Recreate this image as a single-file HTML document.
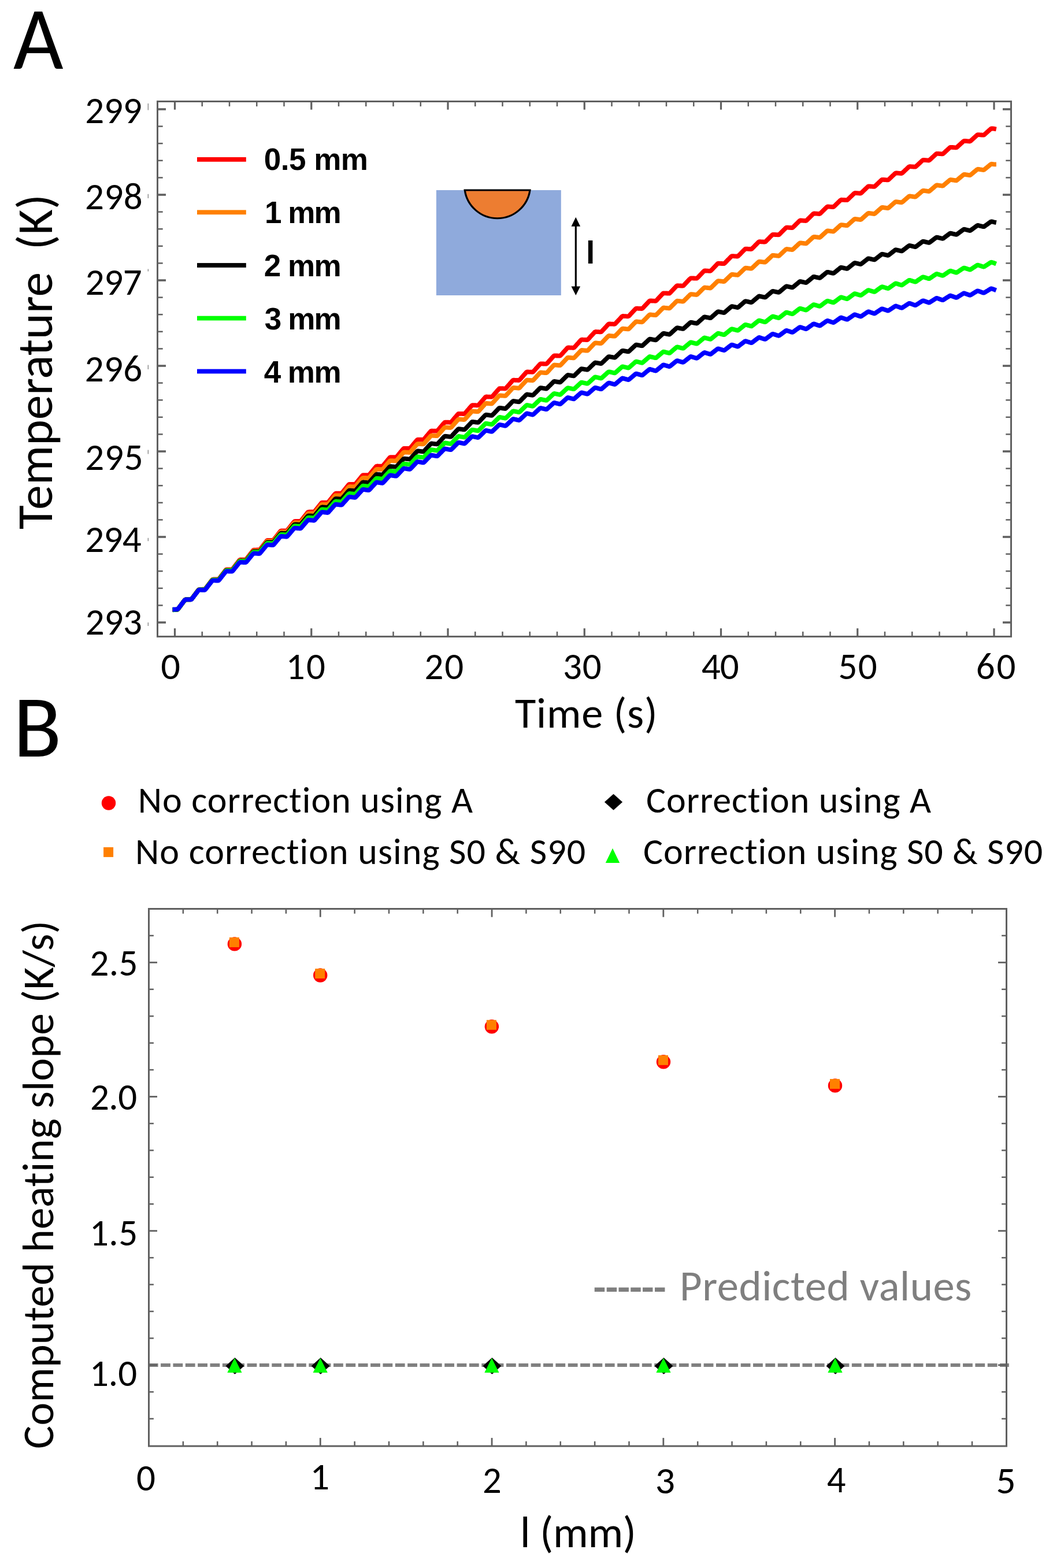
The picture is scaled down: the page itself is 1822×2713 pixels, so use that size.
<!DOCTYPE html>
<html><head><meta charset="utf-8"><title>Figure</title>
<style>html,body{margin:0;padding:0;background:#fff} svg{display:block} text{font-variant-ligatures:none;font-feature-settings:"liga" 0,"clig" 0} .c{font-size-adjust:0.4775}</style></head>
<body><svg width="1822" height="2713" viewBox="0 0 1822 2713">
<rect width="1822" height="2713" fill="#fff"/>
<rect x="272.5" y="175.5" width="1477.0" height="925.9" fill="none" stroke="#606060" stroke-width="3"/>
<g stroke="#606060" fill="none"><line x1="302.50" y1="1101.4" x2="302.50" y2="1087.2" stroke-width="3.2"/><line x1="302.50" y1="175.5" x2="302.50" y2="189.7" stroke-width="3.2"/><line x1="349.75" y1="1101.4" x2="349.75" y2="1092.8" stroke-width="2.5"/><line x1="349.75" y1="175.5" x2="349.75" y2="184.1" stroke-width="2.5"/><line x1="397.00" y1="1101.4" x2="397.00" y2="1092.8" stroke-width="2.5"/><line x1="397.00" y1="175.5" x2="397.00" y2="184.1" stroke-width="2.5"/><line x1="444.25" y1="1101.4" x2="444.25" y2="1092.8" stroke-width="2.5"/><line x1="444.25" y1="175.5" x2="444.25" y2="184.1" stroke-width="2.5"/><line x1="491.50" y1="1101.4" x2="491.50" y2="1092.8" stroke-width="2.5"/><line x1="491.50" y1="175.5" x2="491.50" y2="184.1" stroke-width="2.5"/><line x1="538.75" y1="1101.4" x2="538.75" y2="1087.2" stroke-width="3.2"/><line x1="538.75" y1="175.5" x2="538.75" y2="189.7" stroke-width="3.2"/><line x1="586.00" y1="1101.4" x2="586.00" y2="1092.8" stroke-width="2.5"/><line x1="586.00" y1="175.5" x2="586.00" y2="184.1" stroke-width="2.5"/><line x1="633.25" y1="1101.4" x2="633.25" y2="1092.8" stroke-width="2.5"/><line x1="633.25" y1="175.5" x2="633.25" y2="184.1" stroke-width="2.5"/><line x1="680.50" y1="1101.4" x2="680.50" y2="1092.8" stroke-width="2.5"/><line x1="680.50" y1="175.5" x2="680.50" y2="184.1" stroke-width="2.5"/><line x1="727.75" y1="1101.4" x2="727.75" y2="1092.8" stroke-width="2.5"/><line x1="727.75" y1="175.5" x2="727.75" y2="184.1" stroke-width="2.5"/><line x1="775.00" y1="1101.4" x2="775.00" y2="1087.2" stroke-width="3.2"/><line x1="775.00" y1="175.5" x2="775.00" y2="189.7" stroke-width="3.2"/><line x1="822.25" y1="1101.4" x2="822.25" y2="1092.8" stroke-width="2.5"/><line x1="822.25" y1="175.5" x2="822.25" y2="184.1" stroke-width="2.5"/><line x1="869.50" y1="1101.4" x2="869.50" y2="1092.8" stroke-width="2.5"/><line x1="869.50" y1="175.5" x2="869.50" y2="184.1" stroke-width="2.5"/><line x1="916.75" y1="1101.4" x2="916.75" y2="1092.8" stroke-width="2.5"/><line x1="916.75" y1="175.5" x2="916.75" y2="184.1" stroke-width="2.5"/><line x1="964.00" y1="1101.4" x2="964.00" y2="1092.8" stroke-width="2.5"/><line x1="964.00" y1="175.5" x2="964.00" y2="184.1" stroke-width="2.5"/><line x1="1011.25" y1="1101.4" x2="1011.25" y2="1087.2" stroke-width="3.2"/><line x1="1011.25" y1="175.5" x2="1011.25" y2="189.7" stroke-width="3.2"/><line x1="1058.50" y1="1101.4" x2="1058.50" y2="1092.8" stroke-width="2.5"/><line x1="1058.50" y1="175.5" x2="1058.50" y2="184.1" stroke-width="2.5"/><line x1="1105.75" y1="1101.4" x2="1105.75" y2="1092.8" stroke-width="2.5"/><line x1="1105.75" y1="175.5" x2="1105.75" y2="184.1" stroke-width="2.5"/><line x1="1153.00" y1="1101.4" x2="1153.00" y2="1092.8" stroke-width="2.5"/><line x1="1153.00" y1="175.5" x2="1153.00" y2="184.1" stroke-width="2.5"/><line x1="1200.25" y1="1101.4" x2="1200.25" y2="1092.8" stroke-width="2.5"/><line x1="1200.25" y1="175.5" x2="1200.25" y2="184.1" stroke-width="2.5"/><line x1="1247.50" y1="1101.4" x2="1247.50" y2="1087.2" stroke-width="3.2"/><line x1="1247.50" y1="175.5" x2="1247.50" y2="189.7" stroke-width="3.2"/><line x1="1294.75" y1="1101.4" x2="1294.75" y2="1092.8" stroke-width="2.5"/><line x1="1294.75" y1="175.5" x2="1294.75" y2="184.1" stroke-width="2.5"/><line x1="1342.00" y1="1101.4" x2="1342.00" y2="1092.8" stroke-width="2.5"/><line x1="1342.00" y1="175.5" x2="1342.00" y2="184.1" stroke-width="2.5"/><line x1="1389.25" y1="1101.4" x2="1389.25" y2="1092.8" stroke-width="2.5"/><line x1="1389.25" y1="175.5" x2="1389.25" y2="184.1" stroke-width="2.5"/><line x1="1436.50" y1="1101.4" x2="1436.50" y2="1092.8" stroke-width="2.5"/><line x1="1436.50" y1="175.5" x2="1436.50" y2="184.1" stroke-width="2.5"/><line x1="1483.75" y1="1101.4" x2="1483.75" y2="1087.2" stroke-width="3.2"/><line x1="1483.75" y1="175.5" x2="1483.75" y2="189.7" stroke-width="3.2"/><line x1="1531.00" y1="1101.4" x2="1531.00" y2="1092.8" stroke-width="2.5"/><line x1="1531.00" y1="175.5" x2="1531.00" y2="184.1" stroke-width="2.5"/><line x1="1578.25" y1="1101.4" x2="1578.25" y2="1092.8" stroke-width="2.5"/><line x1="1578.25" y1="175.5" x2="1578.25" y2="184.1" stroke-width="2.5"/><line x1="1625.50" y1="1101.4" x2="1625.50" y2="1092.8" stroke-width="2.5"/><line x1="1625.50" y1="175.5" x2="1625.50" y2="184.1" stroke-width="2.5"/><line x1="1672.75" y1="1101.4" x2="1672.75" y2="1092.8" stroke-width="2.5"/><line x1="1672.75" y1="175.5" x2="1672.75" y2="184.1" stroke-width="2.5"/><line x1="1720.00" y1="1101.4" x2="1720.00" y2="1087.2" stroke-width="3.2"/><line x1="1720.00" y1="175.5" x2="1720.00" y2="189.7" stroke-width="3.2"/><line x1="272.5" y1="189.00" x2="287.0" y2="189.00" stroke-width="3.6"/><line x1="1749.5" y1="189.00" x2="1735.0" y2="189.00" stroke-width="3.6"/><line x1="272.5" y1="218.60" x2="281.7" y2="218.60" stroke-width="2.5"/><line x1="1749.5" y1="218.60" x2="1740.3" y2="218.60" stroke-width="2.5"/><line x1="272.5" y1="248.20" x2="281.7" y2="248.20" stroke-width="2.5"/><line x1="1749.5" y1="248.20" x2="1740.3" y2="248.20" stroke-width="2.5"/><line x1="272.5" y1="277.80" x2="281.7" y2="277.80" stroke-width="2.5"/><line x1="1749.5" y1="277.80" x2="1740.3" y2="277.80" stroke-width="2.5"/><line x1="272.5" y1="307.40" x2="281.7" y2="307.40" stroke-width="2.5"/><line x1="1749.5" y1="307.40" x2="1740.3" y2="307.40" stroke-width="2.5"/><line x1="272.5" y1="337.00" x2="287.0" y2="337.00" stroke-width="3.6"/><line x1="1749.5" y1="337.00" x2="1735.0" y2="337.00" stroke-width="3.6"/><line x1="272.5" y1="366.60" x2="281.7" y2="366.60" stroke-width="2.5"/><line x1="1749.5" y1="366.60" x2="1740.3" y2="366.60" stroke-width="2.5"/><line x1="272.5" y1="396.20" x2="281.7" y2="396.20" stroke-width="2.5"/><line x1="1749.5" y1="396.20" x2="1740.3" y2="396.20" stroke-width="2.5"/><line x1="272.5" y1="425.80" x2="281.7" y2="425.80" stroke-width="2.5"/><line x1="1749.5" y1="425.80" x2="1740.3" y2="425.80" stroke-width="2.5"/><line x1="272.5" y1="455.40" x2="281.7" y2="455.40" stroke-width="2.5"/><line x1="1749.5" y1="455.40" x2="1740.3" y2="455.40" stroke-width="2.5"/><line x1="272.5" y1="485.00" x2="287.0" y2="485.00" stroke-width="3.6"/><line x1="1749.5" y1="485.00" x2="1735.0" y2="485.00" stroke-width="3.6"/><line x1="272.5" y1="514.60" x2="281.7" y2="514.60" stroke-width="2.5"/><line x1="1749.5" y1="514.60" x2="1740.3" y2="514.60" stroke-width="2.5"/><line x1="272.5" y1="544.20" x2="281.7" y2="544.20" stroke-width="2.5"/><line x1="1749.5" y1="544.20" x2="1740.3" y2="544.20" stroke-width="2.5"/><line x1="272.5" y1="573.80" x2="281.7" y2="573.80" stroke-width="2.5"/><line x1="1749.5" y1="573.80" x2="1740.3" y2="573.80" stroke-width="2.5"/><line x1="272.5" y1="603.40" x2="281.7" y2="603.40" stroke-width="2.5"/><line x1="1749.5" y1="603.40" x2="1740.3" y2="603.40" stroke-width="2.5"/><line x1="272.5" y1="633.00" x2="287.0" y2="633.00" stroke-width="3.6"/><line x1="1749.5" y1="633.00" x2="1735.0" y2="633.00" stroke-width="3.6"/><line x1="272.5" y1="662.60" x2="281.7" y2="662.60" stroke-width="2.5"/><line x1="1749.5" y1="662.60" x2="1740.3" y2="662.60" stroke-width="2.5"/><line x1="272.5" y1="692.20" x2="281.7" y2="692.20" stroke-width="2.5"/><line x1="1749.5" y1="692.20" x2="1740.3" y2="692.20" stroke-width="2.5"/><line x1="272.5" y1="721.80" x2="281.7" y2="721.80" stroke-width="2.5"/><line x1="1749.5" y1="721.80" x2="1740.3" y2="721.80" stroke-width="2.5"/><line x1="272.5" y1="751.40" x2="281.7" y2="751.40" stroke-width="2.5"/><line x1="1749.5" y1="751.40" x2="1740.3" y2="751.40" stroke-width="2.5"/><line x1="272.5" y1="781.00" x2="287.0" y2="781.00" stroke-width="3.6"/><line x1="1749.5" y1="781.00" x2="1735.0" y2="781.00" stroke-width="3.6"/><line x1="272.5" y1="810.60" x2="281.7" y2="810.60" stroke-width="2.5"/><line x1="1749.5" y1="810.60" x2="1740.3" y2="810.60" stroke-width="2.5"/><line x1="272.5" y1="840.20" x2="281.7" y2="840.20" stroke-width="2.5"/><line x1="1749.5" y1="840.20" x2="1740.3" y2="840.20" stroke-width="2.5"/><line x1="272.5" y1="869.80" x2="281.7" y2="869.80" stroke-width="2.5"/><line x1="1749.5" y1="869.80" x2="1740.3" y2="869.80" stroke-width="2.5"/><line x1="272.5" y1="899.40" x2="281.7" y2="899.40" stroke-width="2.5"/><line x1="1749.5" y1="899.40" x2="1740.3" y2="899.40" stroke-width="2.5"/><line x1="272.5" y1="929.00" x2="287.0" y2="929.00" stroke-width="3.6"/><line x1="1749.5" y1="929.00" x2="1735.0" y2="929.00" stroke-width="3.6"/><line x1="272.5" y1="958.60" x2="281.7" y2="958.60" stroke-width="2.5"/><line x1="1749.5" y1="958.60" x2="1740.3" y2="958.60" stroke-width="2.5"/><line x1="272.5" y1="988.20" x2="281.7" y2="988.20" stroke-width="2.5"/><line x1="1749.5" y1="988.20" x2="1740.3" y2="988.20" stroke-width="2.5"/><line x1="272.5" y1="1017.80" x2="281.7" y2="1017.80" stroke-width="2.5"/><line x1="1749.5" y1="1017.80" x2="1740.3" y2="1017.80" stroke-width="2.5"/><line x1="272.5" y1="1047.40" x2="281.7" y2="1047.40" stroke-width="2.5"/><line x1="1749.5" y1="1047.40" x2="1740.3" y2="1047.40" stroke-width="2.5"/><line x1="272.5" y1="1077.00" x2="287.0" y2="1077.00" stroke-width="3.6"/><line x1="1749.5" y1="1077.00" x2="1735.0" y2="1077.00" stroke-width="3.6"/><line x1="256.3" y1="178.9" x2="256.3" y2="190.4" stroke="#6a6a6a" stroke-width="1.1"/><line x1="256.3" y1="335.8" x2="256.3" y2="343.0" stroke="#6a6a6a" stroke-width="1.1"/><line x1="256.3" y1="465.4" x2="256.3" y2="469.5" stroke="#6a6a6a" stroke-width="1.1"/><line x1="256.3" y1="631.6" x2="256.3" y2="638.9" stroke="#6a6a6a" stroke-width="1.1"/><line x1="256.3" y1="778.6" x2="256.3" y2="785.5" stroke="#6a6a6a" stroke-width="1.1"/><line x1="256.3" y1="930.7" x2="256.3" y2="936.2" stroke="#6a6a6a" stroke-width="1.1"/><line x1="256.3" y1="1077.0" x2="256.3" y2="1083.0" stroke="#6a6a6a" stroke-width="1.1"/></g>
<path d="M302.5,1054.8L303.0,1054.8L303.4,1054.8L303.9,1054.7L304.4,1054.7L304.9,1054.7L305.3,1054.7L305.8,1054.7L306.3,1054.6L306.8,1054.6L307.2,1054.4L307.7,1054.1L308.2,1053.5L308.6,1053.0L309.1,1052.3L309.6,1051.7L310.1,1051.1L310.5,1050.4L311.0,1049.8L311.5,1049.2L311.9,1048.5L312.4,1047.9L312.9,1047.3L313.4,1046.6L313.8,1046.0L314.3,1045.3L314.8,1044.7L315.3,1044.1L315.7,1043.4L316.2,1042.8L316.7,1042.2L317.1,1041.5L317.6,1040.9L318.1,1040.3L318.6,1039.6L319.0,1039.0L319.5,1038.4L320.0,1037.9L320.5,1037.6L320.9,1037.4L321.4,1037.3L321.9,1037.3L322.3,1037.3L322.8,1037.3L323.3,1037.2L323.8,1037.2L324.2,1037.2L324.7,1037.2L325.2,1037.2L325.7,1037.2L326.1,1037.2L326.6,1037.2L327.1,1037.2L327.5,1037.1L328.0,1037.1L328.5,1037.1L329.0,1037.1L329.4,1037.1L329.9,1037.1L330.4,1037.0L330.9,1036.8L331.3,1036.5L331.8,1036.0L332.3,1035.4L332.7,1034.8L333.2,1034.2L333.7,1033.5L334.2,1032.9L334.6,1032.3L335.1,1031.6L335.6,1031.0L336.0,1030.4L336.5,1029.7L337.0,1029.1L337.5,1028.5L337.9,1027.9L338.4,1027.2L338.9,1026.6L339.4,1026.0L339.8,1025.3L340.3,1024.7L340.8,1024.1L341.2,1023.4L341.7,1022.8L342.2,1022.2L342.7,1021.6L343.1,1021.0L343.6,1020.5L344.1,1020.1L344.6,1019.9L345.0,1019.9L345.5,1019.8L346.0,1019.8L346.4,1019.8L346.9,1019.8L347.4,1019.8L347.9,1019.8L348.3,1019.8L348.8,1019.8L349.3,1019.8L349.8,1019.7L350.2,1019.7L350.7,1019.7L351.2,1019.7L351.6,1019.7L352.1,1019.7L352.6,1019.7L353.1,1019.7L353.5,1019.6L354.0,1019.6L354.5,1019.4L354.9,1019.1L355.4,1018.6L355.9,1018.0L356.4,1017.4L356.8,1016.8L357.3,1016.2L357.8,1015.5L358.3,1014.9L358.7,1014.3L359.2,1013.6L359.7,1013.0L360.1,1012.4L360.6,1011.8L361.1,1011.1L361.6,1010.5L362.0,1009.9L362.5,1009.3L363.0,1008.6L363.5,1008.0L363.9,1007.4L364.4,1006.8L364.9,1006.1L365.3,1005.5L365.8,1004.9L366.3,1004.3L366.8,1003.7L367.2,1003.2L367.7,1002.8L368.2,1002.7L368.6,1002.6L369.1,1002.5L369.6,1002.5L370.1,1002.5L370.5,1002.5L371.0,1002.5L371.5,1002.5L372.0,1002.5L372.4,1002.5L372.9,1002.5L373.4,1002.5L373.8,1002.5L374.3,1002.4L374.8,1002.4L375.3,1002.4L375.7,1002.4L376.2,1002.4L376.7,1002.4L377.2,1002.4L377.6,1002.3L378.1,1002.2L378.6,1001.8L379.0,1001.4L379.5,1000.8L380.0,1000.2L380.5,999.6L380.9,998.9L381.4,998.3L381.9,997.7L382.4,997.1L382.8,996.5L383.3,995.8L383.8,995.2L384.2,994.6L384.7,994.0L385.2,993.3L385.7,992.7L386.1,992.1L386.6,991.5L387.1,990.9L387.6,990.2L388.0,989.6L388.5,989.0L389.0,988.4L389.4,987.8L389.9,987.2L390.4,986.6L390.9,986.1L391.3,985.7L391.8,985.5L392.3,985.4L392.7,985.4L393.2,985.4L393.7,985.4L394.2,985.4L394.6,985.4L395.1,985.4L395.6,985.4L396.1,985.4L396.5,985.3L397.0,985.3L397.5,985.3L397.9,985.3L398.4,985.3L398.9,985.3L399.4,985.3L399.8,985.3L400.3,985.3L400.8,985.3L401.3,985.2L401.7,985.1L402.2,984.8L402.7,984.3L403.1,983.7L403.6,983.1L404.1,982.5L404.6,981.9L405.0,981.3L405.5,980.6L406.0,980.0L406.4,979.4L406.9,978.8L407.4,978.2L407.9,977.6L408.3,976.9L408.8,976.3L409.3,975.7L409.8,975.1L410.2,974.5L410.7,973.9L411.2,973.2L411.6,972.6L412.1,972.0L412.6,971.4L413.1,970.8L413.5,970.2L414.0,969.6L414.5,969.1L415.0,968.7L415.4,968.5L415.9,968.5L416.4,968.4L416.8,968.4L417.3,968.4L417.8,968.4L418.3,968.4L418.7,968.4L419.2,968.4L419.7,968.4L420.2,968.4L420.6,968.4L421.1,968.4L421.6,968.4L422.0,968.4L422.5,968.3L423.0,968.3L423.5,968.3L423.9,968.3L424.4,968.3L424.9,968.3L425.4,968.1L425.8,967.8L426.3,967.3L426.8,966.8L427.2,966.2L427.7,965.6L428.2,965.0L428.7,964.4L429.1,963.7L429.6,963.1L430.1,962.5L430.5,961.9L431.0,961.3L431.5,960.7L432.0,960.1L432.4,959.4L432.9,958.8L433.4,958.2L433.9,957.6L434.3,957.0L434.8,956.4L435.3,955.8L435.7,955.2L436.2,954.6L436.7,953.9L437.2,953.3L437.6,952.8L438.1,952.3L438.6,951.9L439.1,951.7L439.5,951.6L440.0,951.6L440.5,951.6L440.9,951.6L441.4,951.6L441.9,951.6L442.4,951.6L442.8,951.6L443.3,951.6L443.8,951.6L444.2,951.5L444.7,951.5L445.2,951.5L445.7,951.5L446.1,951.5L446.6,951.5L447.1,951.5L447.6,951.5L448.0,951.5L448.5,951.4L449.0,951.3L449.4,951.0L449.9,950.6L450.4,950.0L450.9,949.4L451.3,948.8L451.8,948.2L452.3,947.6L452.8,947.0L453.2,946.4L453.7,945.8L454.2,945.2L454.6,944.6L455.1,943.9L455.6,943.3L456.1,942.7L456.5,942.1L457.0,941.5L457.5,940.9L458.0,940.3L458.4,939.7L458.9,939.1L459.4,938.5L459.8,937.9L460.3,937.3L460.8,936.7L461.3,936.1L461.7,935.6L462.2,935.2L462.7,935.0L463.1,934.9L463.6,934.9L464.1,934.9L464.6,934.9L465.0,934.9L465.5,934.9L466.0,934.9L466.5,934.9L466.9,934.9L467.4,934.9L467.9,934.9L468.3,934.9L468.8,934.9L469.3,934.9L469.8,934.9L470.2,934.9L470.7,934.9L471.2,934.9L471.7,934.8L472.1,934.8L472.6,934.7L473.1,934.4L473.5,933.9L474.0,933.4L474.5,932.8L475.0,932.2L475.4,931.6L475.9,931.0L476.4,930.4L476.9,929.8L477.3,929.2L477.8,928.6L478.3,928.0L478.7,927.4L479.2,926.8L479.7,926.2L480.2,925.5L480.6,924.9L481.1,924.3L481.6,923.7L482.1,923.1L482.5,922.5L483.0,921.9L483.5,921.3L483.9,920.7L484.4,920.1L484.9,919.6L485.4,919.0L485.8,918.7L486.3,918.5L486.8,918.4L487.2,918.4L487.7,918.4L488.2,918.4L488.7,918.4L489.1,918.4L489.6,918.4L490.1,918.4L490.6,918.4L491.0,918.4L491.5,918.4L492.0,918.4L492.4,918.4L492.9,918.4L493.4,918.4L493.9,918.4L494.3,918.3L494.8,918.3L495.3,918.3L495.8,918.3L496.2,918.2L496.7,917.9L497.2,917.5L497.6,916.9L498.1,916.3L498.6,915.7L499.1,915.1L499.5,914.5L500.0,913.9L500.5,913.3L501.0,912.7L501.4,912.1L501.9,911.5L502.4,910.9L502.8,910.3L503.3,909.7L503.8,909.1L504.3,908.5L504.7,907.9L505.2,907.3L505.7,906.7L506.1,906.1L506.6,905.5L507.1,904.9L507.6,904.3L508.0,903.7L508.5,903.2L509.0,902.7L509.5,902.3L509.9,902.1L510.4,902.0L510.9,902.0L511.3,902.0L511.8,902.0L512.3,902.0L512.8,902.0L513.2,902.0L513.7,902.0L514.2,902.0L514.7,902.0L515.1,902.0L515.6,902.0L516.1,902.0L516.5,902.0L517.0,902.0L517.5,902.0L518.0,902.0L518.4,902.0L518.9,902.0L519.4,901.9L519.9,901.8L520.3,901.5L520.8,901.1L521.3,900.6L521.7,900.0L522.2,899.4L522.7,898.8L523.2,898.2L523.6,897.6L524.1,897.0L524.6,896.4L525.0,895.8L525.5,895.2L526.0,894.6L526.5,894.0L526.9,893.4L527.4,892.8L527.9,892.2L528.4,891.7L528.8,891.1L529.3,890.5L529.8,889.9L530.2,889.3L530.7,888.7L531.2,888.1L531.7,887.5L532.1,886.9L532.6,886.4L533.1,886.0L533.6,885.8L534.0,885.8L534.5,885.7L535.0,885.7L535.4,885.7L535.9,885.7L536.4,885.7L536.9,885.7L537.3,885.7L537.8,885.7L538.3,885.7L538.8,885.7L539.2,885.7L539.7,885.7L540.2,885.7L540.6,885.7L541.1,885.7L541.6,885.7L542.1,885.7L542.5,885.7L543.0,885.7L543.5,885.6L543.9,885.3L544.4,884.9L544.9,884.4L545.4,883.8L545.8,883.2L546.3,882.6L546.8,882.0L547.3,881.4L547.7,880.8L548.2,880.3L548.7,879.7L549.1,879.1L549.6,878.5L550.1,877.9L550.6,877.3L551.0,876.7L551.5,876.1L552.0,875.5L552.5,874.9L552.9,874.3L553.4,873.7L553.9,873.2L554.3,872.6L554.8,872.0L555.3,871.4L555.8,870.8L556.2,870.3L556.7,869.9L557.2,869.7L557.6,869.6L558.1,869.6L558.6,869.6L559.1,869.6L559.5,869.6L560.0,869.6L560.5,869.6L561.0,869.6L561.4,869.6L561.9,869.6L562.4,869.6L562.8,869.6L563.3,869.6L563.8,869.6L564.3,869.7L564.7,869.7L565.2,869.7L565.7,869.7L566.2,869.6L566.6,869.6L567.1,869.5L567.6,869.3L568.0,868.8L568.5,868.3L569.0,867.8L569.5,867.2L569.9,866.6L570.4,866.0L570.9,865.4L571.4,864.8L571.8,864.2L572.3,863.6L572.8,863.1L573.2,862.5L573.7,861.9L574.2,861.3L574.7,860.7L575.1,860.1L575.6,859.5L576.1,858.9L576.5,858.3L577.0,857.8L577.5,857.2L578.0,856.6L578.4,856.0L578.9,855.4L579.4,854.9L579.9,854.4L580.3,854.0L580.8,853.8L581.3,853.7L581.7,853.6L582.2,853.6L582.7,853.6L583.2,853.6L583.6,853.7L584.1,853.7L584.6,853.7L585.1,853.7L585.5,853.7L586.0,853.7L586.5,853.7L586.9,853.7L587.4,853.7L587.9,853.7L588.4,853.7L588.8,853.7L589.3,853.7L589.8,853.7L590.3,853.7L590.7,853.6L591.2,853.3L591.7,852.9L592.1,852.4L592.6,851.8L593.1,851.3L593.6,850.7L594.0,850.1L594.5,849.5L595.0,848.9L595.5,848.3L595.9,847.8L596.4,847.2L596.9,846.6L597.3,846.0L597.8,845.4L598.3,844.8L598.8,844.2L599.2,843.7L599.7,843.1L600.2,842.5L600.6,841.9L601.1,841.3L601.6,840.7L602.1,840.2L602.5,839.6L603.0,839.0L603.5,838.5L604.0,838.1L604.4,837.9L604.9,837.8L605.4,837.8L605.8,837.8L606.3,837.8L606.8,837.8L607.3,837.8L607.7,837.8L608.2,837.8L608.7,837.8L609.2,837.8L609.6,837.9L610.1,837.9L610.6,837.9L611.0,837.9L611.5,837.9L612.0,837.9L612.5,837.9L612.9,837.9L613.4,837.9L613.9,837.9L614.4,837.8L614.8,837.5L615.3,837.1L615.8,836.6L616.2,836.1L616.7,835.5L617.2,834.9L617.7,834.3L618.1,833.7L618.6,833.2L619.1,832.6L619.5,832.0L620.0,831.4L620.5,830.8L621.0,830.3L621.4,829.7L621.9,829.1L622.4,828.5L622.9,827.9L623.3,827.4L623.8,826.8L624.3,826.2L624.7,825.6L625.2,825.0L625.7,824.5L626.2,823.9L626.6,823.3L627.1,822.8L627.6,822.4L628.1,822.2L628.5,822.1L629.0,822.1L629.5,822.1L629.9,822.1L630.4,822.1L630.9,822.1L631.4,822.1L631.8,822.1L632.3,822.1L632.8,822.2L633.2,822.2L633.7,822.2L634.2,822.2L634.7,822.2L635.1,822.2L635.6,822.2L636.1,822.2L636.6,822.2L637.0,822.2L637.5,822.2L638.0,822.1L638.4,821.9L638.9,821.5L639.4,821.0L639.9,820.4L640.3,819.8L640.8,819.3L641.3,818.7L641.8,818.1L642.2,817.5L642.7,817.0L643.2,816.4L643.6,815.8L644.1,815.2L644.6,814.7L645.1,814.1L645.5,813.5L646.0,812.9L646.5,812.3L647.0,811.8L647.4,811.2L647.9,810.6L648.4,810.0L648.8,809.5L649.3,808.9L649.8,808.3L650.3,807.8L650.7,807.3L651.2,806.9L651.7,806.7L652.2,806.6L652.6,806.5L653.1,806.5L653.6,806.5L654.0,806.5L654.5,806.6L655.0,806.6L655.5,806.6L655.9,806.6L656.4,806.6L656.9,806.6L657.3,806.6L657.8,806.6L658.3,806.6L658.8,806.6L659.2,806.6L659.7,806.6L660.2,806.7L660.7,806.6L661.1,806.6L661.6,806.5L662.1,806.3L662.5,805.9L663.0,805.4L663.5,804.9L664.0,804.3L664.4,803.8L664.9,803.2L665.4,802.6L665.9,802.0L666.3,801.5L666.8,800.9L667.3,800.3L667.7,799.7L668.2,799.2L668.7,798.6L669.2,798.0L669.6,797.5L670.1,796.9L670.6,796.3L671.0,795.7L671.5,795.2L672.0,794.6L672.5,794.0L672.9,793.5L673.4,792.9L673.9,792.3L674.4,791.8L674.8,791.4L675.3,791.2L675.8,791.1L676.2,791.1L676.7,791.1L677.2,791.1L677.7,791.1L678.1,791.1L678.6,791.1L679.1,791.1L679.6,791.1L680.0,791.2L680.5,791.2L681.0,791.2L681.4,791.2L681.9,791.2L682.4,791.2L682.9,791.2L683.3,791.2L683.8,791.2L684.3,791.2L684.8,791.2L685.2,791.1L685.7,790.9L686.2,790.5L686.6,790.1L687.1,789.5L687.6,788.9L688.1,788.4L688.5,787.8L689.0,787.2L689.5,786.7L690.0,786.1L690.4,785.5L690.9,785.0L691.4,784.4L691.8,783.8L692.3,783.3L692.8,782.7L693.3,782.1L693.7,781.5L694.2,781.0L694.7,780.4L695.1,779.8L695.6,779.3L696.1,778.7L696.6,778.1L697.0,777.6L697.5,777.0L698.0,776.5L698.5,776.1L698.9,775.9L699.4,775.8L699.9,775.8L700.3,775.8L700.8,775.8L701.3,775.8L701.8,775.8L702.2,775.8L702.7,775.8L703.2,775.8L703.7,775.9L704.1,775.9L704.6,775.9L705.1,775.9L705.5,775.9L706.0,775.9L706.5,775.9L707.0,775.9L707.4,775.9L707.9,775.9L708.4,775.9L708.8,775.8L709.3,775.6L709.8,775.3L710.3,774.8L710.7,774.2L711.2,773.7L711.7,773.1L712.2,772.6L712.6,772.0L713.1,771.4L713.6,770.9L714.0,770.3L714.5,769.7L715.0,769.2L715.5,768.6L715.9,768.0L716.4,767.5L716.9,766.9L717.4,766.3L717.8,765.8L718.3,765.2L718.8,764.6L719.2,764.1L719.7,763.5L720.2,763.0L720.7,762.4L721.1,761.9L721.6,761.4L722.1,761.0L722.6,760.7L723.0,760.6L723.5,760.6L724.0,760.6L724.4,760.6L724.9,760.6L725.4,760.6L725.9,760.6L726.3,760.7L726.8,760.7L727.3,760.7L727.8,760.7L728.2,760.7L728.7,760.7L729.2,760.7L729.6,760.7L730.1,760.7L730.6,760.8L731.1,760.8L731.5,760.8L732.0,760.7L732.5,760.7L732.9,760.5L733.4,760.1L733.9,759.7L734.4,759.1L734.8,758.6L735.3,758.0L735.8,757.4L736.3,756.9L736.7,756.3L737.2,755.8L737.7,755.2L738.1,754.6L738.6,754.1L739.1,753.5L739.6,752.9L740.0,752.4L740.5,751.8L741.0,751.3L741.5,750.7L741.9,750.1L742.4,749.6L742.9,749.0L743.3,748.5L743.8,747.9L744.3,747.3L744.8,746.8L745.2,746.3L745.7,745.9L746.2,745.7L746.7,745.6L747.1,745.5L747.6,745.5L748.1,745.6L748.5,745.6L749.0,745.6L749.5,745.6L750.0,745.6L750.4,745.6L750.9,745.6L751.4,745.6L751.8,745.6L752.3,745.7L752.8,745.7L753.3,745.7L753.7,745.7L754.2,745.7L754.7,745.7L755.2,745.7L755.6,745.7L756.1,745.6L756.6,745.5L757.0,745.1L757.5,744.6L758.0,744.1L758.5,743.6L758.9,743.0L759.4,742.4L759.9,741.9L760.4,741.3L760.8,740.8L761.3,740.2L761.8,739.6L762.2,739.1L762.7,738.5L763.2,738.0L763.7,737.4L764.1,736.9L764.6,736.3L765.1,735.7L765.5,735.2L766.0,734.6L766.5,734.1L767.0,733.5L767.4,733.0L767.9,732.4L768.4,731.9L768.9,731.4L769.3,731.0L769.8,730.7L770.3,730.6L770.7,730.6L771.2,730.6L771.7,730.6L772.2,730.6L772.6,730.6L773.1,730.7L773.6,730.7L774.1,730.7L774.5,730.7L775.0,730.7L775.5,730.7L775.9,730.7L776.4,730.7L776.9,730.8L777.4,730.8L777.8,730.8L778.3,730.8L778.8,730.8L779.3,730.8L779.7,730.7L780.2,730.6L780.7,730.2L781.1,729.7L781.6,729.2L782.1,728.7L782.6,728.1L783.0,727.6L783.5,727.0L784.0,726.5L784.5,725.9L784.9,725.3L785.4,724.8L785.9,724.2L786.3,723.7L786.8,723.1L787.3,722.6L787.8,722.0L788.2,721.5L788.7,720.9L789.2,720.4L789.6,719.8L790.1,719.3L790.6,718.7L791.1,718.1L791.5,717.6L792.0,717.1L792.5,716.6L793.0,716.2L793.4,715.9L793.9,715.8L794.4,715.8L794.8,715.8L795.3,715.8L795.8,715.8L796.3,715.8L796.7,715.8L797.2,715.9L797.7,715.9L798.2,715.9L798.6,715.9L799.1,715.9L799.6,715.9L800.0,715.9L800.5,716.0L801.0,716.0L801.5,716.0L801.9,716.0L802.4,716.0L802.9,716.0L803.3,715.9L803.8,715.8L804.3,715.4L804.8,715.0L805.2,714.4L805.7,713.9L806.2,713.4L806.7,712.8L807.1,712.3L807.6,711.7L808.1,711.2L808.5,710.6L809.0,710.1L809.5,709.5L810.0,709.0L810.4,708.4L810.9,707.9L811.4,707.3L811.9,706.7L812.3,706.2L812.8,705.6L813.3,705.1L813.7,704.6L814.2,704.0L814.7,703.5L815.2,702.9L815.6,702.4L816.1,701.9L816.6,701.5L817.1,701.2L817.5,701.1L818.0,701.1L818.5,701.1L818.9,701.1L819.4,701.1L819.9,701.1L820.4,701.2L820.8,701.2L821.3,701.2L821.8,701.2L822.2,701.2L822.7,701.2L823.2,701.2L823.7,701.3L824.1,701.3L824.6,701.3L825.1,701.3L825.6,701.3L826.0,701.3L826.5,701.3L827.0,701.3L827.4,701.1L827.9,700.8L828.4,700.3L828.9,699.8L829.3,699.3L829.8,698.7L830.3,698.2L830.8,697.6L831.2,697.1L831.7,696.5L832.2,696.0L832.6,695.4L833.1,694.9L833.6,694.3L834.1,693.8L834.5,693.2L835.0,692.7L835.5,692.2L836.0,691.6L836.4,691.1L836.9,690.5L837.4,690.0L837.8,689.4L838.3,688.9L838.8,688.3L839.3,687.8L839.7,687.3L840.2,686.9L840.7,686.7L841.1,686.5L841.6,686.5L842.1,686.5L842.6,686.5L843.0,686.5L843.5,686.6L844.0,686.6L844.5,686.6L844.9,686.6L845.4,686.6L845.9,686.6L846.3,686.7L846.8,686.7L847.3,686.7L847.8,686.7L848.2,686.7L848.7,686.7L849.2,686.8L849.7,686.8L850.1,686.8L850.6,686.7L851.1,686.5L851.5,686.2L852.0,685.8L852.5,685.3L853.0,684.7L853.4,684.2L853.9,683.7L854.4,683.1L854.9,682.6L855.3,682.0L855.8,681.5L856.3,680.9L856.7,680.4L857.2,679.8L857.7,679.3L858.2,678.8L858.6,678.2L859.1,677.7L859.6,677.1L860.1,676.6L860.5,676.0L861.0,675.5L861.5,675.0L861.9,674.4L862.4,673.9L862.9,673.4L863.4,672.9L863.8,672.4L864.3,672.2L864.8,672.1L865.2,672.1L865.7,672.1L866.2,672.1L866.7,672.1L867.1,672.1L867.6,672.1L868.1,672.1L868.6,672.2L869.0,672.2L869.5,672.2L870.0,672.2L870.4,672.2L870.9,672.2L871.4,672.3L871.9,672.3L872.3,672.3L872.8,672.3L873.3,672.3L873.8,672.3L874.2,672.3L874.7,672.1L875.2,671.8L875.6,671.4L876.1,670.9L876.6,670.3L877.1,669.8L877.5,669.2L878.0,668.7L878.5,668.2L879.0,667.6L879.4,667.1L879.9,666.5L880.4,666.0L880.8,665.5L881.3,664.9L881.8,664.4L882.3,663.8L882.7,663.3L883.2,662.8L883.7,662.2L884.1,661.7L884.6,661.2L885.1,660.6L885.6,660.1L886.0,659.5L886.5,659.0L887.0,658.5L887.5,658.1L887.9,657.9L888.4,657.7L888.9,657.7L889.3,657.7L889.8,657.7L890.3,657.7L890.8,657.8L891.2,657.8L891.7,657.8L892.2,657.8L892.7,657.8L893.1,657.9L893.6,657.9L894.1,657.9L894.5,657.9L895.0,657.9L895.5,657.9L896.0,658.0L896.4,658.0L896.9,658.0L897.4,658.0L897.9,657.9L898.3,657.8L898.8,657.5L899.3,657.1L899.7,656.6L900.2,656.0L900.7,655.5L901.2,655.0L901.6,654.4L902.1,653.9L902.6,653.3L903.0,652.8L903.5,652.3L904.0,651.7L904.5,651.2L904.9,650.7L905.4,650.1L905.9,649.6L906.4,649.1L906.8,648.5L907.3,648.0L907.8,647.5L908.2,646.9L908.7,646.4L909.2,645.8L909.7,645.3L910.1,644.8L910.6,644.3L911.1,643.9L911.6,643.6L912.0,643.5L912.5,643.5L913.0,643.5L913.4,643.5L913.9,643.5L914.4,643.5L914.9,643.6L915.3,643.6L915.8,643.6L916.3,643.6L916.8,643.6L917.2,643.6L917.7,643.7L918.2,643.7L918.6,643.7L919.1,643.7L919.6,643.7L920.1,643.8L920.5,643.8L921.0,643.8L921.5,643.7L921.9,643.6L922.4,643.3L922.9,642.9L923.4,642.4L923.8,641.8L924.3,641.3L924.8,640.8L925.3,640.3L925.7,639.7L926.2,639.2L926.7,638.7L927.1,638.1L927.6,637.6L928.1,637.1L928.6,636.5L929.0,636.0L929.5,635.5L930.0,634.9L930.5,634.4L930.9,633.9L931.4,633.3L931.9,632.8L932.3,632.3L932.8,631.7L933.3,631.2L933.8,630.7L934.2,630.2L934.7,629.8L935.2,629.5L935.6,629.4L936.1,629.4L936.6,629.4L937.1,629.4L937.5,629.4L938.0,629.4L938.5,629.4L939.0,629.5L939.4,629.5L939.9,629.5L940.4,629.5L940.8,629.5L941.3,629.6L941.8,629.6L942.3,629.6L942.7,629.6L943.2,629.6L943.7,629.7L944.2,629.7L944.6,629.7L945.1,629.6L945.6,629.5L946.0,629.2L946.5,628.8L947.0,628.3L947.5,627.8L947.9,627.3L948.4,626.7L948.9,626.2L949.4,625.7L949.8,625.1L950.3,624.6L950.8,624.1L951.2,623.5L951.7,623.0L952.2,622.5L952.7,622.0L953.1,621.4L953.6,620.9L954.1,620.4L954.6,619.8L955.0,619.3L955.5,618.8L956.0,618.3L956.4,617.7L956.9,617.2L957.4,616.7L957.9,616.2L958.3,615.8L958.8,615.5L959.3,615.4L959.7,615.4L960.2,615.4L960.7,615.4L961.2,615.4L961.6,615.4L962.1,615.4L962.6,615.5L963.1,615.5L963.5,615.5L964.0,615.5L964.5,615.5L964.9,615.6L965.4,615.6L965.9,615.6L966.4,615.6L966.8,615.6L967.3,615.7L967.8,615.7L968.3,615.7L968.7,615.6L969.2,615.5L969.7,615.2L970.1,614.8L970.6,614.3L971.1,613.8L971.6,613.3L972.0,612.8L972.5,612.2L973.0,611.7L973.5,611.2L973.9,610.7L974.4,610.1L974.9,609.6L975.3,609.1L975.8,608.6L976.3,608.0L976.8,607.5L977.2,607.0L977.7,606.5L978.2,605.9L978.6,605.4L979.1,604.9L979.6,604.4L980.1,603.8L980.5,603.3L981.0,602.8L981.5,602.3L982.0,601.9L982.4,601.6L982.9,601.5L983.4,601.5L983.8,601.5L984.3,601.5L984.8,601.5L985.3,601.5L985.7,601.6L986.2,601.6L986.7,601.6L987.2,601.6L987.6,601.6L988.1,601.7L988.6,601.7L989.0,601.7L989.5,601.7L990.0,601.7L990.5,601.8L990.9,601.8L991.4,601.8L991.9,601.8L992.4,601.8L992.8,601.6L993.3,601.4L993.8,601.0L994.2,600.5L994.7,600.0L995.2,599.5L995.7,598.9L996.1,598.4L996.6,597.9L997.1,597.4L997.5,596.8L998.0,596.3L998.5,595.8L999.0,595.3L999.4,594.8L999.9,594.2L1000.4,593.7L1000.9,593.2L1001.3,592.7L1001.8,592.1L1002.3,591.6L1002.7,591.1L1003.2,590.6L1003.7,590.1L1004.2,589.5L1004.6,589.0L1005.1,588.5L1005.6,588.1L1006.1,587.8L1006.5,587.7L1007.0,587.7L1007.5,587.7L1007.9,587.7L1008.4,587.7L1008.9,587.8L1009.4,587.8L1009.8,587.8L1010.3,587.8L1010.8,587.8L1011.2,587.9L1011.7,587.9L1012.2,587.9L1012.7,587.9L1013.1,587.9L1013.6,588.0L1014.1,588.0L1014.6,588.0L1015.0,588.0L1015.5,588.0L1016.0,588.0L1016.4,587.9L1016.9,587.6L1017.4,587.2L1017.9,586.7L1018.3,586.2L1018.8,585.7L1019.3,585.2L1019.8,584.7L1020.2,584.2L1020.7,583.6L1021.2,583.1L1021.6,582.6L1022.1,582.1L1022.6,581.6L1023.1,581.0L1023.5,580.5L1024.0,580.0L1024.5,579.5L1025.0,579.0L1025.4,578.5L1025.9,577.9L1026.4,577.4L1026.8,576.9L1027.3,576.4L1027.8,575.9L1028.3,575.4L1028.7,574.9L1029.2,574.5L1029.7,574.2L1030.2,574.1L1030.6,574.0L1031.1,574.0L1031.6,574.0L1032.0,574.1L1032.5,574.1L1033.0,574.1L1033.5,574.1L1033.9,574.1L1034.4,574.2L1034.9,574.2L1035.3,574.2L1035.8,574.2L1036.3,574.3L1036.8,574.3L1037.2,574.3L1037.7,574.3L1038.2,574.3L1038.7,574.4L1039.1,574.4L1039.6,574.3L1040.1,574.2L1040.5,574.0L1041.0,573.6L1041.5,573.1L1042.0,572.6L1042.4,572.1L1042.9,571.6L1043.4,571.1L1043.9,570.5L1044.3,570.0L1044.8,569.5L1045.3,569.0L1045.7,568.5L1046.2,568.0L1046.7,567.5L1047.2,566.9L1047.6,566.4L1048.1,565.9L1048.6,565.4L1049.1,564.9L1049.5,564.4L1050.0,563.8L1050.5,563.3L1050.9,562.8L1051.4,562.3L1051.9,561.8L1052.4,561.3L1052.8,560.9L1053.3,560.6L1053.8,560.5L1054.2,560.5L1054.7,560.5L1055.2,560.5L1055.7,560.5L1056.1,560.5L1056.6,560.5L1057.1,560.6L1057.6,560.6L1058.0,560.6L1058.5,560.6L1059.0,560.7L1059.4,560.7L1059.9,560.7L1060.4,560.7L1060.9,560.7L1061.3,560.8L1061.8,560.8L1062.3,560.8L1062.8,560.8L1063.2,560.8L1063.7,560.7L1064.2,560.4L1064.6,560.1L1065.1,559.6L1065.6,559.1L1066.1,558.6L1066.5,558.1L1067.0,557.6L1067.5,557.0L1067.9,556.5L1068.4,556.0L1068.9,555.5L1069.4,555.0L1069.8,554.5L1070.3,554.0L1070.8,553.4L1071.3,552.9L1071.7,552.4L1072.2,551.9L1072.7,551.4L1073.1,550.9L1073.6,550.4L1074.1,549.9L1074.6,549.4L1075.0,548.8L1075.5,548.3L1076.0,547.9L1076.5,547.4L1076.9,547.2L1077.4,547.0L1077.9,547.0L1078.3,547.0L1078.8,547.0L1079.3,547.0L1079.8,547.1L1080.2,547.1L1080.7,547.1L1081.2,547.1L1081.7,547.2L1082.1,547.2L1082.6,547.2L1083.1,547.2L1083.5,547.2L1084.0,547.3L1084.5,547.3L1085.0,547.3L1085.4,547.3L1085.9,547.4L1086.4,547.4L1086.8,547.3L1087.3,547.2L1087.8,547.0L1088.3,546.6L1088.7,546.2L1089.2,545.7L1089.7,545.2L1090.2,544.7L1090.6,544.1L1091.1,543.6L1091.6,543.1L1092.0,542.6L1092.5,542.1L1093.0,541.6L1093.5,541.1L1093.9,540.6L1094.4,540.1L1094.9,539.6L1095.4,539.1L1095.8,538.5L1096.3,538.0L1096.8,537.5L1097.2,537.0L1097.7,536.5L1098.2,536.0L1098.7,535.5L1099.1,535.0L1099.6,534.5L1100.1,534.1L1100.6,533.8L1101.0,533.7L1101.5,533.6L1102.0,533.6L1102.4,533.7L1102.9,533.7L1103.4,533.7L1103.9,533.7L1104.3,533.8L1104.8,533.8L1105.3,533.8L1105.8,533.8L1106.2,533.9L1106.7,533.9L1107.2,533.9L1107.6,533.9L1108.1,533.9L1108.6,534.0L1109.1,534.0L1109.5,534.0L1110.0,534.0L1110.5,534.0L1110.9,533.9L1111.4,533.7L1111.9,533.3L1112.4,532.8L1112.8,532.4L1113.3,531.9L1113.8,531.3L1114.3,530.8L1114.7,530.3L1115.2,529.8L1115.7,529.3L1116.1,528.8L1116.6,528.3L1117.1,527.8L1117.6,527.3L1118.0,526.8L1118.5,526.3L1119.0,525.8L1119.5,525.3L1119.9,524.8L1120.4,524.3L1120.9,523.8L1121.3,523.3L1121.8,522.8L1122.3,522.3L1122.8,521.8L1123.2,521.3L1123.7,520.9L1124.2,520.6L1124.7,520.4L1125.1,520.4L1125.6,520.4L1126.1,520.4L1126.5,520.4L1127.0,520.5L1127.5,520.5L1128.0,520.5L1128.4,520.5L1128.9,520.6L1129.4,520.6L1129.8,520.6L1130.3,520.6L1130.8,520.7L1131.3,520.7L1131.7,520.7L1132.2,520.7L1132.7,520.8L1133.2,520.8L1133.6,520.8L1134.1,520.8L1134.6,520.7L1135.0,520.5L1135.5,520.1L1136.0,519.6L1136.5,519.2L1136.9,518.7L1137.4,518.2L1137.9,517.6L1138.4,517.1L1138.8,516.6L1139.3,516.1L1139.8,515.6L1140.2,515.1L1140.7,514.6L1141.2,514.1L1141.7,513.6L1142.1,513.1L1142.6,512.6L1143.1,512.1L1143.6,511.6L1144.0,511.1L1144.5,510.6L1145.0,510.1L1145.4,509.6L1145.9,509.1L1146.4,508.6L1146.9,508.1L1147.3,507.7L1147.8,507.4L1148.3,507.3L1148.7,507.3L1149.2,507.3L1149.7,507.3L1150.2,507.3L1150.6,507.3L1151.1,507.3L1151.6,507.4L1152.1,507.4L1152.5,507.4L1153.0,507.4L1153.5,507.5L1153.9,507.5L1154.4,507.5L1154.9,507.5L1155.4,507.6L1155.8,507.6L1156.3,507.6L1156.8,507.6L1157.3,507.7L1157.7,507.6L1158.2,507.6L1158.7,507.3L1159.1,507.0L1159.6,506.5L1160.1,506.0L1160.6,505.6L1161.0,505.1L1161.5,504.6L1162.0,504.1L1162.4,503.6L1162.9,503.1L1163.4,502.6L1163.9,502.1L1164.3,501.6L1164.8,501.1L1165.3,500.6L1165.8,500.1L1166.2,499.6L1166.7,499.1L1167.2,498.6L1167.6,498.1L1168.1,497.6L1168.6,497.1L1169.1,496.6L1169.5,496.1L1170.0,495.6L1170.5,495.1L1171.0,494.7L1171.4,494.4L1171.9,494.3L1172.4,494.2L1172.8,494.2L1173.3,494.2L1173.8,494.3L1174.3,494.3L1174.7,494.3L1175.2,494.3L1175.7,494.4L1176.2,494.4L1176.6,494.4L1177.1,494.4L1177.6,494.5L1178.0,494.5L1178.5,494.5L1179.0,494.5L1179.5,494.6L1179.9,494.6L1180.4,494.6L1180.9,494.6L1181.3,494.6L1181.8,494.5L1182.3,494.3L1182.8,494.0L1183.2,493.5L1183.7,493.1L1184.2,492.6L1184.7,492.1L1185.1,491.6L1185.6,491.1L1186.1,490.6L1186.5,490.1L1187.0,489.6L1187.5,489.1L1188.0,488.6L1188.4,488.1L1188.9,487.6L1189.4,487.1L1189.9,486.6L1190.3,486.1L1190.8,485.6L1191.3,485.1L1191.7,484.6L1192.2,484.1L1192.7,483.6L1193.2,483.1L1193.6,482.7L1194.1,482.2L1194.6,481.8L1195.1,481.5L1195.5,481.3L1196.0,481.3L1196.5,481.3L1196.9,481.3L1197.4,481.3L1197.9,481.3L1198.4,481.4L1198.8,481.4L1199.3,481.4L1199.8,481.5L1200.2,481.5L1200.7,481.5L1201.2,481.5L1201.7,481.6L1202.1,481.6L1202.6,481.6L1203.1,481.6L1203.6,481.7L1204.0,481.7L1204.5,481.7L1205.0,481.7L1205.4,481.6L1205.9,481.4L1206.4,481.1L1206.9,480.6L1207.3,480.2L1207.8,479.7L1208.3,479.2L1208.8,478.7L1209.2,478.2L1209.7,477.7L1210.2,477.2L1210.6,476.7L1211.1,476.2L1211.6,475.7L1212.1,475.2L1212.5,474.7L1213.0,474.3L1213.5,473.8L1214.0,473.3L1214.4,472.8L1214.9,472.3L1215.4,471.8L1215.8,471.3L1216.3,470.8L1216.8,470.3L1217.3,469.8L1217.7,469.4L1218.2,468.9L1218.7,468.6L1219.2,468.5L1219.6,468.4L1220.1,468.4L1220.6,468.5L1221.0,468.5L1221.5,468.5L1222.0,468.5L1222.5,468.6L1222.9,468.6L1223.4,468.6L1223.9,468.7L1224.3,468.7L1224.8,468.7L1225.3,468.7L1225.8,468.8L1226.2,468.8L1226.7,468.8L1227.2,468.8L1227.7,468.9L1228.1,468.9L1228.6,468.9L1229.1,468.8L1229.5,468.6L1230.0,468.3L1230.5,467.8L1231.0,467.4L1231.4,466.9L1231.9,466.4L1232.4,465.9L1232.9,465.4L1233.3,464.9L1233.8,464.4L1234.3,463.9L1234.7,463.5L1235.2,463.0L1235.7,462.5L1236.2,462.0L1236.6,461.5L1237.1,461.0L1237.6,460.5L1238.1,460.0L1238.5,459.5L1239.0,459.1L1239.5,458.6L1239.9,458.1L1240.4,457.6L1240.9,457.1L1241.4,456.6L1241.8,456.2L1242.3,455.9L1242.8,455.8L1243.2,455.7L1243.7,455.7L1244.2,455.7L1244.7,455.8L1245.1,455.8L1245.6,455.8L1246.1,455.8L1246.6,455.9L1247.0,455.9L1247.5,455.9L1248.0,456.0L1248.4,456.0L1248.9,456.0L1249.4,456.0L1249.9,456.1L1250.3,456.1L1250.8,456.1L1251.3,456.1L1251.8,456.2L1252.2,456.2L1252.7,456.1L1253.2,455.9L1253.6,455.6L1254.1,455.1L1254.6,454.7L1255.1,454.2L1255.5,453.7L1256.0,453.2L1256.5,452.7L1256.9,452.2L1257.4,451.8L1257.9,451.3L1258.4,450.8L1258.8,450.3L1259.3,449.8L1259.8,449.3L1260.3,448.8L1260.7,448.4L1261.2,447.9L1261.7,447.4L1262.1,446.9L1262.6,446.4L1263.1,445.9L1263.6,445.4L1264.0,445.0L1264.5,444.5L1265.0,444.0L1265.5,443.6L1265.9,443.3L1266.4,443.1L1266.9,443.1L1267.3,443.1L1267.8,443.1L1268.3,443.1L1268.8,443.2L1269.2,443.2L1269.7,443.2L1270.2,443.2L1270.7,443.3L1271.1,443.3L1271.6,443.3L1272.1,443.4L1272.5,443.4L1273.0,443.4L1273.5,443.4L1274.0,443.5L1274.4,443.5L1274.9,443.5L1275.4,443.5L1275.8,443.5L1276.3,443.5L1276.8,443.3L1277.3,443.0L1277.7,442.5L1278.2,442.1L1278.7,441.6L1279.2,441.1L1279.6,440.6L1280.1,440.2L1280.6,439.7L1281.0,439.2L1281.5,438.7L1282.0,438.2L1282.5,437.7L1282.9,437.3L1283.4,436.8L1283.9,436.3L1284.4,435.8L1284.8,435.3L1285.3,434.8L1285.8,434.4L1286.2,433.9L1286.7,433.4L1287.2,432.9L1287.7,432.4L1288.1,432.0L1288.6,431.5L1289.1,431.1L1289.6,430.8L1290.0,430.6L1290.5,430.6L1291.0,430.6L1291.4,430.6L1291.9,430.6L1292.4,430.6L1292.9,430.7L1293.3,430.7L1293.8,430.7L1294.3,430.8L1294.8,430.8L1295.2,430.8L1295.7,430.8L1296.2,430.9L1296.6,430.9L1297.1,430.9L1297.6,431.0L1298.1,431.0L1298.5,431.0L1299.0,431.0L1299.5,431.0L1299.9,431.0L1300.4,430.8L1300.9,430.5L1301.4,430.1L1301.8,429.6L1302.3,429.1L1302.8,428.6L1303.3,428.2L1303.7,427.7L1304.2,427.2L1304.7,426.7L1305.1,426.2L1305.6,425.8L1306.1,425.3L1306.6,424.8L1307.0,424.3L1307.5,423.8L1308.0,423.4L1308.5,422.9L1308.9,422.4L1309.4,421.9L1309.9,421.5L1310.3,421.0L1310.8,420.5L1311.3,420.0L1311.8,419.5L1312.2,419.1L1312.7,418.7L1313.2,418.4L1313.7,418.2L1314.1,418.1L1314.6,418.1L1315.1,418.2L1315.5,418.2L1316.0,418.2L1316.5,418.2L1317.0,418.3L1317.4,418.3L1317.9,418.3L1318.4,418.4L1318.8,418.4L1319.3,418.4L1319.8,418.4L1320.3,418.5L1320.7,418.5L1321.2,418.5L1321.7,418.6L1322.2,418.6L1322.6,418.6L1323.1,418.6L1323.6,418.6L1324.0,418.4L1324.5,418.1L1325.0,417.7L1325.5,417.2L1325.9,416.7L1326.4,416.3L1326.9,415.8L1327.4,415.3L1327.8,414.8L1328.3,414.4L1328.8,413.9L1329.2,413.4L1329.7,412.9L1330.2,412.5L1330.7,412.0L1331.1,411.5L1331.6,411.0L1332.1,410.5L1332.5,410.1L1333.0,409.6L1333.5,409.1L1334.0,408.6L1334.4,408.2L1334.9,407.7L1335.4,407.2L1335.9,406.8L1336.3,406.4L1336.8,406.0L1337.3,405.9L1337.7,405.8L1338.2,405.8L1338.7,405.8L1339.2,405.9L1339.6,405.9L1340.1,405.9L1340.6,406.0L1341.1,406.0L1341.5,406.0L1342.0,406.0L1342.5,406.1L1342.9,406.1L1343.4,406.1L1343.9,406.2L1344.4,406.2L1344.8,406.2L1345.3,406.2L1345.8,406.3L1346.3,406.3L1346.7,406.3L1347.2,406.2L1347.7,406.1L1348.1,405.8L1348.6,405.4L1349.1,404.9L1349.6,404.5L1350.0,404.0L1350.5,403.5L1351.0,403.0L1351.5,402.6L1351.9,402.1L1352.4,401.6L1352.9,401.1L1353.3,400.7L1353.8,400.2L1354.3,399.7L1354.8,399.3L1355.2,398.8L1355.7,398.3L1356.2,397.8L1356.6,397.4L1357.1,396.9L1357.6,396.4L1358.1,395.9L1358.5,395.5L1359.0,395.0L1359.5,394.6L1360.0,394.1L1360.4,393.8L1360.9,393.6L1361.4,393.6L1361.8,393.6L1362.3,393.6L1362.8,393.6L1363.3,393.7L1363.7,393.7L1364.2,393.7L1364.7,393.8L1365.2,393.8L1365.6,393.8L1366.1,393.9L1366.6,393.9L1367.0,393.9L1367.5,393.9L1368.0,394.0L1368.5,394.0L1368.9,394.0L1369.4,394.1L1369.9,394.1L1370.4,394.1L1370.8,394.0L1371.3,393.9L1371.8,393.6L1372.2,393.2L1372.7,392.7L1373.2,392.3L1373.7,391.8L1374.1,391.3L1374.6,390.9L1375.1,390.4L1375.5,389.9L1376.0,389.5L1376.5,389.0L1377.0,388.5L1377.4,388.0L1377.9,387.6L1378.4,387.1L1378.9,386.6L1379.3,386.2L1379.8,385.7L1380.3,385.2L1380.7,384.8L1381.2,384.3L1381.7,383.8L1382.2,383.4L1382.6,382.9L1383.1,382.4L1383.6,382.0L1384.1,381.7L1384.5,381.5L1385.0,381.5L1385.5,381.5L1385.9,381.5L1386.4,381.5L1386.9,381.5L1387.4,381.6L1387.8,381.6L1388.3,381.6L1388.8,381.7L1389.2,381.7L1389.7,381.7L1390.2,381.8L1390.7,381.8L1391.1,381.8L1391.6,381.9L1392.1,381.9L1392.6,381.9L1393.0,381.9L1393.5,382.0L1394.0,382.0L1394.4,381.9L1394.9,381.8L1395.4,381.5L1395.9,381.1L1396.3,380.7L1396.8,380.2L1397.3,379.7L1397.8,379.3L1398.2,378.8L1398.7,378.3L1399.2,377.9L1399.6,377.4L1400.1,376.9L1400.6,376.5L1401.1,376.0L1401.5,375.5L1402.0,375.1L1402.5,374.6L1403.0,374.1L1403.4,373.7L1403.9,373.2L1404.4,372.7L1404.8,372.3L1405.3,371.8L1405.8,371.3L1406.3,370.9L1406.7,370.4L1407.2,370.0L1407.7,369.7L1408.2,369.5L1408.6,369.4L1409.1,369.4L1409.6,369.5L1410.0,369.5L1410.5,369.5L1411.0,369.6L1411.5,369.6L1411.9,369.6L1412.4,369.7L1412.9,369.7L1413.3,369.7L1413.8,369.7L1414.3,369.8L1414.8,369.8L1415.2,369.8L1415.7,369.9L1416.2,369.9L1416.7,369.9L1417.1,370.0L1417.6,370.0L1418.1,369.9L1418.5,369.8L1419.0,369.5L1419.5,369.1L1420.0,368.7L1420.4,368.2L1420.9,367.7L1421.4,367.3L1421.9,366.8L1422.3,366.4L1422.8,365.9L1423.3,365.4L1423.7,365.0L1424.2,364.5L1424.7,364.0L1425.2,363.6L1425.6,363.1L1426.1,362.7L1426.6,362.2L1427.0,361.7L1427.5,361.3L1428.0,360.8L1428.5,360.3L1428.9,359.9L1429.4,359.4L1429.9,359.0L1430.4,358.5L1430.8,358.1L1431.3,357.8L1431.8,357.6L1432.2,357.5L1432.7,357.5L1433.2,357.5L1433.7,357.6L1434.1,357.6L1434.6,357.6L1435.1,357.7L1435.6,357.7L1436.0,357.7L1436.5,357.8L1437.0,357.8L1437.4,357.8L1437.9,357.9L1438.4,357.9L1438.9,357.9L1439.3,358.0L1439.8,358.0L1440.3,358.0L1440.8,358.0L1441.2,358.0L1441.7,358.0L1442.2,357.9L1442.6,357.6L1443.1,357.2L1443.6,356.8L1444.1,356.3L1444.5,355.9L1445.0,355.4L1445.5,354.9L1446.0,354.5L1446.4,354.0L1446.9,353.6L1447.4,353.1L1447.8,352.6L1448.3,352.2L1448.8,351.7L1449.3,351.3L1449.7,350.8L1450.2,350.3L1450.7,349.9L1451.1,349.4L1451.6,349.0L1452.1,348.5L1452.6,348.1L1453.0,347.6L1453.5,347.1L1454.0,346.7L1454.5,346.3L1454.9,346.0L1455.4,345.8L1455.9,345.7L1456.3,345.7L1456.8,345.7L1457.3,345.8L1457.8,345.8L1458.2,345.8L1458.7,345.9L1459.2,345.9L1459.7,345.9L1460.1,345.9L1460.6,346.0L1461.1,346.0L1461.5,346.0L1462.0,346.1L1462.5,346.1L1463.0,346.1L1463.4,346.2L1463.9,346.2L1464.4,346.2L1464.9,346.2L1465.3,346.2L1465.8,346.1L1466.3,345.8L1466.7,345.4L1467.2,345.0L1467.7,344.5L1468.2,344.1L1468.6,343.6L1469.1,343.2L1469.6,342.7L1470.0,342.3L1470.5,341.8L1471.0,341.3L1471.5,340.9L1471.9,340.4L1472.4,340.0L1472.9,339.5L1473.4,339.1L1473.8,338.6L1474.3,338.2L1474.8,337.7L1475.2,337.2L1475.7,336.8L1476.2,336.3L1476.7,335.9L1477.1,335.4L1477.6,335.0L1478.1,334.6L1478.6,334.2L1479.0,334.1L1479.5,334.0L1480.0,334.0L1480.4,334.0L1480.9,334.0L1481.4,334.1L1481.9,334.1L1482.3,334.1L1482.8,334.2L1483.3,334.2L1483.8,334.2L1484.2,334.3L1484.7,334.3L1485.2,334.3L1485.6,334.4L1486.1,334.4L1486.6,334.4L1487.1,334.5L1487.5,334.5L1488.0,334.5L1488.5,334.5L1488.9,334.5L1489.4,334.4L1489.9,334.1L1490.4,333.7L1490.8,333.3L1491.3,332.9L1491.8,332.4L1492.3,332.0L1492.7,331.5L1493.2,331.1L1493.7,330.6L1494.1,330.1L1494.6,329.7L1495.1,329.2L1495.6,328.8L1496.0,328.3L1496.5,327.9L1497.0,327.4L1497.5,327.0L1497.9,326.5L1498.4,326.1L1498.9,325.6L1499.3,325.2L1499.8,324.7L1500.3,324.3L1500.8,323.8L1501.2,323.4L1501.7,323.0L1502.2,322.6L1502.7,322.4L1503.1,322.4L1503.6,322.4L1504.1,322.4L1504.5,322.4L1505.0,322.4L1505.5,322.5L1506.0,322.5L1506.4,322.5L1506.9,322.6L1507.4,322.6L1507.8,322.6L1508.3,322.7L1508.8,322.7L1509.3,322.7L1509.7,322.8L1510.2,322.8L1510.7,322.8L1511.2,322.9L1511.6,322.9L1512.1,322.9L1512.6,322.9L1513.0,322.8L1513.5,322.5L1514.0,322.2L1514.5,321.7L1514.9,321.3L1515.4,320.8L1515.9,320.4L1516.4,319.9L1516.8,319.5L1517.3,319.0L1517.8,318.6L1518.2,318.1L1518.7,317.7L1519.2,317.2L1519.7,316.8L1520.1,316.3L1520.6,315.9L1521.1,315.4L1521.5,315.0L1522.0,314.5L1522.5,314.1L1523.0,313.6L1523.4,313.2L1523.9,312.7L1524.4,312.3L1524.9,311.9L1525.3,311.4L1525.8,311.1L1526.3,310.9L1526.7,310.8L1527.2,310.8L1527.7,310.9L1528.2,310.9L1528.6,310.9L1529.1,311.0L1529.6,311.0L1530.1,311.0L1530.5,311.1L1531.0,311.1L1531.5,311.1L1531.9,311.2L1532.4,311.2L1532.9,311.2L1533.4,311.3L1533.8,311.3L1534.3,311.3L1534.8,311.4L1535.3,311.4L1535.7,311.4L1536.2,311.4L1536.7,311.3L1537.1,311.0L1537.6,310.7L1538.1,310.2L1538.6,309.8L1539.0,309.4L1539.5,308.9L1540.0,308.5L1540.5,308.0L1540.9,307.6L1541.4,307.1L1541.9,306.7L1542.3,306.2L1542.8,305.8L1543.3,305.3L1543.8,304.9L1544.2,304.4L1544.7,304.0L1545.2,303.5L1545.6,303.1L1546.1,302.7L1546.6,302.2L1547.1,301.8L1547.5,301.3L1548.0,300.9L1548.5,300.4L1549.0,300.0L1549.4,299.7L1549.9,299.5L1550.4,299.4L1550.8,299.4L1551.3,299.4L1551.8,299.5L1552.3,299.5L1552.7,299.5L1553.2,299.6L1553.7,299.6L1554.2,299.7L1554.6,299.7L1555.1,299.7L1555.6,299.8L1556.0,299.8L1556.5,299.8L1557.0,299.9L1557.5,299.9L1557.9,299.9L1558.4,300.0L1558.9,300.0L1559.4,300.0L1559.8,300.0L1560.3,299.9L1560.8,299.6L1561.2,299.3L1561.7,298.9L1562.2,298.4L1562.7,298.0L1563.1,297.5L1563.6,297.1L1564.1,296.7L1564.5,296.2L1565.0,295.8L1565.5,295.3L1566.0,294.9L1566.4,294.4L1566.9,294.0L1567.4,293.5L1567.9,293.1L1568.3,292.7L1568.8,292.2L1569.3,291.8L1569.7,291.3L1570.2,290.9L1570.7,290.4L1571.2,290.0L1571.6,289.6L1572.1,289.1L1572.6,288.7L1573.1,288.4L1573.5,288.2L1574.0,288.1L1574.5,288.1L1574.9,288.1L1575.4,288.2L1575.9,288.2L1576.4,288.2L1576.8,288.3L1577.3,288.3L1577.8,288.3L1578.2,288.4L1578.7,288.4L1579.2,288.4L1579.7,288.5L1580.1,288.5L1580.6,288.5L1581.1,288.6L1581.6,288.6L1582.0,288.7L1582.5,288.7L1583.0,288.7L1583.4,288.7L1583.9,288.6L1584.4,288.3L1584.9,288.0L1585.3,287.6L1585.8,287.1L1586.3,286.7L1586.8,286.3L1587.2,285.8L1587.7,285.4L1588.2,284.9L1588.6,284.5L1589.1,284.1L1589.6,283.6L1590.1,283.2L1590.5,282.7L1591.0,282.3L1591.5,281.9L1592.0,281.4L1592.4,281.0L1592.9,280.5L1593.4,280.1L1593.8,279.7L1594.3,279.2L1594.8,278.8L1595.3,278.4L1595.7,277.9L1596.2,277.5L1596.7,277.2L1597.2,277.0L1597.6,276.9L1598.1,276.9L1598.6,276.9L1599.0,276.9L1599.5,277.0L1600.0,277.0L1600.5,277.1L1600.9,277.1L1601.4,277.1L1601.9,277.2L1602.3,277.2L1602.8,277.2L1603.3,277.3L1603.8,277.3L1604.2,277.3L1604.7,277.4L1605.2,277.4L1605.7,277.4L1606.1,277.5L1606.6,277.5L1607.1,277.5L1607.5,277.4L1608.0,277.2L1608.5,276.8L1609.0,276.4L1609.4,276.0L1609.9,275.5L1610.4,275.1L1610.9,274.7L1611.3,274.2L1611.8,273.8L1612.3,273.4L1612.7,272.9L1613.2,272.5L1613.7,272.0L1614.2,271.6L1614.6,271.2L1615.1,270.7L1615.6,270.3L1616.0,269.9L1616.5,269.4L1617.0,269.0L1617.5,268.5L1617.9,268.1L1618.4,267.7L1618.9,267.2L1619.4,266.8L1619.8,266.4L1620.3,266.1L1620.8,265.9L1621.2,265.8L1621.7,265.8L1622.2,265.8L1622.7,265.8L1623.1,265.9L1623.6,265.9L1624.1,265.9L1624.6,266.0L1625.0,266.0L1625.5,266.1L1626.0,266.1L1626.4,266.1L1626.9,266.2L1627.4,266.2L1627.9,266.2L1628.3,266.3L1628.8,266.3L1629.3,266.3L1629.8,266.4L1630.2,266.4L1630.7,266.4L1631.2,266.3L1631.6,266.1L1632.1,265.7L1632.6,265.3L1633.1,264.9L1633.5,264.5L1634.0,264.0L1634.5,263.6L1635.0,263.2L1635.4,262.7L1635.9,262.3L1636.4,261.9L1636.8,261.4L1637.3,261.0L1637.8,260.6L1638.3,260.1L1638.7,259.7L1639.2,259.3L1639.7,258.8L1640.1,258.4L1640.6,258.0L1641.1,257.5L1641.6,257.1L1642.0,256.7L1642.5,256.2L1643.0,255.8L1643.5,255.4L1643.9,255.1L1644.4,254.9L1644.9,254.8L1645.3,254.8L1645.8,254.8L1646.3,254.8L1646.8,254.9L1647.2,254.9L1647.7,254.9L1648.2,255.0L1648.7,255.0L1649.1,255.0L1649.6,255.1L1650.1,255.1L1650.5,255.2L1651.0,255.2L1651.5,255.2L1652.0,255.3L1652.4,255.3L1652.9,255.3L1653.4,255.4L1653.9,255.4L1654.3,255.4L1654.8,255.3L1655.3,255.1L1655.7,254.8L1656.2,254.4L1656.7,253.9L1657.2,253.5L1657.6,253.1L1658.1,252.6L1658.6,252.2L1659.0,251.8L1659.5,251.3L1660.0,250.9L1660.5,250.5L1660.9,250.1L1661.4,249.6L1661.9,249.2L1662.4,248.8L1662.8,248.3L1663.3,247.9L1663.8,247.5L1664.2,247.0L1664.7,246.6L1665.2,246.2L1665.7,245.8L1666.1,245.3L1666.6,244.9L1667.1,244.5L1667.6,244.2L1668.0,244.0L1668.5,243.9L1669.0,243.9L1669.4,243.9L1669.9,243.9L1670.4,244.0L1670.9,244.0L1671.3,244.0L1671.8,244.1L1672.3,244.1L1672.8,244.1L1673.2,244.2L1673.7,244.2L1674.2,244.3L1674.6,244.3L1675.1,244.3L1675.6,244.4L1676.1,244.4L1676.5,244.4L1677.0,244.5L1677.5,244.5L1677.9,244.5L1678.4,244.4L1678.9,244.2L1679.4,243.9L1679.8,243.5L1680.3,243.1L1680.8,242.6L1681.3,242.2L1681.7,241.8L1682.2,241.4L1682.7,240.9L1683.1,240.5L1683.6,240.1L1684.1,239.6L1684.6,239.2L1685.0,238.8L1685.5,238.4L1686.0,237.9L1686.5,237.5L1686.9,237.1L1687.4,236.7L1687.9,236.2L1688.3,235.8L1688.8,235.4L1689.3,235.0L1689.8,234.5L1690.2,234.1L1690.7,233.7L1691.2,233.4L1691.7,233.2L1692.1,233.1L1692.6,233.1L1693.1,233.1L1693.5,233.1L1694.0,233.2L1694.5,233.2L1695.0,233.2L1695.4,233.3L1695.9,233.3L1696.4,233.3L1696.8,233.4L1697.3,233.4L1697.8,233.5L1698.3,233.5L1698.7,233.5L1699.2,233.6L1699.7,233.6L1700.2,233.6L1700.6,233.7L1701.1,233.7L1701.6,233.7L1702.0,233.6L1702.5,233.4L1703.0,233.1L1703.5,232.7L1703.9,232.3L1704.4,231.9L1704.9,231.5L1705.4,231.0L1705.8,230.6L1706.3,230.2L1706.8,229.8L1707.2,229.3L1707.7,228.9L1708.2,228.5L1708.7,228.1L1709.1,227.6L1709.6,227.2L1710.1,226.8L1710.5,226.4L1711.0,225.9L1711.5,225.5L1712.0,225.1L1712.4,224.7L1712.9,224.3L1713.4,223.8L1713.9,223.4L1714.3,223.0L1714.8,222.7L1715.3,222.5L1715.7,222.4L1716.2,222.4L1716.7,222.4L1717.2,222.4L1717.6,222.5L1718.1,222.5L1718.6,222.5L1719.1,222.6L1719.5,222.6L1720.0,222.7" fill="none" stroke="#ff0000" stroke-width="7.8" stroke-linecap="square" stroke-linejoin="round"/>
<path d="M302.5,1054.8L303.0,1054.8L303.4,1054.8L303.9,1054.8L304.4,1054.8L304.9,1054.8L305.3,1054.8L305.8,1054.7L306.3,1054.7L306.8,1054.6L307.2,1054.5L307.7,1054.1L308.2,1053.6L308.6,1053.0L309.1,1052.4L309.6,1051.8L310.1,1051.1L310.5,1050.5L311.0,1049.9L311.5,1049.2L311.9,1048.6L312.4,1048.0L312.9,1047.3L313.4,1046.7L313.8,1046.1L314.3,1045.4L314.8,1044.8L315.3,1044.2L315.7,1043.6L316.2,1042.9L316.7,1042.3L317.1,1041.7L317.6,1041.0L318.1,1040.4L318.6,1039.8L319.0,1039.1L319.5,1038.6L320.0,1038.1L320.5,1037.7L320.9,1037.5L321.4,1037.5L321.9,1037.4L322.3,1037.4L322.8,1037.4L323.3,1037.4L323.8,1037.4L324.2,1037.4L324.7,1037.4L325.2,1037.4L325.7,1037.3L326.1,1037.3L326.6,1037.3L327.1,1037.3L327.5,1037.3L328.0,1037.3L328.5,1037.3L329.0,1037.3L329.4,1037.3L329.9,1037.2L330.4,1037.2L330.9,1037.0L331.3,1036.7L331.8,1036.2L332.3,1035.6L332.7,1035.0L333.2,1034.3L333.7,1033.7L334.2,1033.1L334.6,1032.5L335.1,1031.8L335.6,1031.2L336.0,1030.6L336.5,1030.0L337.0,1029.3L337.5,1028.7L337.9,1028.1L338.4,1027.4L338.9,1026.8L339.4,1026.2L339.8,1025.6L340.3,1024.9L340.8,1024.3L341.2,1023.7L341.7,1023.1L342.2,1022.4L342.7,1021.8L343.1,1021.2L343.6,1020.7L344.1,1020.4L344.6,1020.2L345.0,1020.1L345.5,1020.1L346.0,1020.1L346.4,1020.1L346.9,1020.1L347.4,1020.1L347.9,1020.1L348.3,1020.1L348.8,1020.0L349.3,1020.0L349.8,1020.0L350.2,1020.0L350.7,1020.0L351.2,1020.0L351.6,1020.0L352.1,1020.0L352.6,1020.0L353.1,1020.0L353.5,1020.0L354.0,1019.9L354.5,1019.7L354.9,1019.4L355.4,1018.9L355.9,1018.3L356.4,1017.7L356.8,1017.1L357.3,1016.5L357.8,1015.9L358.3,1015.3L358.7,1014.6L359.2,1014.0L359.7,1013.4L360.1,1012.8L360.6,1012.1L361.1,1011.5L361.6,1010.9L362.0,1010.3L362.5,1009.6L363.0,1009.0L363.5,1008.4L363.9,1007.8L364.4,1007.2L364.9,1006.5L365.3,1005.9L365.8,1005.3L366.3,1004.7L366.8,1004.1L367.2,1003.6L367.7,1003.3L368.2,1003.1L368.6,1003.0L369.1,1003.0L369.6,1003.0L370.1,1003.0L370.5,1003.0L371.0,1003.0L371.5,1002.9L372.0,1002.9L372.4,1002.9L372.9,1002.9L373.4,1002.9L373.8,1002.9L374.3,1002.9L374.8,1002.9L375.3,1002.9L375.7,1002.9L376.2,1002.9L376.7,1002.9L377.2,1002.9L377.6,1002.8L378.1,1002.7L378.6,1002.4L379.0,1001.9L379.5,1001.3L380.0,1000.7L380.5,1000.1L380.9,999.5L381.4,998.9L381.9,998.2L382.4,997.6L382.8,997.0L383.3,996.4L383.8,995.8L384.2,995.1L384.7,994.5L385.2,993.9L385.7,993.3L386.1,992.7L386.6,992.1L387.1,991.4L387.6,990.8L388.0,990.2L388.5,989.6L389.0,989.0L389.4,988.4L389.9,987.8L390.4,987.2L390.9,986.7L391.3,986.3L391.8,986.1L392.3,986.1L392.7,986.0L393.2,986.0L393.7,986.0L394.2,986.0L394.6,986.0L395.1,986.0L395.6,986.0L396.1,986.0L396.5,986.0L397.0,986.0L397.5,986.0L397.9,986.0L398.4,986.0L398.9,986.0L399.4,986.0L399.8,986.0L400.3,986.0L400.8,986.0L401.3,985.9L401.7,985.8L402.2,985.5L402.7,985.0L403.1,984.5L403.6,983.9L404.1,983.2L404.6,982.6L405.0,982.0L405.5,981.4L406.0,980.8L406.4,980.2L406.9,979.6L407.4,979.0L407.9,978.3L408.3,977.7L408.8,977.1L409.3,976.5L409.8,975.9L410.2,975.3L410.7,974.7L411.2,974.1L411.6,973.5L412.1,972.8L412.6,972.2L413.1,971.6L413.5,971.0L414.0,970.4L414.5,969.9L415.0,969.6L415.4,969.4L415.9,969.3L416.4,969.3L416.8,969.3L417.3,969.3L417.8,969.3L418.3,969.3L418.7,969.3L419.2,969.3L419.7,969.3L420.2,969.3L420.6,969.3L421.1,969.3L421.6,969.3L422.0,969.3L422.5,969.3L423.0,969.3L423.5,969.3L423.9,969.3L424.4,969.3L424.9,969.2L425.4,969.1L425.8,968.8L426.3,968.3L426.8,967.8L427.2,967.2L427.7,966.6L428.2,966.0L428.7,965.4L429.1,964.8L429.6,964.2L430.1,963.6L430.5,963.0L431.0,962.3L431.5,961.7L432.0,961.1L432.4,960.5L432.9,959.9L433.4,959.3L433.9,958.7L434.3,958.1L434.8,957.5L435.3,956.9L435.7,956.3L436.2,955.7L436.7,955.1L437.2,954.5L437.6,953.9L438.1,953.4L438.6,953.0L439.1,952.9L439.5,952.8L440.0,952.8L440.5,952.8L440.9,952.8L441.4,952.8L441.9,952.8L442.4,952.8L442.8,952.8L443.3,952.8L443.8,952.8L444.2,952.8L444.7,952.8L445.2,952.8L445.7,952.8L446.1,952.8L446.6,952.8L447.1,952.8L447.6,952.8L448.0,952.8L448.5,952.7L449.0,952.6L449.4,952.3L449.9,951.9L450.4,951.3L450.9,950.7L451.3,950.1L451.8,949.5L452.3,948.9L452.8,948.3L453.2,947.7L453.7,947.1L454.2,946.5L454.6,945.9L455.1,945.3L455.6,944.7L456.1,944.1L456.5,943.5L457.0,942.9L457.5,942.3L458.0,941.7L458.4,941.1L458.9,940.5L459.4,939.9L459.8,939.3L460.3,938.7L460.8,938.1L461.3,937.5L461.7,937.0L462.2,936.7L462.7,936.5L463.1,936.4L463.6,936.4L464.1,936.4L464.6,936.4L465.0,936.4L465.5,936.4L466.0,936.4L466.5,936.4L466.9,936.4L467.4,936.4L467.9,936.4L468.3,936.4L468.8,936.4L469.3,936.4L469.8,936.5L470.2,936.5L470.7,936.5L471.2,936.5L471.7,936.4L472.1,936.4L472.6,936.3L473.1,936.0L473.5,935.6L474.0,935.0L474.5,934.5L475.0,933.9L475.4,933.3L475.9,932.7L476.4,932.1L476.9,931.5L477.3,930.9L477.8,930.3L478.3,929.7L478.7,929.1L479.2,928.5L479.7,927.9L480.2,927.3L480.6,926.7L481.1,926.1L481.6,925.5L482.1,924.9L482.5,924.3L483.0,923.7L483.5,923.1L483.9,922.5L484.4,921.9L484.9,921.4L485.4,920.9L485.8,920.5L486.3,920.3L486.8,920.2L487.2,920.2L487.7,920.2L488.2,920.2L488.7,920.2L489.1,920.2L489.6,920.2L490.1,920.3L490.6,920.3L491.0,920.3L491.5,920.3L492.0,920.3L492.4,920.3L492.9,920.3L493.4,920.3L493.9,920.3L494.3,920.3L494.8,920.3L495.3,920.3L495.8,920.3L496.2,920.2L496.7,919.9L497.2,919.5L497.6,918.9L498.1,918.4L498.6,917.8L499.1,917.2L499.5,916.6L500.0,916.0L500.5,915.4L501.0,914.8L501.4,914.2L501.9,913.6L502.4,913.0L502.8,912.4L503.3,911.8L503.8,911.2L504.3,910.7L504.7,910.1L505.2,909.5L505.7,908.9L506.1,908.3L506.6,907.7L507.1,907.1L507.6,906.5L508.0,905.9L508.5,905.4L509.0,904.9L509.5,904.5L509.9,904.3L510.4,904.2L510.9,904.2L511.3,904.2L511.8,904.2L512.3,904.2L512.8,904.2L513.2,904.3L513.7,904.3L514.2,904.3L514.7,904.3L515.1,904.3L515.6,904.3L516.1,904.3L516.5,904.3L517.0,904.3L517.5,904.3L518.0,904.3L518.4,904.4L518.9,904.3L519.4,904.3L519.9,904.2L520.3,904.0L520.8,903.5L521.3,903.0L521.7,902.4L522.2,901.9L522.7,901.3L523.2,900.7L523.6,900.1L524.1,899.5L524.6,898.9L525.0,898.3L525.5,897.7L526.0,897.1L526.5,896.6L526.9,896.0L527.4,895.4L527.9,894.8L528.4,894.2L528.8,893.6L529.3,893.0L529.8,892.4L530.2,891.9L530.7,891.3L531.2,890.7L531.7,890.1L532.1,889.6L532.6,889.1L533.1,888.7L533.6,888.5L534.0,888.4L534.5,888.4L535.0,888.4L535.4,888.4L535.9,888.4L536.4,888.4L536.9,888.4L537.3,888.5L537.8,888.5L538.3,888.5L538.8,888.5L539.2,888.5L539.7,888.5L540.2,888.5L540.6,888.5L541.1,888.5L541.6,888.6L542.1,888.6L542.5,888.6L543.0,888.5L543.5,888.4L543.9,888.2L544.4,887.8L544.9,887.3L545.4,886.7L545.8,886.1L546.3,885.5L546.8,884.9L547.3,884.4L547.7,883.8L548.2,883.2L548.7,882.6L549.1,882.0L549.6,881.4L550.1,880.9L550.6,880.3L551.0,879.7L551.5,879.1L552.0,878.5L552.5,878.0L552.9,877.4L553.4,876.8L553.9,876.2L554.3,875.6L554.8,875.0L555.3,874.5L555.8,873.9L556.2,873.4L556.7,873.0L557.2,872.9L557.6,872.8L558.1,872.8L558.6,872.8L559.1,872.8L559.5,872.8L560.0,872.8L560.5,872.8L561.0,872.8L561.4,872.8L561.9,872.9L562.4,872.9L562.8,872.9L563.3,872.9L563.8,872.9L564.3,872.9L564.7,872.9L565.2,872.9L565.7,873.0L566.2,873.0L566.6,872.9L567.1,872.8L567.6,872.6L568.0,872.2L568.5,871.7L569.0,871.1L569.5,870.5L569.9,870.0L570.4,869.4L570.9,868.8L571.4,868.2L571.8,867.7L572.3,867.1L572.8,866.5L573.2,865.9L573.7,865.3L574.2,864.8L574.7,864.2L575.1,863.6L575.6,863.0L576.1,862.5L576.5,861.9L577.0,861.3L577.5,860.7L578.0,860.1L578.4,859.6L578.9,859.0L579.4,858.5L579.9,858.0L580.3,857.6L580.8,857.4L581.3,857.3L581.7,857.3L582.2,857.3L582.7,857.3L583.2,857.3L583.6,857.3L584.1,857.4L584.6,857.4L585.1,857.4L585.5,857.4L586.0,857.4L586.5,857.4L586.9,857.4L587.4,857.5L587.9,857.5L588.4,857.5L588.8,857.5L589.3,857.5L589.8,857.5L590.3,857.5L590.7,857.4L591.2,857.2L591.7,856.8L592.1,856.3L592.6,855.7L593.1,855.2L593.6,854.6L594.0,854.0L594.5,853.4L595.0,852.9L595.5,852.3L595.9,851.7L596.4,851.1L596.9,850.6L597.3,850.0L597.8,849.4L598.3,848.8L598.8,848.3L599.2,847.7L599.7,847.1L600.2,846.6L600.6,846.0L601.1,845.4L601.6,844.8L602.1,844.3L602.5,843.7L603.0,843.2L603.5,842.7L604.0,842.3L604.4,842.1L604.9,842.0L605.4,842.0L605.8,842.0L606.3,842.0L606.8,842.0L607.3,842.0L607.7,842.1L608.2,842.1L608.7,842.1L609.2,842.1L609.6,842.1L610.1,842.2L610.6,842.2L611.0,842.2L611.5,842.2L612.0,842.2L612.5,842.2L612.9,842.2L613.4,842.3L613.9,842.2L614.4,842.2L614.8,841.9L615.3,841.6L615.8,841.0L616.2,840.5L616.7,839.9L617.2,839.4L617.7,838.8L618.1,838.2L618.6,837.7L619.1,837.1L619.5,836.5L620.0,836.0L620.5,835.4L621.0,834.8L621.4,834.2L621.9,833.7L622.4,833.1L622.9,832.5L623.3,832.0L623.8,831.4L624.3,830.8L624.7,830.3L625.2,829.7L625.7,829.1L626.2,828.6L626.6,828.0L627.1,827.5L627.6,827.2L628.1,827.0L628.5,826.9L629.0,826.9L629.5,826.9L629.9,826.9L630.4,826.9L630.9,826.9L631.4,826.9L631.8,827.0L632.3,827.0L632.8,827.0L633.2,827.0L633.7,827.0L634.2,827.1L634.7,827.1L635.1,827.1L635.6,827.1L636.1,827.1L636.6,827.1L637.0,827.2L637.5,827.1L638.0,827.1L638.4,826.9L638.9,826.5L639.4,826.0L639.9,825.4L640.3,824.9L640.8,824.3L641.3,823.8L641.8,823.2L642.2,822.6L642.7,822.1L643.2,821.5L643.6,820.9L644.1,820.4L644.6,819.8L645.1,819.2L645.5,818.7L646.0,818.1L646.5,817.5L647.0,817.0L647.4,816.4L647.9,815.9L648.4,815.3L648.8,814.7L649.3,814.2L649.8,813.6L650.3,813.1L650.7,812.6L651.2,812.2L651.7,812.0L652.2,811.9L652.6,811.9L653.1,811.9L653.6,811.9L654.0,811.9L654.5,812.0L655.0,812.0L655.5,812.0L655.9,812.0L656.4,812.1L656.9,812.1L657.3,812.1L657.8,812.1L658.3,812.1L658.8,812.2L659.2,812.2L659.7,812.2L660.2,812.2L660.7,812.2L661.1,812.2L661.6,812.1L662.1,811.9L662.5,811.6L663.0,811.1L663.5,810.5L664.0,810.0L664.4,809.4L664.9,808.9L665.4,808.3L665.9,807.8L666.3,807.2L666.8,806.6L667.3,806.1L667.7,805.5L668.2,805.0L668.7,804.4L669.2,803.8L669.6,803.3L670.1,802.7L670.6,802.2L671.0,801.6L671.5,801.0L672.0,800.5L672.5,799.9L672.9,799.4L673.4,798.8L673.9,798.3L674.4,797.8L674.8,797.4L675.3,797.2L675.8,797.1L676.2,797.1L676.7,797.1L677.2,797.1L677.7,797.2L678.1,797.2L678.6,797.2L679.1,797.2L679.6,797.2L680.0,797.3L680.5,797.3L681.0,797.3L681.4,797.3L681.9,797.4L682.4,797.4L682.9,797.4L683.3,797.4L683.8,797.4L684.3,797.5L684.8,797.4L685.2,797.4L685.7,797.2L686.2,796.8L686.6,796.3L687.1,795.8L687.6,795.3L688.1,794.7L688.5,794.2L689.0,793.6L689.5,793.0L690.0,792.5L690.4,791.9L690.9,791.4L691.4,790.8L691.8,790.3L692.3,789.7L692.8,789.2L693.3,788.6L693.7,788.0L694.2,787.5L694.7,786.9L695.1,786.4L695.6,785.8L696.1,785.3L696.6,784.7L697.0,784.2L697.5,783.6L698.0,783.1L698.5,782.8L698.9,782.6L699.4,782.5L699.9,782.5L700.3,782.5L700.8,782.5L701.3,782.5L701.8,782.5L702.2,782.6L702.7,782.6L703.2,782.6L703.7,782.6L704.1,782.7L704.6,782.7L705.1,782.7L705.5,782.7L706.0,782.8L706.5,782.8L707.0,782.8L707.4,782.8L707.9,782.8L708.4,782.8L708.8,782.8L709.3,782.6L709.8,782.2L710.3,781.8L710.7,781.2L711.2,780.7L711.7,780.2L712.2,779.6L712.6,779.0L713.1,778.5L713.6,777.9L714.0,777.4L714.5,776.8L715.0,776.3L715.5,775.7L715.9,775.2L716.4,774.6L716.9,774.1L717.4,773.5L717.8,773.0L718.3,772.4L718.8,771.9L719.2,771.3L719.7,770.8L720.2,770.2L720.7,769.7L721.1,769.2L721.6,768.7L722.1,768.3L722.6,768.1L723.0,768.0L723.5,768.0L724.0,768.0L724.4,768.0L724.9,768.0L725.4,768.1L725.9,768.1L726.3,768.1L726.8,768.1L727.3,768.2L727.8,768.2L728.2,768.2L728.7,768.3L729.2,768.3L729.6,768.3L730.1,768.3L730.6,768.4L731.1,768.4L731.5,768.4L732.0,768.4L732.5,768.3L732.9,768.2L733.4,767.8L733.9,767.4L734.4,766.8L734.8,766.3L735.3,765.7L735.8,765.2L736.3,764.7L736.7,764.1L737.2,763.6L737.7,763.0L738.1,762.5L738.6,761.9L739.1,761.4L739.6,760.8L740.0,760.3L740.5,759.7L741.0,759.2L741.5,758.6L741.9,758.1L742.4,757.5L742.9,757.0L743.3,756.5L743.8,755.9L744.3,755.4L744.8,754.8L745.2,754.4L745.7,754.0L746.2,753.8L746.7,753.7L747.1,753.7L747.6,753.7L748.1,753.7L748.5,753.7L749.0,753.8L749.5,753.8L750.0,753.8L750.4,753.8L750.9,753.9L751.4,753.9L751.8,753.9L752.3,753.9L752.8,754.0L753.3,754.0L753.7,754.0L754.2,754.1L754.7,754.1L755.2,754.1L755.6,754.1L756.1,754.1L756.6,753.9L757.0,753.6L757.5,753.1L758.0,752.6L758.5,752.0L758.9,751.5L759.4,751.0L759.9,750.4L760.4,749.9L760.8,749.3L761.3,748.8L761.8,748.2L762.2,747.7L762.7,747.2L763.2,746.6L763.7,746.1L764.1,745.5L764.6,745.0L765.1,744.4L765.5,743.9L766.0,743.4L766.5,742.8L767.0,742.3L767.4,741.7L767.9,741.2L768.4,740.7L768.9,740.2L769.3,739.8L769.8,739.6L770.3,739.5L770.7,739.5L771.2,739.5L771.7,739.5L772.2,739.6L772.6,739.6L773.1,739.6L773.6,739.7L774.1,739.7L774.5,739.7L775.0,739.7L775.5,739.8L775.9,739.8L776.4,739.8L776.9,739.9L777.4,739.9L777.8,739.9L778.3,739.9L778.8,740.0L779.3,740.0L779.7,739.9L780.2,739.8L780.7,739.4L781.1,739.0L781.6,738.5L782.1,737.9L782.6,737.4L783.0,736.9L783.5,736.3L784.0,735.8L784.5,735.3L784.9,734.7L785.4,734.2L785.9,733.6L786.3,733.1L786.8,732.6L787.3,732.0L787.8,731.5L788.2,730.9L788.7,730.4L789.2,729.9L789.6,729.3L790.1,728.8L790.6,728.3L791.1,727.7L791.5,727.2L792.0,726.7L792.5,726.2L793.0,725.8L793.4,725.6L793.9,725.5L794.4,725.5L794.8,725.5L795.3,725.5L795.8,725.6L796.3,725.6L796.7,725.6L797.2,725.6L797.7,725.7L798.2,725.7L798.6,725.7L799.1,725.8L799.6,725.8L800.0,725.8L800.5,725.9L801.0,725.9L801.5,725.9L801.9,726.0L802.4,726.0L802.9,726.0L803.3,725.9L803.8,725.8L804.3,725.5L804.8,725.0L805.2,724.5L805.7,724.0L806.2,723.5L806.7,722.9L807.1,722.4L807.6,721.9L808.1,721.3L808.5,720.8L809.0,720.3L809.5,719.7L810.0,719.2L810.4,718.7L810.9,718.1L811.4,717.6L811.9,717.1L812.3,716.5L812.8,716.0L813.3,715.5L813.7,714.9L814.2,714.4L814.7,713.9L815.2,713.3L815.6,712.8L816.1,712.3L816.6,711.9L817.1,711.7L817.5,711.6L818.0,711.6L818.5,711.6L818.9,711.7L819.4,711.7L819.9,711.7L820.4,711.8L820.8,711.8L821.3,711.8L821.8,711.9L822.2,711.9L822.7,711.9L823.2,712.0L823.7,712.0L824.1,712.0L824.6,712.1L825.1,712.1L825.6,712.1L826.0,712.1L826.5,712.1L827.0,712.1L827.4,712.0L827.9,711.7L828.4,711.2L828.9,710.7L829.3,710.2L829.8,709.7L830.3,709.1L830.8,708.6L831.2,708.1L831.7,707.6L832.2,707.0L832.6,706.5L833.1,706.0L833.6,705.4L834.1,704.9L834.5,704.4L835.0,703.8L835.5,703.3L836.0,702.8L836.4,702.3L836.9,701.7L837.4,701.2L837.8,700.7L838.3,700.1L838.8,699.6L839.3,699.1L839.7,698.6L840.2,698.2L840.7,698.0L841.1,697.9L841.6,697.9L842.1,697.9L842.6,698.0L843.0,698.0L843.5,698.0L844.0,698.1L844.5,698.1L844.9,698.1L845.4,698.2L845.9,698.2L846.3,698.2L846.8,698.3L847.3,698.3L847.8,698.3L848.2,698.4L848.7,698.4L849.2,698.4L849.7,698.5L850.1,698.5L850.6,698.4L851.1,698.3L851.5,698.0L852.0,697.6L852.5,697.1L853.0,696.6L853.4,696.0L853.9,695.5L854.4,695.0L854.9,694.5L855.3,693.9L855.8,693.4L856.3,692.9L856.7,692.3L857.2,691.8L857.7,691.3L858.2,690.8L858.6,690.2L859.1,689.7L859.6,689.2L860.1,688.7L860.5,688.1L861.0,687.6L861.5,687.1L861.9,686.6L862.4,686.1L862.9,685.5L863.4,685.1L863.8,684.7L864.3,684.4L864.8,684.4L865.2,684.3L865.7,684.4L866.2,684.4L866.7,684.4L867.1,684.5L867.6,684.5L868.1,684.5L868.6,684.6L869.0,684.6L869.5,684.6L870.0,684.7L870.4,684.7L870.9,684.7L871.4,684.8L871.9,684.8L872.3,684.8L872.8,684.9L873.3,684.9L873.8,684.9L874.2,684.9L874.7,684.8L875.2,684.5L875.6,684.1L876.1,683.6L876.6,683.1L877.1,682.5L877.5,682.0L878.0,681.5L878.5,681.0L879.0,680.4L879.4,679.9L879.9,679.4L880.4,678.9L880.8,678.4L881.3,677.8L881.8,677.3L882.3,676.8L882.7,676.3L883.2,675.8L883.7,675.2L884.1,674.7L884.6,674.2L885.1,673.7L885.6,673.2L886.0,672.6L886.5,672.1L887.0,671.7L887.5,671.3L887.9,671.0L888.4,670.9L888.9,670.9L889.3,670.9L889.8,671.0L890.3,671.0L890.8,671.0L891.2,671.1L891.7,671.1L892.2,671.2L892.7,671.2L893.1,671.2L893.6,671.3L894.1,671.3L894.5,671.3L895.0,671.4L895.5,671.4L896.0,671.5L896.4,671.5L896.9,671.5L897.4,671.5L897.9,671.5L898.3,671.4L898.8,671.1L899.3,670.7L899.7,670.2L900.2,669.7L900.7,669.2L901.2,668.7L901.6,668.1L902.1,667.6L902.6,667.1L903.0,666.6L903.5,666.1L904.0,665.6L904.5,665.0L904.9,664.5L905.4,664.0L905.9,663.5L906.4,663.0L906.8,662.5L907.3,661.9L907.8,661.4L908.2,660.9L908.7,660.4L909.2,659.9L909.7,659.4L910.1,658.9L910.6,658.4L911.1,658.0L911.6,657.8L912.0,657.7L912.5,657.7L913.0,657.7L913.4,657.7L913.9,657.7L914.4,657.8L914.9,657.8L915.3,657.9L915.8,657.9L916.3,657.9L916.8,658.0L917.2,658.0L917.7,658.0L918.2,658.1L918.6,658.1L919.1,658.2L919.6,658.2L920.1,658.2L920.5,658.3L921.0,658.3L921.5,658.3L921.9,658.1L922.4,657.9L922.9,657.5L923.4,657.0L923.8,656.5L924.3,656.0L924.8,655.5L925.3,654.9L925.7,654.4L926.2,653.9L926.7,653.4L927.1,652.9L927.6,652.4L928.1,651.9L928.6,651.4L929.0,650.8L929.5,650.3L930.0,649.8L930.5,649.3L930.9,648.8L931.4,648.3L931.9,647.8L932.3,647.3L932.8,646.7L933.3,646.2L933.8,645.7L934.2,645.3L934.7,644.9L935.2,644.6L935.6,644.5L936.1,644.5L936.6,644.5L937.1,644.6L937.5,644.6L938.0,644.7L938.5,644.7L939.0,644.7L939.4,644.8L939.9,644.8L940.4,644.8L940.8,644.9L941.3,644.9L941.8,645.0L942.3,645.0L942.7,645.0L943.2,645.1L943.7,645.1L944.2,645.2L944.6,645.2L945.1,645.2L945.6,645.0L946.0,644.8L946.5,644.4L947.0,643.9L947.5,643.4L947.9,642.9L948.4,642.4L948.9,641.9L949.4,641.4L949.8,640.9L950.3,640.4L950.8,639.8L951.2,639.3L951.7,638.8L952.2,638.3L952.7,637.8L953.1,637.3L953.6,636.8L954.1,636.3L954.6,635.8L955.0,635.3L955.5,634.8L956.0,634.3L956.4,633.7L956.9,633.2L957.4,632.7L957.9,632.3L958.3,631.9L958.8,631.6L959.3,631.5L959.7,631.5L960.2,631.6L960.7,631.6L961.2,631.6L961.6,631.7L962.1,631.7L962.6,631.7L963.1,631.8L963.5,631.8L964.0,631.9L964.5,631.9L964.9,631.9L965.4,632.0L965.9,632.0L966.4,632.1L966.8,632.1L967.3,632.2L967.8,632.2L968.3,632.2L968.7,632.2L969.2,632.1L969.7,631.8L970.1,631.4L970.6,631.0L971.1,630.5L971.6,630.0L972.0,629.5L972.5,629.0L973.0,628.5L973.5,628.0L973.9,627.4L974.4,626.9L974.9,626.4L975.3,625.9L975.8,625.4L976.3,624.9L976.8,624.4L977.2,623.9L977.7,623.4L978.2,622.9L978.6,622.4L979.1,621.9L979.6,621.4L980.1,620.9L980.5,620.4L981.0,619.9L981.5,619.4L982.0,619.0L982.4,618.8L982.9,618.7L983.4,618.7L983.8,618.7L984.3,618.7L984.8,618.8L985.3,618.8L985.7,618.9L986.2,618.9L986.7,618.9L987.2,619.0L987.6,619.0L988.1,619.1L988.6,619.1L989.0,619.2L989.5,619.2L990.0,619.2L990.5,619.3L990.9,619.3L991.4,619.4L991.9,619.4L992.4,619.4L992.8,619.3L993.3,619.0L993.8,618.6L994.2,618.2L994.7,617.7L995.2,617.2L995.7,616.7L996.1,616.2L996.6,615.7L997.1,615.2L997.5,614.7L998.0,614.2L998.5,613.7L999.0,613.2L999.4,612.7L999.9,612.2L1000.4,611.7L1000.9,611.2L1001.3,610.7L1001.8,610.2L1002.3,609.7L1002.7,609.2L1003.2,608.7L1003.7,608.2L1004.2,607.7L1004.6,607.2L1005.1,606.7L1005.6,606.3L1006.1,606.1L1006.5,606.0L1007.0,606.0L1007.5,606.0L1007.9,606.0L1008.4,606.1L1008.9,606.1L1009.4,606.2L1009.8,606.2L1010.3,606.2L1010.8,606.3L1011.2,606.3L1011.7,606.4L1012.2,606.4L1012.7,606.5L1013.1,606.5L1013.6,606.5L1014.1,606.6L1014.6,606.6L1015.0,606.7L1015.5,606.7L1016.0,606.7L1016.4,606.6L1016.9,606.4L1017.4,606.0L1017.9,605.5L1018.3,605.0L1018.8,604.5L1019.3,604.0L1019.8,603.5L1020.2,603.0L1020.7,602.5L1021.2,602.0L1021.6,601.6L1022.1,601.1L1022.6,600.6L1023.1,600.1L1023.5,599.6L1024.0,599.1L1024.5,598.6L1025.0,598.1L1025.4,597.6L1025.9,597.1L1026.4,596.6L1026.8,596.1L1027.3,595.6L1027.8,595.1L1028.3,594.6L1028.7,594.2L1029.2,593.8L1029.7,593.5L1030.2,593.4L1030.6,593.4L1031.1,593.4L1031.6,593.4L1032.0,593.5L1032.5,593.5L1033.0,593.6L1033.5,593.6L1033.9,593.7L1034.4,593.7L1034.9,593.8L1035.3,593.8L1035.8,593.8L1036.3,593.9L1036.8,593.9L1037.2,594.0L1037.7,594.0L1038.2,594.1L1038.7,594.1L1039.1,594.1L1039.6,594.1L1040.1,594.0L1040.5,593.8L1041.0,593.4L1041.5,593.0L1042.0,592.5L1042.4,592.0L1042.9,591.5L1043.4,591.0L1043.9,590.5L1044.3,590.0L1044.8,589.6L1045.3,589.1L1045.7,588.6L1046.2,588.1L1046.7,587.6L1047.2,587.1L1047.6,586.6L1048.1,586.1L1048.6,585.6L1049.1,585.1L1049.5,584.6L1050.0,584.1L1050.5,583.6L1050.9,583.1L1051.4,582.7L1051.9,582.2L1052.4,581.7L1052.8,581.3L1053.3,581.1L1053.8,581.0L1054.2,580.9L1054.7,581.0L1055.2,581.0L1055.7,581.1L1056.1,581.1L1056.6,581.1L1057.1,581.2L1057.6,581.2L1058.0,581.3L1058.5,581.3L1059.0,581.4L1059.4,581.4L1059.9,581.5L1060.4,581.5L1060.9,581.6L1061.3,581.6L1061.8,581.6L1062.3,581.7L1062.8,581.7L1063.2,581.7L1063.7,581.6L1064.2,581.4L1064.6,581.0L1065.1,580.6L1065.6,580.1L1066.1,579.6L1066.5,579.1L1067.0,578.7L1067.5,578.2L1067.9,577.7L1068.4,577.2L1068.9,576.7L1069.4,576.2L1069.8,575.7L1070.3,575.2L1070.8,574.7L1071.3,574.3L1071.7,573.8L1072.2,573.3L1072.7,572.8L1073.1,572.3L1073.6,571.8L1074.1,571.3L1074.6,570.8L1075.0,570.3L1075.5,569.9L1076.0,569.4L1076.5,569.0L1076.9,568.8L1077.4,568.6L1077.9,568.6L1078.3,568.7L1078.8,568.7L1079.3,568.7L1079.8,568.8L1080.2,568.8L1080.7,568.9L1081.2,568.9L1081.7,569.0L1082.1,569.0L1082.6,569.1L1083.1,569.1L1083.5,569.2L1084.0,569.2L1084.5,569.3L1085.0,569.3L1085.4,569.4L1085.9,569.4L1086.4,569.4L1086.8,569.4L1087.3,569.4L1087.8,569.1L1088.3,568.8L1088.7,568.3L1089.2,567.9L1089.7,567.4L1090.2,566.9L1090.6,566.4L1091.1,565.9L1091.6,565.4L1092.0,565.0L1092.5,564.5L1093.0,564.0L1093.5,563.5L1093.9,563.0L1094.4,562.5L1094.9,562.0L1095.4,561.6L1095.8,561.1L1096.3,560.6L1096.8,560.1L1097.2,559.6L1097.7,559.1L1098.2,558.7L1098.7,558.2L1099.1,557.7L1099.6,557.2L1100.1,556.9L1100.6,556.6L1101.0,556.5L1101.5,556.5L1102.0,556.5L1102.4,556.5L1102.9,556.6L1103.4,556.6L1103.9,556.7L1104.3,556.7L1104.8,556.8L1105.3,556.8L1105.8,556.9L1106.2,556.9L1106.7,557.0L1107.2,557.0L1107.6,557.1L1108.1,557.1L1108.6,557.1L1109.1,557.2L1109.5,557.2L1110.0,557.3L1110.5,557.3L1110.9,557.2L1111.4,557.0L1111.9,556.7L1112.4,556.2L1112.8,555.7L1113.3,555.3L1113.8,554.8L1114.3,554.3L1114.7,553.8L1115.2,553.3L1115.7,552.9L1116.1,552.4L1116.6,551.9L1117.1,551.4L1117.6,550.9L1118.0,550.5L1118.5,550.0L1119.0,549.5L1119.5,549.0L1119.9,548.5L1120.4,548.0L1120.9,547.6L1121.3,547.1L1121.8,546.6L1122.3,546.1L1122.8,545.7L1123.2,545.2L1123.7,544.8L1124.2,544.5L1124.7,544.4L1125.1,544.4L1125.6,544.4L1126.1,544.5L1126.5,544.5L1127.0,544.6L1127.5,544.6L1128.0,544.7L1128.4,544.7L1128.9,544.8L1129.4,544.8L1129.8,544.9L1130.3,544.9L1130.8,545.0L1131.3,545.0L1131.7,545.1L1132.2,545.1L1132.7,545.2L1133.2,545.2L1133.6,545.2L1134.1,545.3L1134.6,545.2L1135.0,545.0L1135.5,544.7L1136.0,544.2L1136.5,543.8L1136.9,543.3L1137.4,542.8L1137.9,542.3L1138.4,541.9L1138.8,541.4L1139.3,540.9L1139.8,540.4L1140.2,539.9L1140.7,539.5L1141.2,539.0L1141.7,538.5L1142.1,538.0L1142.6,537.6L1143.1,537.1L1143.6,536.6L1144.0,536.1L1144.5,535.6L1145.0,535.2L1145.4,534.7L1145.9,534.2L1146.4,533.7L1146.9,533.3L1147.3,532.9L1147.8,532.6L1148.3,532.5L1148.7,532.5L1149.2,532.5L1149.7,532.6L1150.2,532.6L1150.6,532.7L1151.1,532.7L1151.6,532.8L1152.1,532.8L1152.5,532.9L1153.0,532.9L1153.5,533.0L1153.9,533.0L1154.4,533.1L1154.9,533.1L1155.4,533.2L1155.8,533.2L1156.3,533.3L1156.8,533.3L1157.3,533.4L1157.7,533.4L1158.2,533.3L1158.7,533.1L1159.1,532.8L1159.6,532.4L1160.1,531.9L1160.6,531.4L1161.0,531.0L1161.5,530.5L1162.0,530.0L1162.4,529.5L1162.9,529.1L1163.4,528.6L1163.9,528.1L1164.3,527.6L1164.8,527.2L1165.3,526.7L1165.8,526.2L1166.2,525.7L1166.7,525.3L1167.2,524.8L1167.6,524.3L1168.1,523.8L1168.6,523.4L1169.1,522.9L1169.5,522.4L1170.0,522.0L1170.5,521.5L1171.0,521.1L1171.4,520.9L1171.9,520.7L1172.4,520.7L1172.8,520.7L1173.3,520.8L1173.8,520.8L1174.3,520.9L1174.7,520.9L1175.2,521.0L1175.7,521.0L1176.2,521.1L1176.6,521.1L1177.1,521.2L1177.6,521.2L1178.0,521.3L1178.5,521.3L1179.0,521.4L1179.5,521.4L1179.9,521.5L1180.4,521.5L1180.9,521.6L1181.3,521.6L1181.8,521.5L1182.3,521.4L1182.8,521.0L1183.2,520.6L1183.7,520.2L1184.2,519.7L1184.7,519.2L1185.1,518.8L1185.6,518.3L1186.1,517.8L1186.5,517.3L1187.0,516.9L1187.5,516.4L1188.0,515.9L1188.4,515.5L1188.9,515.0L1189.4,514.5L1189.9,514.1L1190.3,513.6L1190.8,513.1L1191.3,512.6L1191.7,512.2L1192.2,511.7L1192.7,511.2L1193.2,510.8L1193.6,510.3L1194.1,509.9L1194.6,509.5L1195.1,509.2L1195.5,509.1L1196.0,509.1L1196.5,509.1L1196.9,509.1L1197.4,509.2L1197.9,509.2L1198.4,509.3L1198.8,509.3L1199.3,509.4L1199.8,509.4L1200.2,509.5L1200.7,509.5L1201.2,509.6L1201.7,509.7L1202.1,509.7L1202.6,509.8L1203.1,509.8L1203.6,509.9L1204.0,509.9L1204.5,509.9L1205.0,510.0L1205.4,509.9L1205.9,509.7L1206.4,509.4L1206.9,509.0L1207.3,508.6L1207.8,508.1L1208.3,507.6L1208.8,507.2L1209.2,506.7L1209.7,506.2L1210.2,505.8L1210.6,505.3L1211.1,504.8L1211.6,504.4L1212.1,503.9L1212.5,503.4L1213.0,503.0L1213.5,502.5L1214.0,502.0L1214.4,501.6L1214.9,501.1L1215.4,500.6L1215.8,500.2L1216.3,499.7L1216.8,499.2L1217.3,498.8L1217.7,498.3L1218.2,498.0L1218.7,497.7L1219.2,497.5L1219.6,497.5L1220.1,497.6L1220.6,497.6L1221.0,497.7L1221.5,497.7L1222.0,497.8L1222.5,497.8L1222.9,497.9L1223.4,497.9L1223.9,498.0L1224.3,498.0L1224.8,498.1L1225.3,498.1L1225.8,498.2L1226.2,498.2L1226.7,498.3L1227.2,498.3L1227.7,498.4L1228.1,498.4L1228.6,498.5L1229.1,498.4L1229.5,498.2L1230.0,497.9L1230.5,497.5L1231.0,497.1L1231.4,496.6L1231.9,496.2L1232.4,495.7L1232.9,495.2L1233.3,494.8L1233.8,494.3L1234.3,493.8L1234.7,493.4L1235.2,492.9L1235.7,492.5L1236.2,492.0L1236.6,491.5L1237.1,491.1L1237.6,490.6L1238.1,490.1L1238.5,489.7L1239.0,489.2L1239.5,488.8L1239.9,488.3L1240.4,487.8L1240.9,487.4L1241.4,486.9L1241.8,486.6L1242.3,486.3L1242.8,486.1L1243.2,486.1L1243.7,486.2L1244.2,486.2L1244.7,486.3L1245.1,486.3L1245.6,486.4L1246.1,486.4L1246.6,486.5L1247.0,486.5L1247.5,486.6L1248.0,486.6L1248.4,486.7L1248.9,486.7L1249.4,486.8L1249.9,486.9L1250.3,486.9L1250.8,487.0L1251.3,487.0L1251.8,487.1L1252.2,487.1L1252.7,487.0L1253.2,486.9L1253.6,486.6L1254.1,486.2L1254.6,485.7L1255.1,485.3L1255.5,484.8L1256.0,484.4L1256.5,483.9L1256.9,483.4L1257.4,483.0L1257.9,482.5L1258.4,482.1L1258.8,481.6L1259.3,481.1L1259.8,480.7L1260.3,480.2L1260.7,479.8L1261.2,479.3L1261.7,478.8L1262.1,478.4L1262.6,477.9L1263.1,477.5L1263.6,477.0L1264.0,476.6L1264.5,476.1L1265.0,475.7L1265.5,475.3L1265.9,475.0L1266.4,474.9L1266.9,474.8L1267.3,474.9L1267.8,474.9L1268.3,475.0L1268.8,475.0L1269.2,475.1L1269.7,475.1L1270.2,475.2L1270.7,475.3L1271.1,475.3L1271.6,475.4L1272.1,475.4L1272.5,475.5L1273.0,475.5L1273.5,475.6L1274.0,475.6L1274.4,475.7L1274.9,475.7L1275.4,475.8L1275.8,475.8L1276.3,475.8L1276.8,475.6L1277.3,475.3L1277.7,474.9L1278.2,474.5L1278.7,474.0L1279.2,473.6L1279.6,473.1L1280.1,472.7L1280.6,472.2L1281.0,471.8L1281.5,471.3L1282.0,470.9L1282.5,470.4L1282.9,470.0L1283.4,469.5L1283.9,469.0L1284.4,468.6L1284.8,468.1L1285.3,467.7L1285.8,467.2L1286.2,466.8L1286.7,466.3L1287.2,465.9L1287.7,465.4L1288.1,465.0L1288.6,464.5L1289.1,464.1L1289.6,463.9L1290.0,463.7L1290.5,463.7L1291.0,463.7L1291.4,463.8L1291.9,463.8L1292.4,463.9L1292.9,463.9L1293.3,464.0L1293.8,464.1L1294.3,464.1L1294.8,464.2L1295.2,464.2L1295.7,464.3L1296.2,464.3L1296.6,464.4L1297.1,464.4L1297.6,464.5L1298.1,464.6L1298.5,464.6L1299.0,464.7L1299.5,464.7L1299.9,464.7L1300.4,464.5L1300.9,464.2L1301.4,463.8L1301.8,463.4L1302.3,462.9L1302.8,462.5L1303.3,462.0L1303.7,461.6L1304.2,461.1L1304.7,460.7L1305.1,460.2L1305.6,459.8L1306.1,459.3L1306.6,458.9L1307.0,458.4L1307.5,458.0L1308.0,457.5L1308.5,457.1L1308.9,456.6L1309.4,456.2L1309.9,455.7L1310.3,455.3L1310.8,454.8L1311.3,454.4L1311.8,453.9L1312.2,453.5L1312.7,453.1L1313.2,452.8L1313.7,452.7L1314.1,452.7L1314.6,452.7L1315.1,452.7L1315.5,452.8L1316.0,452.9L1316.5,452.9L1317.0,453.0L1317.4,453.0L1317.9,453.1L1318.4,453.1L1318.8,453.2L1319.3,453.3L1319.8,453.3L1320.3,453.4L1320.7,453.4L1321.2,453.5L1321.7,453.5L1322.2,453.6L1322.6,453.6L1323.1,453.7L1323.6,453.7L1324.0,453.5L1324.5,453.2L1325.0,452.8L1325.5,452.4L1325.9,452.0L1326.4,451.5L1326.9,451.1L1327.4,450.6L1327.8,450.2L1328.3,449.7L1328.8,449.3L1329.2,448.8L1329.7,448.4L1330.2,447.9L1330.7,447.5L1331.1,447.0L1331.6,446.6L1332.1,446.2L1332.5,445.7L1333.0,445.3L1333.5,444.8L1334.0,444.4L1334.4,443.9L1334.9,443.5L1335.4,443.0L1335.9,442.6L1336.3,442.2L1336.8,441.9L1337.3,441.8L1337.7,441.8L1338.2,441.8L1338.7,441.8L1339.2,441.9L1339.6,442.0L1340.1,442.0L1340.6,442.1L1341.1,442.1L1341.5,442.2L1342.0,442.2L1342.5,442.3L1342.9,442.4L1343.4,442.4L1343.9,442.5L1344.4,442.5L1344.8,442.6L1345.3,442.7L1345.8,442.7L1346.3,442.8L1346.7,442.8L1347.2,442.8L1347.7,442.6L1348.1,442.4L1348.6,442.0L1349.1,441.6L1349.6,441.1L1350.0,440.7L1350.5,440.2L1351.0,439.8L1351.5,439.3L1351.9,438.9L1352.4,438.5L1352.9,438.0L1353.3,437.6L1353.8,437.1L1354.3,436.7L1354.8,436.2L1355.2,435.8L1355.7,435.3L1356.2,434.9L1356.6,434.5L1357.1,434.0L1357.6,433.6L1358.1,433.1L1358.5,432.7L1359.0,432.3L1359.5,431.8L1360.0,431.4L1360.4,431.2L1360.9,431.0L1361.4,431.0L1361.8,431.0L1362.3,431.1L1362.8,431.1L1363.3,431.2L1363.7,431.2L1364.2,431.3L1364.7,431.3L1365.2,431.4L1365.6,431.5L1366.1,431.5L1366.6,431.6L1367.0,431.6L1367.5,431.7L1368.0,431.8L1368.5,431.8L1368.9,431.9L1369.4,431.9L1369.9,432.0L1370.4,432.0L1370.8,432.0L1371.3,431.9L1371.8,431.6L1372.2,431.2L1372.7,430.8L1373.2,430.4L1373.7,429.9L1374.1,429.5L1374.6,429.1L1375.1,428.6L1375.5,428.2L1376.0,427.7L1376.5,427.3L1377.0,426.9L1377.4,426.4L1377.9,426.0L1378.4,425.5L1378.9,425.1L1379.3,424.7L1379.8,424.2L1380.3,423.8L1380.7,423.3L1381.2,422.9L1381.7,422.5L1382.2,422.0L1382.6,421.6L1383.1,421.2L1383.6,420.8L1384.1,420.5L1384.5,420.3L1385.0,420.3L1385.5,420.3L1385.9,420.4L1386.4,420.5L1386.9,420.5L1387.4,420.6L1387.8,420.6L1388.3,420.7L1388.8,420.8L1389.2,420.8L1389.7,420.9L1390.2,420.9L1390.7,421.0L1391.1,421.1L1391.6,421.1L1392.1,421.2L1392.6,421.2L1393.0,421.3L1393.5,421.3L1394.0,421.4L1394.4,421.4L1394.9,421.3L1395.4,421.0L1395.9,420.6L1396.3,420.2L1396.8,419.8L1397.3,419.3L1397.8,418.9L1398.2,418.5L1398.7,418.0L1399.2,417.6L1399.6,417.2L1400.1,416.7L1400.6,416.3L1401.1,415.8L1401.5,415.4L1402.0,415.0L1402.5,414.5L1403.0,414.1L1403.4,413.7L1403.9,413.2L1404.4,412.8L1404.8,412.4L1405.3,411.9L1405.8,411.5L1406.3,411.1L1406.7,410.6L1407.2,410.3L1407.7,410.0L1408.2,409.8L1408.6,409.8L1409.1,409.8L1409.6,409.9L1410.0,409.9L1410.5,410.0L1411.0,410.0L1411.5,410.1L1411.9,410.2L1412.4,410.2L1412.9,410.3L1413.3,410.3L1413.8,410.4L1414.3,410.5L1414.8,410.5L1415.2,410.6L1415.7,410.7L1416.2,410.7L1416.7,410.8L1417.1,410.8L1417.6,410.9L1418.1,410.9L1418.5,410.7L1419.0,410.5L1419.5,410.1L1420.0,409.7L1420.4,409.3L1420.9,408.9L1421.4,408.4L1421.9,408.0L1422.3,407.6L1422.8,407.1L1423.3,406.7L1423.7,406.3L1424.2,405.8L1424.7,405.4L1425.2,405.0L1425.6,404.5L1426.1,404.1L1426.6,403.7L1427.0,403.2L1427.5,402.8L1428.0,402.4L1428.5,401.9L1428.9,401.5L1429.4,401.1L1429.9,400.6L1430.4,400.2L1430.8,399.8L1431.3,399.5L1431.8,399.4L1432.2,399.4L1432.7,399.4L1433.2,399.4L1433.7,399.5L1434.1,399.6L1434.6,399.6L1435.1,399.7L1435.6,399.7L1436.0,399.8L1436.5,399.9L1437.0,399.9L1437.4,400.0L1437.9,400.1L1438.4,400.1L1438.9,400.2L1439.3,400.2L1439.8,400.3L1440.3,400.4L1440.8,400.4L1441.2,400.5L1441.7,400.5L1442.2,400.4L1442.6,400.1L1443.1,399.8L1443.6,399.3L1444.1,398.9L1444.5,398.5L1445.0,398.1L1445.5,397.6L1446.0,397.2L1446.4,396.8L1446.9,396.3L1447.4,395.9L1447.8,395.5L1448.3,395.1L1448.8,394.6L1449.3,394.2L1449.7,393.8L1450.2,393.3L1450.7,392.9L1451.1,392.5L1451.6,392.1L1452.1,391.6L1452.6,391.2L1453.0,390.8L1453.5,390.3L1454.0,389.9L1454.5,389.6L1454.9,389.3L1455.4,389.1L1455.9,389.1L1456.3,389.1L1456.8,389.1L1457.3,389.2L1457.8,389.3L1458.2,389.3L1458.7,389.4L1459.2,389.5L1459.7,389.5L1460.1,389.6L1460.6,389.6L1461.1,389.7L1461.5,389.8L1462.0,389.8L1462.5,389.9L1463.0,390.0L1463.4,390.0L1463.9,390.1L1464.4,390.1L1464.9,390.2L1465.3,390.2L1465.8,390.1L1466.3,389.8L1466.7,389.5L1467.2,389.1L1467.7,388.7L1468.2,388.3L1468.6,387.8L1469.1,387.4L1469.6,387.0L1470.0,386.5L1470.5,386.1L1471.0,385.7L1471.5,385.3L1471.9,384.8L1472.4,384.4L1472.9,384.0L1473.4,383.6L1473.8,383.1L1474.3,382.7L1474.8,382.3L1475.2,381.9L1475.7,381.4L1476.2,381.0L1476.7,380.6L1477.1,380.2L1477.6,379.8L1478.1,379.4L1478.6,379.1L1479.0,378.9L1479.5,378.9L1480.0,378.9L1480.4,379.0L1480.9,379.0L1481.4,379.1L1481.9,379.2L1482.3,379.2L1482.8,379.3L1483.3,379.4L1483.8,379.4L1484.2,379.5L1484.7,379.5L1485.2,379.6L1485.6,379.7L1486.1,379.7L1486.6,379.8L1487.1,379.9L1487.5,379.9L1488.0,380.0L1488.5,380.0L1488.9,380.0L1489.4,379.9L1489.9,379.7L1490.4,379.4L1490.8,379.0L1491.3,378.5L1491.8,378.1L1492.3,377.7L1492.7,377.3L1493.2,376.9L1493.7,376.4L1494.1,376.0L1494.6,375.6L1495.1,375.2L1495.6,374.7L1496.0,374.3L1496.5,373.9L1497.0,373.5L1497.5,373.1L1497.9,372.6L1498.4,372.2L1498.9,371.8L1499.3,371.4L1499.8,371.0L1500.3,370.5L1500.8,370.1L1501.2,369.7L1501.7,369.3L1502.2,369.0L1502.7,368.9L1503.1,368.8L1503.6,368.9L1504.1,368.9L1504.5,369.0L1505.0,369.0L1505.5,369.1L1506.0,369.2L1506.4,369.2L1506.9,369.3L1507.4,369.4L1507.8,369.4L1508.3,369.5L1508.8,369.6L1509.3,369.6L1509.7,369.7L1510.2,369.8L1510.7,369.8L1511.2,369.9L1511.6,369.9L1512.1,370.0L1512.6,370.0L1513.0,369.9L1513.5,369.7L1514.0,369.3L1514.5,369.0L1514.9,368.5L1515.4,368.1L1515.9,367.7L1516.4,367.3L1516.8,366.9L1517.3,366.4L1517.8,366.0L1518.2,365.6L1518.7,365.2L1519.2,364.8L1519.7,364.4L1520.1,363.9L1520.6,363.5L1521.1,363.1L1521.5,362.7L1522.0,362.3L1522.5,361.8L1523.0,361.4L1523.4,361.0L1523.9,360.6L1524.4,360.2L1524.9,359.8L1525.3,359.4L1525.8,359.1L1526.3,358.9L1526.7,358.9L1527.2,358.9L1527.7,359.0L1528.2,359.0L1528.6,359.1L1529.1,359.2L1529.6,359.2L1530.1,359.3L1530.5,359.4L1531.0,359.4L1531.5,359.5L1531.9,359.6L1532.4,359.6L1532.9,359.7L1533.4,359.8L1533.8,359.8L1534.3,359.9L1534.8,360.0L1535.3,360.0L1535.7,360.1L1536.2,360.1L1536.7,360.0L1537.1,359.8L1537.6,359.5L1538.1,359.1L1538.6,358.7L1539.0,358.2L1539.5,357.8L1540.0,357.4L1540.5,357.0L1540.9,356.6L1541.4,356.2L1541.9,355.8L1542.3,355.3L1542.8,354.9L1543.3,354.5L1543.8,354.1L1544.2,353.7L1544.7,353.3L1545.2,352.8L1545.6,352.4L1546.1,352.0L1546.6,351.6L1547.1,351.2L1547.5,350.8L1548.0,350.4L1548.5,350.0L1549.0,349.6L1549.4,349.3L1549.9,349.1L1550.4,349.1L1550.8,349.1L1551.3,349.2L1551.8,349.2L1552.3,349.3L1552.7,349.4L1553.2,349.4L1553.7,349.5L1554.2,349.6L1554.6,349.6L1555.1,349.7L1555.6,349.8L1556.0,349.8L1556.5,349.9L1557.0,350.0L1557.5,350.0L1557.9,350.1L1558.4,350.2L1558.9,350.2L1559.4,350.3L1559.8,350.3L1560.3,350.2L1560.8,350.0L1561.2,349.7L1561.7,349.3L1562.2,348.9L1562.7,348.5L1563.1,348.1L1563.6,347.7L1564.1,347.2L1564.5,346.8L1565.0,346.4L1565.5,346.0L1566.0,345.6L1566.4,345.2L1566.9,344.8L1567.4,344.4L1567.9,344.0L1568.3,343.5L1568.8,343.1L1569.3,342.7L1569.7,342.3L1570.2,341.9L1570.7,341.5L1571.2,341.1L1571.6,340.7L1572.1,340.3L1572.6,339.9L1573.1,339.6L1573.5,339.4L1574.0,339.4L1574.5,339.4L1574.9,339.5L1575.4,339.5L1575.9,339.6L1576.4,339.7L1576.8,339.7L1577.3,339.8L1577.8,339.9L1578.2,339.9L1578.7,340.0L1579.2,340.1L1579.7,340.1L1580.1,340.2L1580.6,340.3L1581.1,340.3L1581.6,340.4L1582.0,340.5L1582.5,340.5L1583.0,340.6L1583.4,340.6L1583.9,340.5L1584.4,340.3L1584.9,340.0L1585.3,339.6L1585.8,339.2L1586.3,338.8L1586.8,338.4L1587.2,338.0L1587.7,337.6L1588.2,337.2L1588.6,336.8L1589.1,336.4L1589.6,336.0L1590.1,335.6L1590.5,335.2L1591.0,334.8L1591.5,334.4L1592.0,333.9L1592.4,333.5L1592.9,333.1L1593.4,332.7L1593.8,332.3L1594.3,331.9L1594.8,331.5L1595.3,331.1L1595.7,330.7L1596.2,330.3L1596.7,330.0L1597.2,329.9L1597.6,329.8L1598.1,329.8L1598.6,329.9L1599.0,330.0L1599.5,330.0L1600.0,330.1L1600.5,330.2L1600.9,330.2L1601.4,330.3L1601.9,330.4L1602.3,330.4L1602.8,330.5L1603.3,330.6L1603.8,330.6L1604.2,330.7L1604.7,330.8L1605.2,330.9L1605.7,330.9L1606.1,331.0L1606.6,331.0L1607.1,331.1L1607.5,331.0L1608.0,330.8L1608.5,330.5L1609.0,330.1L1609.4,329.7L1609.9,329.3L1610.4,328.9L1610.9,328.5L1611.3,328.1L1611.8,327.7L1612.3,327.3L1612.7,326.9L1613.2,326.5L1613.7,326.1L1614.2,325.7L1614.6,325.3L1615.1,324.9L1615.6,324.5L1616.0,324.1L1616.5,323.7L1617.0,323.3L1617.5,322.8L1617.9,322.4L1618.4,322.0L1618.9,321.6L1619.4,321.3L1619.8,320.9L1620.3,320.6L1620.8,320.4L1621.2,320.4L1621.7,320.4L1622.2,320.4L1622.7,320.5L1623.1,320.6L1623.6,320.6L1624.1,320.7L1624.6,320.8L1625.0,320.9L1625.5,320.9L1626.0,321.0L1626.4,321.1L1626.9,321.1L1627.4,321.2L1627.9,321.3L1628.3,321.3L1628.8,321.4L1629.3,321.5L1629.8,321.5L1630.2,321.6L1630.7,321.6L1631.2,321.6L1631.6,321.4L1632.1,321.1L1632.6,320.7L1633.1,320.3L1633.5,319.9L1634.0,319.5L1634.5,319.1L1635.0,318.7L1635.4,318.3L1635.9,317.9L1636.4,317.5L1636.8,317.1L1637.3,316.7L1637.8,316.3L1638.3,315.9L1638.7,315.5L1639.2,315.1L1639.7,314.7L1640.1,314.3L1640.6,313.9L1641.1,313.5L1641.6,313.1L1642.0,312.7L1642.5,312.3L1643.0,311.9L1643.5,311.6L1643.9,311.3L1644.4,311.1L1644.9,311.0L1645.3,311.1L1645.8,311.1L1646.3,311.2L1646.8,311.2L1647.2,311.3L1647.7,311.4L1648.2,311.5L1648.7,311.5L1649.1,311.6L1649.6,311.7L1650.1,311.7L1650.5,311.8L1651.0,311.9L1651.5,311.9L1652.0,312.0L1652.4,312.1L1652.9,312.2L1653.4,312.2L1653.9,312.3L1654.3,312.3L1654.8,312.3L1655.3,312.1L1655.7,311.8L1656.2,311.4L1656.7,311.0L1657.2,310.6L1657.6,310.2L1658.1,309.8L1658.6,309.4L1659.0,309.0L1659.5,308.6L1660.0,308.2L1660.5,307.8L1660.9,307.4L1661.4,307.1L1661.9,306.7L1662.4,306.3L1662.8,305.9L1663.3,305.5L1663.8,305.1L1664.2,304.7L1664.7,304.3L1665.2,303.9L1665.7,303.5L1666.1,303.1L1666.6,302.7L1667.1,302.3L1667.6,302.0L1668.0,301.9L1668.5,301.8L1669.0,301.8L1669.4,301.9L1669.9,302.0L1670.4,302.0L1670.9,302.1L1671.3,302.2L1671.8,302.2L1672.3,302.3L1672.8,302.4L1673.2,302.5L1673.7,302.5L1674.2,302.6L1674.6,302.7L1675.1,302.7L1675.6,302.8L1676.1,302.9L1676.5,303.0L1677.0,303.0L1677.5,303.1L1677.9,303.1L1678.4,303.1L1678.9,302.9L1679.4,302.6L1679.8,302.2L1680.3,301.8L1680.8,301.5L1681.3,301.1L1681.7,300.7L1682.2,300.3L1682.7,299.9L1683.1,299.5L1683.6,299.1L1684.1,298.7L1684.6,298.3L1685.0,297.9L1685.5,297.5L1686.0,297.1L1686.5,296.7L1686.9,296.3L1687.4,296.0L1687.9,295.6L1688.3,295.2L1688.8,294.8L1689.3,294.4L1689.8,294.0L1690.2,293.6L1690.7,293.3L1691.2,293.0L1691.7,292.8L1692.1,292.7L1692.6,292.7L1693.1,292.8L1693.5,292.9L1694.0,292.9L1694.5,293.0L1695.0,293.1L1695.4,293.2L1695.9,293.2L1696.4,293.3L1696.8,293.4L1697.3,293.4L1697.8,293.5L1698.3,293.6L1698.7,293.7L1699.2,293.7L1699.7,293.8L1700.2,293.9L1700.6,293.9L1701.1,294.0L1701.6,294.0L1702.0,294.0L1702.5,293.8L1703.0,293.5L1703.5,293.2L1703.9,292.8L1704.4,292.4L1704.9,292.0L1705.4,291.6L1705.8,291.2L1706.3,290.9L1706.8,290.5L1707.2,290.1L1707.7,289.7L1708.2,289.3L1708.7,288.9L1709.1,288.5L1709.6,288.1L1710.1,287.7L1710.5,287.4L1711.0,287.0L1711.5,286.6L1712.0,286.2L1712.4,285.8L1712.9,285.4L1713.4,285.0L1713.9,284.6L1714.3,284.3L1714.8,284.0L1715.3,283.8L1715.7,283.7L1716.2,283.8L1716.7,283.8L1717.2,283.9L1717.6,284.0L1718.1,284.0L1718.6,284.1L1719.1,284.2L1719.5,284.3L1720.0,284.3" fill="none" stroke="#ff8000" stroke-width="7.8" stroke-linecap="square" stroke-linejoin="round"/>
<path d="M302.5,1054.9L303.0,1054.9L303.4,1054.9L303.9,1054.9L304.4,1054.8L304.9,1054.8L305.3,1054.8L305.8,1054.8L306.3,1054.8L306.8,1054.7L307.2,1054.5L307.7,1054.2L308.2,1053.7L308.6,1053.1L309.1,1052.5L309.6,1051.8L310.1,1051.2L310.5,1050.6L311.0,1049.9L311.5,1049.3L311.9,1048.7L312.4,1048.0L312.9,1047.4L313.4,1046.8L313.8,1046.1L314.3,1045.5L314.8,1044.9L315.3,1044.2L315.7,1043.6L316.2,1043.0L316.7,1042.3L317.1,1041.7L317.6,1041.1L318.1,1040.4L318.6,1039.8L319.0,1039.2L319.5,1038.6L320.0,1038.1L320.5,1037.8L320.9,1037.6L321.4,1037.5L321.9,1037.5L322.3,1037.5L322.8,1037.5L323.3,1037.4L323.8,1037.4L324.2,1037.4L324.7,1037.4L325.2,1037.4L325.7,1037.4L326.1,1037.4L326.6,1037.4L327.1,1037.4L327.5,1037.4L328.0,1037.4L328.5,1037.4L329.0,1037.3L329.4,1037.3L329.9,1037.3L330.4,1037.2L330.9,1037.1L331.3,1036.7L331.8,1036.3L332.3,1035.7L332.7,1035.1L333.2,1034.4L333.7,1033.8L334.2,1033.2L334.6,1032.6L335.1,1031.9L335.6,1031.3L336.0,1030.7L336.5,1030.1L337.0,1029.4L337.5,1028.8L337.9,1028.2L338.4,1027.6L338.9,1026.9L339.4,1026.3L339.8,1025.7L340.3,1025.1L340.8,1024.4L341.2,1023.8L341.7,1023.2L342.2,1022.6L342.7,1021.9L343.1,1021.4L343.6,1020.9L344.1,1020.5L344.6,1020.3L345.0,1020.3L345.5,1020.2L346.0,1020.2L346.4,1020.2L346.9,1020.2L347.4,1020.2L347.9,1020.2L348.3,1020.2L348.8,1020.2L349.3,1020.2L349.8,1020.2L350.2,1020.2L350.7,1020.2L351.2,1020.2L351.6,1020.2L352.1,1020.2L352.6,1020.2L353.1,1020.2L353.5,1020.1L354.0,1020.1L354.5,1019.9L354.9,1019.6L355.4,1019.1L355.9,1018.6L356.4,1017.9L356.8,1017.3L357.3,1016.7L357.8,1016.1L358.3,1015.5L358.7,1014.9L359.2,1014.2L359.7,1013.6L360.1,1013.0L360.6,1012.4L361.1,1011.8L361.6,1011.1L362.0,1010.5L362.5,1009.9L363.0,1009.3L363.5,1008.7L363.9,1008.1L364.4,1007.4L364.9,1006.8L365.3,1006.2L365.8,1005.6L366.3,1005.0L366.8,1004.4L367.2,1003.9L367.7,1003.6L368.2,1003.4L368.6,1003.3L369.1,1003.3L369.6,1003.3L370.1,1003.3L370.5,1003.3L371.0,1003.3L371.5,1003.3L372.0,1003.3L372.4,1003.3L372.9,1003.3L373.4,1003.3L373.8,1003.3L374.3,1003.3L374.8,1003.3L375.3,1003.3L375.7,1003.3L376.2,1003.3L376.7,1003.3L377.2,1003.3L377.6,1003.2L378.1,1003.1L378.6,1002.8L379.0,1002.3L379.5,1001.7L380.0,1001.1L380.5,1000.5L380.9,999.9L381.4,999.3L381.9,998.7L382.4,998.1L382.8,997.5L383.3,996.8L383.8,996.2L384.2,995.6L384.7,995.0L385.2,994.4L385.7,993.8L386.1,993.2L386.6,992.6L387.1,991.9L387.6,991.3L388.0,990.7L388.5,990.1L389.0,989.5L389.4,988.9L389.9,988.3L390.4,987.7L390.9,987.2L391.3,986.9L391.8,986.7L392.3,986.6L392.7,986.6L393.2,986.6L393.7,986.6L394.2,986.6L394.6,986.6L395.1,986.6L395.6,986.6L396.1,986.6L396.5,986.6L397.0,986.7L397.5,986.7L397.9,986.7L398.4,986.7L398.9,986.7L399.4,986.7L399.8,986.7L400.3,986.7L400.8,986.7L401.3,986.6L401.7,986.5L402.2,986.2L402.7,985.7L403.1,985.2L403.6,984.6L404.1,984.0L404.6,983.4L405.0,982.8L405.5,982.2L406.0,981.6L406.4,981.0L406.9,980.3L407.4,979.7L407.9,979.1L408.3,978.5L408.8,977.9L409.3,977.3L409.8,976.7L410.2,976.1L410.7,975.5L411.2,974.9L411.6,974.3L412.1,973.7L412.6,973.1L413.1,972.5L413.5,971.9L414.0,971.3L414.5,970.8L415.0,970.5L415.4,970.3L415.9,970.3L416.4,970.2L416.8,970.2L417.3,970.2L417.8,970.2L418.3,970.3L418.7,970.3L419.2,970.3L419.7,970.3L420.2,970.3L420.6,970.3L421.1,970.3L421.6,970.3L422.0,970.3L422.5,970.3L423.0,970.3L423.5,970.3L423.9,970.4L424.4,970.3L424.9,970.3L425.4,970.2L425.8,969.9L426.3,969.4L426.8,968.9L427.2,968.3L427.7,967.7L428.2,967.1L428.7,966.5L429.1,965.9L429.6,965.3L430.1,964.7L430.5,964.1L431.0,963.5L431.5,962.9L432.0,962.3L432.4,961.7L432.9,961.1L433.4,960.5L433.9,959.9L434.3,959.3L434.8,958.7L435.3,958.1L435.7,957.6L436.2,957.0L436.7,956.4L437.2,955.8L437.6,955.2L438.1,954.7L438.6,954.4L439.1,954.2L439.5,954.1L440.0,954.1L440.5,954.1L440.9,954.1L441.4,954.1L441.9,954.2L442.4,954.2L442.8,954.2L443.3,954.2L443.8,954.2L444.2,954.2L444.7,954.2L445.2,954.2L445.7,954.3L446.1,954.3L446.6,954.3L447.1,954.3L447.6,954.3L448.0,954.3L448.5,954.3L449.0,954.1L449.4,953.9L449.9,953.4L450.4,952.9L450.9,952.3L451.3,951.7L451.8,951.1L452.3,950.5L452.8,950.0L453.2,949.4L453.7,948.8L454.2,948.2L454.6,947.6L455.1,947.0L455.6,946.4L456.1,945.8L456.5,945.2L457.0,944.6L457.5,944.0L458.0,943.4L458.4,942.9L458.9,942.3L459.4,941.7L459.8,941.1L460.3,940.5L460.8,939.9L461.3,939.4L461.7,938.9L462.2,938.5L462.7,938.3L463.1,938.3L463.6,938.3L464.1,938.3L464.6,938.3L465.0,938.3L465.5,938.3L466.0,938.3L466.5,938.4L466.9,938.4L467.4,938.4L467.9,938.4L468.3,938.4L468.8,938.4L469.3,938.5L469.8,938.5L470.2,938.5L470.7,938.5L471.2,938.5L471.7,938.5L472.1,938.5L472.6,938.4L473.1,938.1L473.5,937.7L474.0,937.2L474.5,936.6L475.0,936.0L475.4,935.4L475.9,934.8L476.4,934.3L476.9,933.7L477.3,933.1L477.8,932.5L478.3,931.9L478.7,931.3L479.2,930.7L479.7,930.2L480.2,929.6L480.6,929.0L481.1,928.4L481.6,927.8L482.1,927.2L482.5,926.6L483.0,926.1L483.5,925.5L483.9,924.9L484.4,924.3L484.9,923.8L485.4,923.3L485.8,922.9L486.3,922.8L486.8,922.7L487.2,922.7L487.7,922.7L488.2,922.7L488.7,922.7L489.1,922.8L489.6,922.8L490.1,922.8L490.6,922.8L491.0,922.8L491.5,922.9L492.0,922.9L492.4,922.9L492.9,922.9L493.4,922.9L493.9,923.0L494.3,923.0L494.8,923.0L495.3,923.0L495.8,923.0L496.2,922.9L496.7,922.6L497.2,922.2L497.6,921.7L498.1,921.1L498.6,920.5L499.1,920.0L499.5,919.4L500.0,918.8L500.5,918.2L501.0,917.7L501.4,917.1L501.9,916.5L502.4,915.9L502.8,915.3L503.3,914.8L503.8,914.2L504.3,913.6L504.7,913.0L505.2,912.4L505.7,911.9L506.1,911.3L506.6,910.7L507.1,910.1L507.6,909.6L508.0,909.0L508.5,908.4L509.0,908.0L509.5,907.6L509.9,907.4L510.4,907.4L510.9,907.4L511.3,907.4L511.8,907.4L512.3,907.4L512.8,907.4L513.2,907.5L513.7,907.5L514.2,907.5L514.7,907.5L515.1,907.6L515.6,907.6L516.1,907.6L516.5,907.6L517.0,907.7L517.5,907.7L518.0,907.7L518.4,907.7L518.9,907.7L519.4,907.7L519.9,907.6L520.3,907.4L520.8,907.0L521.3,906.5L521.7,905.9L522.2,905.3L522.7,904.8L523.2,904.2L523.6,903.6L524.1,903.1L524.6,902.5L525.0,901.9L525.5,901.3L526.0,900.8L526.5,900.2L526.9,899.6L527.4,899.0L527.9,898.5L528.4,897.9L528.8,897.3L529.3,896.8L529.8,896.2L530.2,895.6L530.7,895.0L531.2,894.5L531.7,893.9L532.1,893.4L532.6,892.9L533.1,892.5L533.6,892.4L534.0,892.3L534.5,892.3L535.0,892.3L535.4,892.3L535.9,892.4L536.4,892.4L536.9,892.4L537.3,892.5L537.8,892.5L538.3,892.5L538.8,892.5L539.2,892.6L539.7,892.6L540.2,892.6L540.6,892.6L541.1,892.7L541.6,892.7L542.1,892.7L542.5,892.7L543.0,892.7L543.5,892.6L543.9,892.4L544.4,892.0L544.9,891.5L545.4,891.0L545.8,890.4L546.3,889.8L546.8,889.3L547.3,888.7L547.7,888.1L548.2,887.6L548.7,887.0L549.1,886.4L549.6,885.9L550.1,885.3L550.6,884.7L551.0,884.2L551.5,883.6L552.0,883.0L552.5,882.5L552.9,881.9L553.4,881.3L553.9,880.8L554.3,880.2L554.8,879.6L555.3,879.1L555.8,878.6L556.2,878.1L556.7,877.7L557.2,877.5L557.6,877.5L558.1,877.5L558.6,877.5L559.1,877.5L559.5,877.6L560.0,877.6L560.5,877.6L561.0,877.7L561.4,877.7L561.9,877.7L562.4,877.7L562.8,877.8L563.3,877.8L563.8,877.8L564.3,877.9L564.7,877.9L565.2,877.9L565.7,878.0L566.2,878.0L566.6,878.0L567.1,877.9L567.6,877.7L568.0,877.3L568.5,876.8L569.0,876.3L569.5,875.7L569.9,875.1L570.4,874.6L570.9,874.0L571.4,873.5L571.8,872.9L572.3,872.3L572.8,871.8L573.2,871.2L573.7,870.7L574.2,870.1L574.7,869.5L575.1,869.0L575.6,868.4L576.1,867.9L576.5,867.3L577.0,866.7L577.5,866.2L578.0,865.6L578.4,865.1L578.9,864.5L579.4,864.0L579.9,863.5L580.3,863.1L580.8,863.0L581.3,862.9L581.7,862.9L582.2,862.9L582.7,863.0L583.2,863.0L583.6,863.0L584.1,863.1L584.6,863.1L585.1,863.1L585.5,863.2L586.0,863.2L586.5,863.2L586.9,863.3L587.4,863.3L587.9,863.3L588.4,863.4L588.8,863.4L589.3,863.4L589.8,863.5L590.3,863.5L590.7,863.4L591.2,863.2L591.7,862.8L592.1,862.3L592.6,861.8L593.1,861.2L593.6,860.7L594.0,860.1L594.5,859.6L595.0,859.0L595.5,858.5L595.9,857.9L596.4,857.4L596.9,856.8L597.3,856.3L597.8,855.7L598.3,855.1L598.8,854.6L599.2,854.0L599.7,853.5L600.2,852.9L600.6,852.4L601.1,851.8L601.6,851.3L602.1,850.7L602.5,850.2L603.0,849.6L603.5,849.2L604.0,848.8L604.4,848.6L604.9,848.6L605.4,848.6L605.8,848.6L606.3,848.6L606.8,848.7L607.3,848.7L607.7,848.8L608.2,848.8L608.7,848.8L609.2,848.9L609.6,848.9L610.1,848.9L610.6,849.0L611.0,849.0L611.5,849.1L612.0,849.1L612.5,849.1L612.9,849.2L613.4,849.2L613.9,849.2L614.4,849.1L614.8,848.9L615.3,848.6L615.8,848.1L616.2,847.6L616.7,847.0L617.2,846.5L617.7,845.9L618.1,845.4L618.6,844.8L619.1,844.3L619.5,843.7L620.0,843.2L620.5,842.6L621.0,842.1L621.4,841.5L621.9,841.0L622.4,840.4L622.9,839.9L623.3,839.3L623.8,838.8L624.3,838.3L624.7,837.7L625.2,837.2L625.7,836.6L626.2,836.1L626.6,835.6L627.1,835.1L627.6,834.7L628.1,834.5L628.5,834.5L629.0,834.5L629.5,834.5L629.9,834.6L630.4,834.6L630.9,834.6L631.4,834.7L631.8,834.7L632.3,834.8L632.8,834.8L633.2,834.8L633.7,834.9L634.2,834.9L634.7,835.0L635.1,835.0L635.6,835.1L636.1,835.1L636.6,835.1L637.0,835.2L637.5,835.2L638.0,835.1L638.4,834.9L638.9,834.6L639.4,834.1L639.9,833.6L640.3,833.0L640.8,832.5L641.3,832.0L641.8,831.4L642.2,830.9L642.7,830.3L643.2,829.8L643.6,829.2L644.1,828.7L644.6,828.2L645.1,827.6L645.5,827.1L646.0,826.5L646.5,826.0L647.0,825.5L647.4,824.9L647.9,824.4L648.4,823.8L648.8,823.3L649.3,822.7L649.8,822.2L650.3,821.7L650.7,821.2L651.2,820.9L651.7,820.7L652.2,820.6L652.6,820.6L653.1,820.7L653.6,820.7L654.0,820.8L654.5,820.8L655.0,820.8L655.5,820.9L655.9,820.9L656.4,821.0L656.9,821.0L657.3,821.1L657.8,821.1L658.3,821.2L658.8,821.2L659.2,821.2L659.7,821.3L660.2,821.3L660.7,821.4L661.1,821.4L661.6,821.3L662.1,821.1L662.5,820.8L663.0,820.3L663.5,819.8L664.0,819.3L664.4,818.8L664.9,818.2L665.4,817.7L665.9,817.1L666.3,816.6L666.8,816.1L667.3,815.5L667.7,815.0L668.2,814.5L668.7,813.9L669.2,813.4L669.6,812.9L670.1,812.3L670.6,811.8L671.0,811.2L671.5,810.7L672.0,810.2L672.5,809.6L672.9,809.1L673.4,808.6L673.9,808.1L674.4,807.6L674.8,807.2L675.3,807.1L675.8,807.0L676.2,807.0L676.7,807.1L677.2,807.1L677.7,807.1L678.1,807.2L678.6,807.2L679.1,807.3L679.6,807.3L680.0,807.4L680.5,807.4L681.0,807.5L681.4,807.5L681.9,807.6L682.4,807.6L682.9,807.7L683.3,807.7L683.8,807.7L684.3,807.8L684.8,807.8L685.2,807.8L685.7,807.6L686.2,807.3L686.6,806.8L687.1,806.3L687.6,805.8L688.1,805.2L688.5,804.7L689.0,804.2L689.5,803.6L690.0,803.1L690.4,802.6L690.9,802.1L691.4,801.5L691.8,801.0L692.3,800.5L692.8,799.9L693.3,799.4L693.7,798.9L694.2,798.3L694.7,797.8L695.1,797.3L695.6,796.8L696.1,796.2L696.6,795.7L697.0,795.2L697.5,794.7L698.0,794.2L698.5,793.8L698.9,793.7L699.4,793.6L699.9,793.6L700.3,793.7L700.8,793.7L701.3,793.7L701.8,793.8L702.2,793.8L702.7,793.9L703.2,793.9L703.7,794.0L704.1,794.0L704.6,794.1L705.1,794.1L705.5,794.2L706.0,794.2L706.5,794.3L707.0,794.3L707.4,794.4L707.9,794.4L708.4,794.5L708.8,794.4L709.3,794.3L709.8,793.9L710.3,793.5L710.7,793.0L711.2,792.5L711.7,791.9L712.2,791.4L712.6,790.9L713.1,790.4L713.6,789.8L714.0,789.3L714.5,788.8L715.0,788.3L715.5,787.7L715.9,787.2L716.4,786.7L716.9,786.2L717.4,785.6L717.8,785.1L718.3,784.6L718.8,784.1L719.2,783.5L719.7,783.0L720.2,782.5L720.7,782.0L721.1,781.5L721.6,781.0L722.1,780.7L722.6,780.5L723.0,780.4L723.5,780.4L724.0,780.5L724.4,780.5L724.9,780.6L725.4,780.6L725.9,780.7L726.3,780.7L726.8,780.8L727.3,780.8L727.8,780.9L728.2,780.9L728.7,781.0L729.2,781.1L729.6,781.1L730.1,781.2L730.6,781.2L731.1,781.3L731.5,781.3L732.0,781.3L732.5,781.3L732.9,781.2L733.4,780.8L733.9,780.4L734.4,779.9L734.8,779.4L735.3,778.9L735.8,778.4L736.3,777.8L736.7,777.3L737.2,776.8L737.7,776.3L738.1,775.8L738.6,775.2L739.1,774.7L739.6,774.2L740.0,773.7L740.5,773.2L741.0,772.6L741.5,772.1L741.9,771.6L742.4,771.1L742.9,770.6L743.3,770.0L743.8,769.5L744.3,769.0L744.8,768.5L745.2,768.1L745.7,767.7L746.2,767.5L746.7,767.5L747.1,767.5L747.6,767.5L748.1,767.6L748.5,767.6L749.0,767.7L749.5,767.7L750.0,767.8L750.4,767.8L750.9,767.9L751.4,768.0L751.8,768.0L752.3,768.1L752.8,768.1L753.3,768.2L753.7,768.2L754.2,768.3L754.7,768.3L755.2,768.4L755.6,768.4L756.1,768.4L756.6,768.3L757.0,768.0L757.5,767.5L758.0,767.0L758.5,766.5L758.9,766.0L759.4,765.5L759.9,765.0L760.4,764.5L760.8,764.0L761.3,763.4L761.8,762.9L762.2,762.4L762.7,761.9L763.2,761.4L763.7,760.9L764.1,760.4L764.6,759.8L765.1,759.3L765.5,758.8L766.0,758.3L766.5,757.8L767.0,757.3L767.4,756.8L767.9,756.3L768.4,755.8L768.9,755.3L769.3,755.0L769.8,754.8L770.3,754.7L770.7,754.7L771.2,754.8L771.7,754.8L772.2,754.9L772.6,754.9L773.1,755.0L773.6,755.1L774.1,755.1L774.5,755.2L775.0,755.2L775.5,755.3L775.9,755.3L776.4,755.4L776.9,755.5L777.4,755.5L777.8,755.6L778.3,755.6L778.8,755.7L779.3,755.7L779.7,755.7L780.2,755.6L780.7,755.3L781.1,754.9L781.6,754.4L782.1,753.9L782.6,753.4L783.0,752.9L783.5,752.3L784.0,751.8L784.5,751.3L784.9,750.8L785.4,750.3L785.9,749.8L786.3,749.3L786.8,748.8L787.3,748.3L787.8,747.8L788.2,747.3L788.7,746.8L789.2,746.2L789.6,745.7L790.1,745.2L790.6,744.7L791.1,744.2L791.5,743.7L792.0,743.2L792.5,742.8L793.0,742.4L793.4,742.2L793.9,742.2L794.4,742.2L794.8,742.2L795.3,742.3L795.8,742.4L796.3,742.4L796.7,742.5L797.2,742.5L797.7,742.6L798.2,742.7L798.6,742.7L799.1,742.8L799.6,742.8L800.0,742.9L800.5,743.0L801.0,743.0L801.5,743.1L801.9,743.1L802.4,743.2L802.9,743.2L803.3,743.2L803.8,743.1L804.3,742.8L804.8,742.4L805.2,741.9L805.7,741.4L806.2,740.9L806.7,740.4L807.1,739.9L807.6,739.4L808.1,738.9L808.5,738.4L809.0,737.9L809.5,737.4L810.0,736.9L810.4,736.4L810.9,735.9L811.4,735.4L811.9,734.9L812.3,734.4L812.8,733.9L813.3,733.4L813.7,732.9L814.2,732.4L814.7,731.9L815.2,731.4L815.6,730.9L816.1,730.4L816.6,730.1L817.1,729.9L817.5,729.8L818.0,729.9L818.5,729.9L818.9,730.0L819.4,730.0L819.9,730.1L820.4,730.2L820.8,730.2L821.3,730.3L821.8,730.3L822.2,730.4L822.7,730.5L823.2,730.5L823.7,730.6L824.1,730.7L824.6,730.7L825.1,730.8L825.6,730.8L826.0,730.9L826.5,730.9L827.0,730.9L827.4,730.8L827.9,730.6L828.4,730.1L828.9,729.7L829.3,729.2L829.8,728.7L830.3,728.2L830.8,727.7L831.2,727.2L831.7,726.7L832.2,726.2L832.6,725.7L833.1,725.2L833.6,724.7L834.1,724.2L834.5,723.7L835.0,723.2L835.5,722.7L836.0,722.2L836.4,721.7L836.9,721.2L837.4,720.7L837.8,720.2L838.3,719.7L838.8,719.2L839.3,718.8L839.7,718.3L840.2,718.0L840.7,717.8L841.1,717.7L841.6,717.7L842.1,717.8L842.6,717.8L843.0,717.9L843.5,718.0L844.0,718.0L844.5,718.1L844.9,718.2L845.4,718.2L845.9,718.3L846.3,718.4L846.8,718.4L847.3,718.5L847.8,718.6L848.2,718.6L848.7,718.7L849.2,718.8L849.7,718.8L850.1,718.9L850.6,718.9L851.1,718.8L851.5,718.5L852.0,718.1L852.5,717.6L853.0,717.1L853.4,716.7L853.9,716.2L854.4,715.7L854.9,715.2L855.3,714.7L855.8,714.2L856.3,713.7L856.7,713.2L857.2,712.7L857.7,712.2L858.2,711.7L858.6,711.2L859.1,710.7L859.6,710.3L860.1,709.8L860.5,709.3L861.0,708.8L861.5,708.3L861.9,707.8L862.4,707.3L862.9,706.8L863.4,706.4L863.8,706.0L864.3,705.8L864.8,705.8L865.2,705.8L865.7,705.8L866.2,705.9L866.7,706.0L867.1,706.0L867.6,706.1L868.1,706.2L868.6,706.3L869.0,706.3L869.5,706.4L870.0,706.5L870.4,706.5L870.9,706.6L871.4,706.7L871.9,706.7L872.3,706.8L872.8,706.9L873.3,706.9L873.8,707.0L874.2,707.0L874.7,706.9L875.2,706.6L875.6,706.2L876.1,705.8L876.6,705.3L877.1,704.8L877.5,704.3L878.0,703.8L878.5,703.4L879.0,702.9L879.4,702.4L879.9,701.9L880.4,701.4L880.8,700.9L881.3,700.4L881.8,699.9L882.3,699.5L882.7,699.0L883.2,698.5L883.7,698.0L884.1,697.5L884.6,697.0L885.1,696.5L885.6,696.0L886.0,695.6L886.5,695.1L887.0,694.7L887.5,694.3L887.9,694.1L888.4,694.0L888.9,694.1L889.3,694.1L889.8,694.2L890.3,694.2L890.8,694.3L891.2,694.4L891.7,694.5L892.2,694.5L892.7,694.6L893.1,694.7L893.6,694.7L894.1,694.8L894.5,694.9L895.0,695.0L895.5,695.0L896.0,695.1L896.4,695.2L896.9,695.2L897.4,695.3L897.9,695.3L898.3,695.2L898.8,695.0L899.3,694.6L899.7,694.1L900.2,693.7L900.7,693.2L901.2,692.7L901.6,692.2L902.1,691.7L902.6,691.2L903.0,690.8L903.5,690.3L904.0,689.8L904.5,689.3L904.9,688.8L905.4,688.3L905.9,687.9L906.4,687.4L906.8,686.9L907.3,686.4L907.8,685.9L908.2,685.5L908.7,685.0L909.2,684.5L909.7,684.0L910.1,683.5L910.6,683.1L911.1,682.8L911.6,682.5L912.0,682.5L912.5,682.5L913.0,682.6L913.4,682.6L913.9,682.7L914.4,682.8L914.9,682.9L915.3,682.9L915.8,683.0L916.3,683.1L916.8,683.1L917.2,683.2L917.7,683.3L918.2,683.4L918.6,683.4L919.1,683.5L919.6,683.6L920.1,683.7L920.5,683.7L921.0,683.8L921.5,683.8L921.9,683.7L922.4,683.5L922.9,683.1L923.4,682.7L923.8,682.2L924.3,681.7L924.8,681.2L925.3,680.8L925.7,680.3L926.2,679.8L926.7,679.3L927.1,678.9L927.6,678.4L928.1,677.9L928.6,677.4L929.0,676.9L929.5,676.5L930.0,676.0L930.5,675.5L930.9,675.0L931.4,674.6L931.9,674.1L932.3,673.6L932.8,673.1L933.3,672.7L933.8,672.2L934.2,671.8L934.7,671.4L935.2,671.2L935.6,671.1L936.1,671.2L936.6,671.2L937.1,671.3L937.5,671.4L938.0,671.4L938.5,671.5L939.0,671.6L939.4,671.7L939.9,671.7L940.4,671.8L940.8,671.9L941.3,672.0L941.8,672.0L942.3,672.1L942.7,672.2L943.2,672.3L943.7,672.3L944.2,672.4L944.6,672.5L945.1,672.5L945.6,672.4L946.0,672.2L946.5,671.8L947.0,671.4L947.5,670.9L947.9,670.4L948.4,670.0L948.9,669.5L949.4,669.0L949.8,668.6L950.3,668.1L950.8,667.6L951.2,667.1L951.7,666.7L952.2,666.2L952.7,665.7L953.1,665.2L953.6,664.8L954.1,664.3L954.6,663.8L955.0,663.4L955.5,662.9L956.0,662.4L956.4,661.9L956.9,661.5L957.4,661.0L957.9,660.6L958.3,660.2L958.8,660.0L959.3,660.0L959.7,660.0L960.2,660.0L960.7,660.1L961.2,660.2L961.6,660.3L962.1,660.3L962.6,660.4L963.1,660.5L963.5,660.6L964.0,660.7L964.5,660.7L964.9,660.8L965.4,660.9L965.9,661.0L966.4,661.0L966.8,661.1L967.3,661.2L967.8,661.3L968.3,661.3L968.7,661.4L969.2,661.3L969.7,661.1L970.1,660.7L970.6,660.3L971.1,659.8L971.6,659.4L972.0,658.9L972.5,658.4L973.0,658.0L973.5,657.5L973.9,657.0L974.4,656.6L974.9,656.1L975.3,655.6L975.8,655.2L976.3,654.7L976.8,654.2L977.2,653.7L977.7,653.3L978.2,652.8L978.6,652.3L979.1,651.9L979.6,651.4L980.1,650.9L980.5,650.5L981.0,650.0L981.5,649.6L982.0,649.2L982.4,649.0L982.9,649.0L983.4,649.0L983.8,649.1L984.3,649.1L984.8,649.2L985.3,649.3L985.7,649.4L986.2,649.4L986.7,649.5L987.2,649.6L987.6,649.7L988.1,649.8L988.6,649.8L989.0,649.9L989.5,650.0L990.0,650.1L990.5,650.2L990.9,650.2L991.4,650.3L991.9,650.4L992.4,650.4L992.8,650.4L993.3,650.1L993.8,649.8L994.2,649.4L994.7,648.9L995.2,648.5L995.7,648.0L996.1,647.5L996.6,647.1L997.1,646.6L997.5,646.1L998.0,645.7L998.5,645.2L999.0,644.8L999.4,644.3L999.9,643.8L1000.4,643.4L1000.9,642.9L1001.3,642.4L1001.8,642.0L1002.3,641.5L1002.7,641.1L1003.2,640.6L1003.7,640.1L1004.2,639.7L1004.6,639.2L1005.1,638.8L1005.6,638.4L1006.1,638.2L1006.5,638.2L1007.0,638.2L1007.5,638.3L1007.9,638.3L1008.4,638.4L1008.9,638.5L1009.4,638.6L1009.8,638.7L1010.3,638.7L1010.8,638.8L1011.2,638.9L1011.7,639.0L1012.2,639.1L1012.7,639.1L1013.1,639.2L1013.6,639.3L1014.1,639.4L1014.6,639.5L1015.0,639.5L1015.5,639.6L1016.0,639.6L1016.4,639.6L1016.9,639.4L1017.4,639.0L1017.9,638.6L1018.3,638.2L1018.8,637.7L1019.3,637.3L1019.8,636.8L1020.2,636.4L1020.7,635.9L1021.2,635.4L1021.6,635.0L1022.1,634.5L1022.6,634.1L1023.1,633.6L1023.5,633.1L1024.0,632.7L1024.5,632.2L1025.0,631.8L1025.4,631.3L1025.9,630.9L1026.4,630.4L1026.8,629.9L1027.3,629.5L1027.8,629.0L1028.3,628.6L1028.7,628.2L1029.2,627.8L1029.7,627.6L1030.2,627.5L1030.6,627.6L1031.1,627.6L1031.6,627.7L1032.0,627.8L1032.5,627.9L1033.0,627.9L1033.5,628.0L1033.9,628.1L1034.4,628.2L1034.9,628.3L1035.3,628.4L1035.8,628.4L1036.3,628.5L1036.8,628.6L1037.2,628.7L1037.7,628.8L1038.2,628.9L1038.7,628.9L1039.1,629.0L1039.6,629.0L1040.1,629.0L1040.5,628.8L1041.0,628.5L1041.5,628.1L1042.0,627.6L1042.4,627.2L1042.9,626.7L1043.4,626.3L1043.9,625.8L1044.3,625.4L1044.8,624.9L1045.3,624.4L1045.7,624.0L1046.2,623.5L1046.7,623.1L1047.2,622.6L1047.6,622.2L1048.1,621.7L1048.6,621.3L1049.1,620.8L1049.5,620.4L1050.0,619.9L1050.5,619.5L1050.9,619.0L1051.4,618.6L1051.9,618.1L1052.4,617.7L1052.8,617.3L1053.3,617.1L1053.8,617.1L1054.2,617.1L1054.7,617.2L1055.2,617.2L1055.7,617.3L1056.1,617.4L1056.6,617.5L1057.1,617.6L1057.6,617.7L1058.0,617.7L1058.5,617.8L1059.0,617.9L1059.4,618.0L1059.9,618.1L1060.4,618.2L1060.9,618.3L1061.3,618.3L1061.8,618.4L1062.3,618.5L1062.8,618.6L1063.2,618.6L1063.7,618.6L1064.2,618.4L1064.6,618.1L1065.1,617.7L1065.6,617.2L1066.1,616.8L1066.5,616.3L1067.0,615.9L1067.5,615.4L1067.9,615.0L1068.4,614.5L1068.9,614.1L1069.4,613.6L1069.8,613.2L1070.3,612.7L1070.8,612.3L1071.3,611.8L1071.7,611.4L1072.2,610.9L1072.7,610.5L1073.1,610.1L1073.6,609.6L1074.1,609.2L1074.6,608.7L1075.0,608.3L1075.5,607.8L1076.0,607.4L1076.5,607.1L1076.9,606.8L1077.4,606.8L1077.9,606.8L1078.3,606.9L1078.8,606.9L1079.3,607.0L1079.8,607.1L1080.2,607.2L1080.7,607.3L1081.2,607.4L1081.7,607.5L1082.1,607.5L1082.6,607.6L1083.1,607.7L1083.5,607.8L1084.0,607.9L1084.5,608.0L1085.0,608.1L1085.4,608.2L1085.9,608.2L1086.4,608.3L1086.8,608.4L1087.3,608.3L1087.8,608.2L1088.3,607.8L1088.7,607.4L1089.2,607.0L1089.7,606.6L1090.2,606.1L1090.6,605.7L1091.1,605.2L1091.6,604.8L1092.0,604.3L1092.5,603.9L1093.0,603.5L1093.5,603.0L1093.9,602.6L1094.4,602.1L1094.9,601.7L1095.4,601.2L1095.8,600.8L1096.3,600.3L1096.8,599.9L1097.2,599.5L1097.7,599.0L1098.2,598.6L1098.7,598.1L1099.1,597.7L1099.6,597.3L1100.1,596.9L1100.6,596.7L1101.0,596.6L1101.5,596.7L1102.0,596.7L1102.4,596.8L1102.9,596.9L1103.4,597.0L1103.9,597.1L1104.3,597.2L1104.8,597.3L1105.3,597.3L1105.8,597.4L1106.2,597.5L1106.7,597.6L1107.2,597.7L1107.6,597.8L1108.1,597.9L1108.6,598.0L1109.1,598.1L1109.5,598.1L1110.0,598.2L1110.5,598.3L1110.9,598.2L1111.4,598.1L1111.9,597.8L1112.4,597.4L1112.8,596.9L1113.3,596.5L1113.8,596.1L1114.3,595.6L1114.7,595.2L1115.2,594.7L1115.7,594.3L1116.1,593.9L1116.6,593.4L1117.1,593.0L1117.6,592.5L1118.0,592.1L1118.5,591.7L1119.0,591.2L1119.5,590.8L1119.9,590.4L1120.4,589.9L1120.9,589.5L1121.3,589.0L1121.8,588.6L1122.3,588.2L1122.8,587.7L1123.2,587.3L1123.7,587.0L1124.2,586.7L1124.7,586.7L1125.1,586.7L1125.6,586.8L1126.1,586.9L1126.5,586.9L1127.0,587.0L1127.5,587.1L1128.0,587.2L1128.4,587.3L1128.9,587.4L1129.4,587.5L1129.8,587.6L1130.3,587.7L1130.8,587.8L1131.3,587.8L1131.7,587.9L1132.2,588.0L1132.7,588.1L1133.2,588.2L1133.6,588.3L1134.1,588.3L1134.6,588.3L1135.0,588.2L1135.5,587.9L1136.0,587.5L1136.5,587.0L1136.9,586.6L1137.4,586.2L1137.9,585.7L1138.4,585.3L1138.8,584.9L1139.3,584.4L1139.8,584.0L1140.2,583.6L1140.7,583.1L1141.2,582.7L1141.7,582.3L1142.1,581.8L1142.6,581.4L1143.1,581.0L1143.6,580.5L1144.0,580.1L1144.5,579.7L1145.0,579.2L1145.4,578.8L1145.9,578.4L1146.4,577.9L1146.9,577.5L1147.3,577.2L1147.8,576.9L1148.3,576.9L1148.7,576.9L1149.2,577.0L1149.7,577.0L1150.2,577.1L1150.6,577.2L1151.1,577.3L1151.6,577.4L1152.1,577.5L1152.5,577.6L1153.0,577.7L1153.5,577.8L1153.9,577.9L1154.4,578.0L1154.9,578.1L1155.4,578.2L1155.8,578.2L1156.3,578.3L1156.8,578.4L1157.3,578.5L1157.7,578.6L1158.2,578.6L1158.7,578.4L1159.1,578.1L1159.6,577.7L1160.1,577.3L1160.6,576.9L1161.0,576.5L1161.5,576.0L1162.0,575.6L1162.4,575.2L1162.9,574.7L1163.4,574.3L1163.9,573.9L1164.3,573.4L1164.8,573.0L1165.3,572.6L1165.8,572.1L1166.2,571.7L1166.7,571.3L1167.2,570.8L1167.6,570.4L1168.1,570.0L1168.6,569.6L1169.1,569.1L1169.5,568.7L1170.0,568.3L1170.5,567.9L1171.0,567.5L1171.4,567.3L1171.9,567.2L1172.4,567.2L1172.8,567.3L1173.3,567.4L1173.8,567.5L1174.3,567.6L1174.7,567.7L1175.2,567.8L1175.7,567.9L1176.2,568.0L1176.6,568.1L1177.1,568.2L1177.6,568.2L1178.0,568.3L1178.5,568.4L1179.0,568.5L1179.5,568.6L1179.9,568.7L1180.4,568.8L1180.9,568.9L1181.3,568.9L1181.8,568.9L1182.3,568.8L1182.8,568.5L1183.2,568.1L1183.7,567.7L1184.2,567.3L1184.7,566.9L1185.1,566.5L1185.6,566.0L1186.1,565.6L1186.5,565.2L1187.0,564.7L1187.5,564.3L1188.0,563.9L1188.4,563.5L1188.9,563.0L1189.4,562.6L1189.9,562.2L1190.3,561.8L1190.8,561.3L1191.3,560.9L1191.7,560.5L1192.2,560.1L1192.7,559.6L1193.2,559.2L1193.6,558.8L1194.1,558.4L1194.6,558.0L1195.1,557.8L1195.5,557.7L1196.0,557.8L1196.5,557.8L1196.9,557.9L1197.4,558.0L1197.9,558.1L1198.4,558.2L1198.8,558.3L1199.3,558.4L1199.8,558.5L1200.2,558.6L1200.7,558.7L1201.2,558.8L1201.7,558.9L1202.1,559.0L1202.6,559.1L1203.1,559.2L1203.6,559.2L1204.0,559.3L1204.5,559.4L1205.0,559.5L1205.4,559.5L1205.9,559.4L1206.4,559.1L1206.9,558.7L1207.3,558.3L1207.8,557.9L1208.3,557.5L1208.8,557.0L1209.2,556.6L1209.7,556.2L1210.2,555.8L1210.6,555.3L1211.1,554.9L1211.6,554.5L1212.1,554.1L1212.5,553.7L1213.0,553.2L1213.5,552.8L1214.0,552.4L1214.4,552.0L1214.9,551.5L1215.4,551.1L1215.8,550.7L1216.3,550.3L1216.8,549.9L1217.3,549.4L1217.7,549.0L1218.2,548.7L1218.7,548.5L1219.2,548.4L1219.6,548.4L1220.1,548.5L1220.6,548.6L1221.0,548.7L1221.5,548.8L1222.0,548.9L1222.5,549.0L1222.9,549.1L1223.4,549.2L1223.9,549.2L1224.3,549.3L1224.8,549.4L1225.3,549.5L1225.8,549.6L1226.2,549.7L1226.7,549.8L1227.2,549.9L1227.7,550.0L1228.1,550.1L1228.6,550.2L1229.1,550.2L1229.5,550.1L1230.0,549.8L1230.5,549.4L1231.0,549.0L1231.4,548.6L1231.9,548.2L1232.4,547.8L1232.9,547.3L1233.3,546.9L1233.8,546.5L1234.3,546.1L1234.7,545.7L1235.2,545.3L1235.7,544.8L1236.2,544.4L1236.6,544.0L1237.1,543.6L1237.6,543.2L1238.1,542.7L1238.5,542.3L1239.0,541.9L1239.5,541.5L1239.9,541.1L1240.4,540.7L1240.9,540.3L1241.4,539.9L1241.8,539.5L1242.3,539.3L1242.8,539.2L1243.2,539.2L1243.7,539.3L1244.2,539.4L1244.7,539.5L1245.1,539.6L1245.6,539.7L1246.1,539.8L1246.6,539.9L1247.0,540.0L1247.5,540.1L1248.0,540.2L1248.4,540.3L1248.9,540.4L1249.4,540.5L1249.9,540.6L1250.3,540.7L1250.8,540.8L1251.3,540.9L1251.8,540.9L1252.2,541.0L1252.7,541.0L1253.2,540.9L1253.6,540.6L1254.1,540.3L1254.6,539.9L1255.1,539.5L1255.5,539.1L1256.0,538.6L1256.5,538.2L1256.9,537.8L1257.4,537.4L1257.9,537.0L1258.4,536.6L1258.8,536.2L1259.3,535.7L1259.8,535.3L1260.3,534.9L1260.7,534.5L1261.2,534.1L1261.7,533.7L1262.1,533.3L1262.6,532.9L1263.1,532.4L1263.6,532.0L1264.0,531.6L1264.5,531.2L1265.0,530.8L1265.5,530.5L1265.9,530.2L1266.4,530.1L1266.9,530.2L1267.3,530.2L1267.8,530.3L1268.3,530.4L1268.8,530.5L1269.2,530.6L1269.7,530.7L1270.2,530.8L1270.7,530.9L1271.1,531.0L1271.6,531.1L1272.1,531.2L1272.5,531.3L1273.0,531.4L1273.5,531.5L1274.0,531.6L1274.4,531.7L1274.9,531.8L1275.4,531.9L1275.8,532.0L1276.3,532.0L1276.8,531.9L1277.3,531.6L1277.7,531.3L1278.2,530.9L1278.7,530.5L1279.2,530.1L1279.6,529.7L1280.1,529.3L1280.6,528.9L1281.0,528.4L1281.5,528.0L1282.0,527.6L1282.5,527.2L1282.9,526.8L1283.4,526.4L1283.9,526.0L1284.4,525.6L1284.8,525.2L1285.3,524.8L1285.8,524.3L1286.2,523.9L1286.7,523.5L1287.2,523.1L1287.7,522.7L1288.1,522.3L1288.6,521.9L1289.1,521.6L1289.6,521.3L1290.0,521.2L1290.5,521.3L1291.0,521.3L1291.4,521.4L1291.9,521.5L1292.4,521.6L1292.9,521.7L1293.3,521.8L1293.8,521.9L1294.3,522.0L1294.8,522.1L1295.2,522.2L1295.7,522.3L1296.2,522.5L1296.6,522.6L1297.1,522.7L1297.6,522.8L1298.1,522.9L1298.5,523.0L1299.0,523.0L1299.5,523.1L1299.9,523.1L1300.4,523.0L1300.9,522.8L1301.4,522.4L1301.8,522.1L1302.3,521.7L1302.8,521.3L1303.3,520.8L1303.7,520.4L1304.2,520.0L1304.7,519.6L1305.1,519.2L1305.6,518.8L1306.1,518.4L1306.6,518.0L1307.0,517.6L1307.5,517.2L1308.0,516.8L1308.5,516.4L1308.9,516.0L1309.4,515.6L1309.9,515.2L1310.3,514.8L1310.8,514.4L1311.3,514.0L1311.8,513.6L1312.2,513.2L1312.7,512.8L1313.2,512.6L1313.7,512.5L1314.1,512.5L1314.6,512.6L1315.1,512.7L1315.5,512.8L1316.0,512.9L1316.5,513.0L1317.0,513.1L1317.4,513.2L1317.9,513.3L1318.4,513.4L1318.8,513.5L1319.3,513.6L1319.8,513.7L1320.3,513.8L1320.7,513.9L1321.2,514.0L1321.7,514.1L1322.2,514.2L1322.6,514.3L1323.1,514.4L1323.6,514.4L1324.0,514.3L1324.5,514.1L1325.0,513.7L1325.5,513.4L1325.9,513.0L1326.4,512.6L1326.9,512.2L1327.4,511.8L1327.8,511.4L1328.3,510.9L1328.8,510.5L1329.2,510.1L1329.7,509.7L1330.2,509.3L1330.7,508.9L1331.1,508.5L1331.6,508.1L1332.1,507.7L1332.5,507.3L1333.0,506.9L1333.5,506.5L1334.0,506.1L1334.4,505.7L1334.9,505.3L1335.4,504.9L1335.9,504.6L1336.3,504.2L1336.8,504.0L1337.3,503.9L1337.7,503.9L1338.2,504.0L1338.7,504.1L1339.2,504.2L1339.6,504.3L1340.1,504.4L1340.6,504.5L1341.1,504.6L1341.5,504.7L1342.0,504.8L1342.5,504.9L1342.9,505.0L1343.4,505.1L1343.9,505.2L1344.4,505.3L1344.8,505.4L1345.3,505.5L1345.8,505.6L1346.3,505.7L1346.7,505.8L1347.2,505.8L1347.7,505.7L1348.1,505.5L1348.6,505.2L1349.1,504.8L1349.6,504.4L1350.0,504.0L1350.5,503.6L1351.0,503.2L1351.5,502.8L1351.9,502.4L1352.4,502.0L1352.9,501.6L1353.3,501.2L1353.8,500.8L1354.3,500.4L1354.8,500.0L1355.2,499.6L1355.7,499.2L1356.2,498.8L1356.6,498.4L1357.1,498.0L1357.6,497.6L1358.1,497.2L1358.5,496.8L1359.0,496.5L1359.5,496.1L1360.0,495.7L1360.4,495.5L1360.9,495.4L1361.4,495.4L1361.8,495.5L1362.3,495.6L1362.8,495.7L1363.3,495.8L1363.7,495.9L1364.2,496.0L1364.7,496.1L1365.2,496.2L1365.6,496.3L1366.1,496.4L1366.6,496.5L1367.0,496.6L1367.5,496.7L1368.0,496.8L1368.5,497.0L1368.9,497.1L1369.4,497.2L1369.9,497.3L1370.4,497.3L1370.8,497.4L1371.3,497.3L1371.8,497.1L1372.2,496.7L1372.7,496.4L1373.2,496.0L1373.7,495.6L1374.1,495.2L1374.6,494.8L1375.1,494.4L1375.5,494.0L1376.0,493.6L1376.5,493.2L1377.0,492.8L1377.4,492.4L1377.9,492.0L1378.4,491.6L1378.9,491.2L1379.3,490.9L1379.8,490.5L1380.3,490.1L1380.7,489.7L1381.2,489.3L1381.7,488.9L1382.2,488.5L1382.6,488.1L1383.1,487.7L1383.6,487.4L1384.1,487.1L1384.5,487.0L1385.0,487.1L1385.5,487.1L1385.9,487.2L1386.4,487.3L1386.9,487.4L1387.4,487.6L1387.8,487.7L1388.3,487.8L1388.8,487.9L1389.2,488.0L1389.7,488.1L1390.2,488.2L1390.7,488.3L1391.1,488.4L1391.6,488.5L1392.1,488.6L1392.6,488.7L1393.0,488.8L1393.5,488.9L1394.0,489.0L1394.4,489.0L1394.9,489.0L1395.4,488.8L1395.9,488.4L1396.3,488.1L1396.8,487.7L1397.3,487.3L1397.8,486.9L1398.2,486.5L1398.7,486.1L1399.2,485.7L1399.6,485.3L1400.1,485.0L1400.6,484.6L1401.1,484.2L1401.5,483.8L1402.0,483.4L1402.5,483.0L1403.0,482.6L1403.4,482.2L1403.9,481.8L1404.4,481.4L1404.8,481.1L1405.3,480.7L1405.8,480.3L1406.3,479.9L1406.7,479.5L1407.2,479.2L1407.7,478.9L1408.2,478.8L1408.6,478.9L1409.1,478.9L1409.6,479.0L1410.0,479.1L1410.5,479.2L1411.0,479.3L1411.5,479.5L1411.9,479.6L1412.4,479.7L1412.9,479.8L1413.3,479.9L1413.8,480.0L1414.3,480.1L1414.8,480.2L1415.2,480.3L1415.7,480.4L1416.2,480.5L1416.7,480.6L1417.1,480.7L1417.6,480.8L1418.1,480.9L1418.5,480.8L1419.0,480.6L1419.5,480.3L1420.0,479.9L1420.4,479.5L1420.9,479.1L1421.4,478.8L1421.9,478.4L1422.3,478.0L1422.8,477.6L1423.3,477.2L1423.7,476.8L1424.2,476.4L1424.7,476.0L1425.2,475.7L1425.6,475.3L1426.1,474.9L1426.6,474.5L1427.0,474.1L1427.5,473.7L1428.0,473.3L1428.5,473.0L1428.9,472.6L1429.4,472.2L1429.9,471.8L1430.4,471.4L1430.8,471.1L1431.3,470.9L1431.8,470.8L1432.2,470.8L1432.7,470.8L1433.2,470.9L1433.7,471.0L1434.1,471.2L1434.6,471.3L1435.1,471.4L1435.6,471.5L1436.0,471.6L1436.5,471.7L1437.0,471.8L1437.4,471.9L1437.9,472.0L1438.4,472.1L1438.9,472.2L1439.3,472.4L1439.8,472.5L1440.3,472.6L1440.8,472.7L1441.2,472.8L1441.7,472.8L1442.2,472.7L1442.6,472.5L1443.1,472.2L1443.6,471.9L1444.1,471.5L1444.5,471.1L1445.0,470.7L1445.5,470.4L1446.0,470.0L1446.4,469.6L1446.9,469.2L1447.4,468.8L1447.8,468.4L1448.3,468.1L1448.8,467.7L1449.3,467.3L1449.7,466.9L1450.2,466.5L1450.7,466.1L1451.1,465.8L1451.6,465.4L1452.1,465.0L1452.6,464.6L1453.0,464.2L1453.5,463.9L1454.0,463.5L1454.5,463.2L1454.9,462.9L1455.4,462.8L1455.9,462.8L1456.3,462.9L1456.8,463.0L1457.3,463.1L1457.8,463.2L1458.2,463.3L1458.7,463.4L1459.2,463.5L1459.7,463.6L1460.1,463.8L1460.6,463.9L1461.1,464.0L1461.5,464.1L1462.0,464.2L1462.5,464.3L1463.0,464.4L1463.4,464.5L1463.9,464.6L1464.4,464.7L1464.9,464.8L1465.3,464.9L1465.8,464.8L1466.3,464.6L1466.7,464.3L1467.2,464.0L1467.7,463.6L1468.2,463.2L1468.6,462.8L1469.1,462.5L1469.6,462.1L1470.0,461.7L1470.5,461.3L1471.0,460.9L1471.5,460.6L1471.9,460.2L1472.4,459.8L1472.9,459.4L1473.4,459.1L1473.8,458.7L1474.3,458.3L1474.8,457.9L1475.2,457.5L1475.7,457.2L1476.2,456.8L1476.7,456.4L1477.1,456.0L1477.6,455.7L1478.1,455.3L1478.6,455.1L1479.0,455.0L1479.5,455.0L1480.0,455.1L1480.4,455.2L1480.9,455.3L1481.4,455.4L1481.9,455.5L1482.3,455.6L1482.8,455.7L1483.3,455.8L1483.8,455.9L1484.2,456.0L1484.7,456.2L1485.2,456.3L1485.6,456.4L1486.1,456.5L1486.6,456.6L1487.1,456.7L1487.5,456.8L1488.0,456.9L1488.5,457.0L1488.9,457.1L1489.4,457.0L1489.9,456.8L1490.4,456.5L1490.8,456.2L1491.3,455.8L1491.8,455.4L1492.3,455.1L1492.7,454.7L1493.2,454.3L1493.7,453.9L1494.1,453.6L1494.6,453.2L1495.1,452.8L1495.6,452.4L1496.0,452.1L1496.5,451.7L1497.0,451.3L1497.5,450.9L1497.9,450.6L1498.4,450.2L1498.9,449.8L1499.3,449.5L1499.8,449.1L1500.3,448.7L1500.8,448.3L1501.2,448.0L1501.7,447.6L1502.2,447.4L1502.7,447.3L1503.1,447.3L1503.6,447.4L1504.1,447.5L1504.5,447.6L1505.0,447.7L1505.5,447.8L1506.0,447.9L1506.4,448.0L1506.9,448.1L1507.4,448.2L1507.8,448.4L1508.3,448.5L1508.8,448.6L1509.3,448.7L1509.7,448.8L1510.2,448.9L1510.7,449.0L1511.2,449.1L1511.6,449.2L1512.1,449.3L1512.6,449.4L1513.0,449.4L1513.5,449.2L1514.0,448.9L1514.5,448.5L1514.9,448.2L1515.4,447.8L1515.9,447.4L1516.4,447.1L1516.8,446.7L1517.3,446.3L1517.8,445.9L1518.2,445.6L1518.7,445.2L1519.2,444.8L1519.7,444.5L1520.1,444.1L1520.6,443.7L1521.1,443.3L1521.5,443.0L1522.0,442.6L1522.5,442.2L1523.0,441.9L1523.4,441.5L1523.9,441.1L1524.4,440.8L1524.9,440.4L1525.3,440.1L1525.8,439.8L1526.3,439.7L1526.7,439.7L1527.2,439.8L1527.7,439.9L1528.2,440.0L1528.6,440.1L1529.1,440.2L1529.6,440.3L1530.1,440.4L1530.5,440.6L1531.0,440.7L1531.5,440.8L1531.9,440.9L1532.4,441.0L1532.9,441.1L1533.4,441.2L1533.8,441.3L1534.3,441.5L1534.8,441.6L1535.3,441.7L1535.7,441.8L1536.2,441.8L1536.7,441.8L1537.1,441.6L1537.6,441.3L1538.1,441.0L1538.6,440.6L1539.0,440.3L1539.5,439.9L1540.0,439.5L1540.5,439.2L1540.9,438.8L1541.4,438.4L1541.9,438.1L1542.3,437.7L1542.8,437.3L1543.3,437.0L1543.8,436.6L1544.2,436.2L1544.7,435.9L1545.2,435.5L1545.6,435.1L1546.1,434.8L1546.6,434.4L1547.1,434.0L1547.5,433.7L1548.0,433.3L1548.5,432.9L1549.0,432.6L1549.4,432.4L1549.9,432.2L1550.4,432.3L1550.8,432.3L1551.3,432.4L1551.8,432.5L1552.3,432.7L1552.7,432.8L1553.2,432.9L1553.7,433.0L1554.2,433.1L1554.6,433.2L1555.1,433.3L1555.6,433.4L1556.0,433.6L1556.5,433.7L1557.0,433.8L1557.5,433.9L1557.9,434.0L1558.4,434.1L1558.9,434.2L1559.4,434.3L1559.8,434.4L1560.3,434.4L1560.8,434.2L1561.2,433.9L1561.7,433.6L1562.2,433.2L1562.7,432.9L1563.1,432.5L1563.6,432.1L1564.1,431.8L1564.5,431.4L1565.0,431.0L1565.5,430.7L1566.0,430.3L1566.4,430.0L1566.9,429.6L1567.4,429.2L1567.9,428.9L1568.3,428.5L1568.8,428.1L1569.3,427.8L1569.7,427.4L1570.2,427.0L1570.7,426.7L1571.2,426.3L1571.6,426.0L1572.1,425.6L1572.6,425.3L1573.1,425.0L1573.5,424.9L1574.0,424.9L1574.5,425.0L1574.9,425.1L1575.4,425.2L1575.9,425.3L1576.4,425.4L1576.8,425.5L1577.3,425.7L1577.8,425.8L1578.2,425.9L1578.7,426.0L1579.2,426.1L1579.7,426.2L1580.1,426.3L1580.6,426.5L1581.1,426.6L1581.6,426.7L1582.0,426.8L1582.5,426.9L1583.0,427.0L1583.4,427.1L1583.9,427.1L1584.4,426.9L1584.9,426.6L1585.3,426.3L1585.8,425.9L1586.3,425.6L1586.8,425.2L1587.2,424.9L1587.7,424.5L1588.2,424.1L1588.6,423.8L1589.1,423.4L1589.6,423.1L1590.1,422.7L1590.5,422.3L1591.0,422.0L1591.5,421.6L1592.0,421.3L1592.4,420.9L1592.9,420.5L1593.4,420.2L1593.8,419.8L1594.3,419.5L1594.8,419.1L1595.3,418.7L1595.7,418.4L1596.2,418.1L1596.7,417.8L1597.2,417.7L1597.6,417.7L1598.1,417.8L1598.6,417.9L1599.0,418.0L1599.5,418.1L1600.0,418.2L1600.5,418.3L1600.9,418.4L1601.4,418.6L1601.9,418.7L1602.3,418.8L1602.8,418.9L1603.3,419.0L1603.8,419.1L1604.2,419.3L1604.7,419.4L1605.2,419.5L1605.7,419.6L1606.1,419.7L1606.6,419.8L1607.1,419.9L1607.5,419.9L1608.0,419.7L1608.5,419.4L1609.0,419.1L1609.4,418.8L1609.9,418.4L1610.4,418.1L1610.9,417.7L1611.3,417.3L1611.8,417.0L1612.3,416.6L1612.7,416.3L1613.2,415.9L1613.7,415.6L1614.2,415.2L1614.6,414.8L1615.1,414.5L1615.6,414.1L1616.0,413.8L1616.5,413.4L1617.0,413.1L1617.5,412.7L1617.9,412.4L1618.4,412.0L1618.9,411.6L1619.4,411.3L1619.8,411.0L1620.3,410.7L1620.8,410.6L1621.2,410.6L1621.7,410.7L1622.2,410.8L1622.7,410.9L1623.1,411.0L1623.6,411.1L1624.1,411.2L1624.6,411.3L1625.0,411.5L1625.5,411.6L1626.0,411.7L1626.4,411.8L1626.9,411.9L1627.4,412.0L1627.9,412.2L1628.3,412.3L1628.8,412.4L1629.3,412.5L1629.8,412.6L1630.2,412.7L1630.7,412.8L1631.2,412.8L1631.6,412.6L1632.1,412.4L1632.6,412.1L1633.1,411.7L1633.5,411.4L1634.0,411.0L1634.5,410.7L1635.0,410.3L1635.4,409.9L1635.9,409.6L1636.4,409.2L1636.8,408.9L1637.3,408.5L1637.8,408.2L1638.3,407.8L1638.7,407.5L1639.2,407.1L1639.7,406.8L1640.1,406.4L1640.6,406.1L1641.1,405.7L1641.6,405.4L1642.0,405.0L1642.5,404.7L1643.0,404.3L1643.5,404.0L1643.9,403.7L1644.4,403.6L1644.9,403.6L1645.3,403.7L1645.8,403.8L1646.3,403.9L1646.8,404.0L1647.2,404.1L1647.7,404.2L1648.2,404.4L1648.7,404.5L1649.1,404.6L1649.6,404.7L1650.1,404.8L1650.5,404.9L1651.0,405.1L1651.5,405.2L1652.0,405.3L1652.4,405.4L1652.9,405.5L1653.4,405.6L1653.9,405.7L1654.3,405.8L1654.8,405.8L1655.3,405.7L1655.7,405.4L1656.2,405.1L1656.7,404.8L1657.2,404.4L1657.6,404.1L1658.1,403.7L1658.6,403.4L1659.0,403.0L1659.5,402.7L1660.0,402.3L1660.5,402.0L1660.9,401.6L1661.4,401.3L1661.9,400.9L1662.4,400.6L1662.8,400.2L1663.3,399.9L1663.8,399.5L1664.2,399.2L1664.7,398.8L1665.2,398.5L1665.7,398.1L1666.1,397.8L1666.6,397.4L1667.1,397.1L1667.6,396.9L1668.0,396.7L1668.5,396.7L1669.0,396.8L1669.4,396.9L1669.9,397.0L1670.4,397.1L1670.9,397.3L1671.3,397.4L1671.8,397.5L1672.3,397.6L1672.8,397.7L1673.2,397.8L1673.7,398.0L1674.2,398.1L1674.6,398.2L1675.1,398.3L1675.6,398.4L1676.1,398.6L1676.5,398.7L1677.0,398.8L1677.5,398.9L1677.9,399.0L1678.4,399.0L1678.9,398.8L1679.4,398.6L1679.8,398.3L1680.3,397.9L1680.8,397.6L1681.3,397.2L1681.7,396.9L1682.2,396.6L1682.7,396.2L1683.1,395.9L1683.6,395.5L1684.1,395.2L1684.6,394.8L1685.0,394.5L1685.5,394.1L1686.0,393.8L1686.5,393.4L1686.9,393.1L1687.4,392.7L1687.9,392.4L1688.3,392.1L1688.8,391.7L1689.3,391.4L1689.8,391.0L1690.2,390.7L1690.7,390.4L1691.2,390.1L1691.7,390.0L1692.1,390.0L1692.6,390.0L1693.1,390.1L1693.5,390.3L1694.0,390.4L1694.5,390.5L1695.0,390.6L1695.4,390.7L1695.9,390.9L1696.4,391.0L1696.8,391.1L1697.3,391.2L1697.8,391.3L1698.3,391.4L1698.7,391.6L1699.2,391.7L1699.7,391.8L1700.2,391.9L1700.6,392.0L1701.1,392.1L1701.6,392.2L1702.0,392.2L1702.5,392.1L1703.0,391.9L1703.5,391.6L1703.9,391.2L1704.4,390.9L1704.9,390.5L1705.4,390.2L1705.8,389.8L1706.3,389.5L1706.8,389.2L1707.2,388.8L1707.7,388.5L1708.2,388.1L1708.7,387.8L1709.1,387.4L1709.6,387.1L1710.1,386.8L1710.5,386.4L1711.0,386.1L1711.5,385.7L1712.0,385.4L1712.4,385.1L1712.9,384.7L1713.4,384.4L1713.9,384.0L1714.3,383.7L1714.8,383.5L1715.3,383.3L1715.7,383.3L1716.2,383.4L1716.7,383.5L1717.2,383.6L1717.6,383.7L1718.1,383.8L1718.6,384.0L1719.1,384.1L1719.5,384.2L1720.0,384.3" fill="none" stroke="#000000" stroke-width="7.8" stroke-linecap="square" stroke-linejoin="round"/>
<path d="M302.5,1054.8L303.0,1054.7L303.4,1054.7L303.9,1054.7L304.4,1054.7L304.9,1054.7L305.3,1054.7L305.8,1054.7L306.3,1054.6L306.8,1054.6L307.2,1054.4L307.7,1054.0L308.2,1053.5L308.6,1052.9L309.1,1052.3L309.6,1051.7L310.1,1051.1L310.5,1050.4L311.0,1049.8L311.5,1049.2L311.9,1048.5L312.4,1047.9L312.9,1047.3L313.4,1046.6L313.8,1046.0L314.3,1045.4L314.8,1044.7L315.3,1044.1L315.7,1043.5L316.2,1042.9L316.7,1042.2L317.1,1041.6L317.6,1041.0L318.1,1040.3L318.6,1039.7L319.0,1039.1L319.5,1038.5L320.0,1038.0L320.5,1037.7L320.9,1037.5L321.4,1037.4L321.9,1037.4L322.3,1037.4L322.8,1037.4L323.3,1037.4L323.8,1037.4L324.2,1037.4L324.7,1037.3L325.2,1037.3L325.7,1037.3L326.1,1037.3L326.6,1037.3L327.1,1037.3L327.5,1037.3L328.0,1037.3L328.5,1037.3L329.0,1037.3L329.4,1037.3L329.9,1037.3L330.4,1037.2L330.9,1037.0L331.3,1036.7L331.8,1036.2L332.3,1035.6L332.7,1035.0L333.2,1034.4L333.7,1033.8L334.2,1033.1L334.6,1032.5L335.1,1031.9L335.6,1031.3L336.0,1030.7L336.5,1030.0L337.0,1029.4L337.5,1028.8L337.9,1028.2L338.4,1027.5L338.9,1026.9L339.4,1026.3L339.8,1025.7L340.3,1025.1L340.8,1024.4L341.2,1023.8L341.7,1023.2L342.2,1022.6L342.7,1022.0L343.1,1021.4L343.6,1020.9L344.1,1020.5L344.6,1020.4L345.0,1020.3L345.5,1020.3L346.0,1020.3L346.4,1020.3L346.9,1020.3L347.4,1020.3L347.9,1020.3L348.3,1020.3L348.8,1020.3L349.3,1020.3L349.8,1020.3L350.2,1020.3L350.7,1020.3L351.2,1020.3L351.6,1020.3L352.1,1020.3L352.6,1020.3L353.1,1020.3L353.5,1020.2L354.0,1020.2L354.5,1020.0L354.9,1019.7L355.4,1019.2L355.9,1018.7L356.4,1018.1L356.8,1017.5L357.3,1016.8L357.8,1016.2L358.3,1015.6L358.7,1015.0L359.2,1014.4L359.7,1013.8L360.1,1013.1L360.6,1012.5L361.1,1011.9L361.6,1011.3L362.0,1010.7L362.5,1010.1L363.0,1009.5L363.5,1008.8L363.9,1008.2L364.4,1007.6L364.9,1007.0L365.3,1006.4L365.8,1005.8L366.3,1005.2L366.8,1004.6L367.2,1004.1L367.7,1003.8L368.2,1003.6L368.6,1003.5L369.1,1003.5L369.6,1003.5L370.1,1003.5L370.5,1003.5L371.0,1003.5L371.5,1003.5L372.0,1003.5L372.4,1003.5L372.9,1003.5L373.4,1003.6L373.8,1003.6L374.3,1003.6L374.8,1003.6L375.3,1003.6L375.7,1003.6L376.2,1003.6L376.7,1003.6L377.2,1003.6L377.6,1003.5L378.1,1003.4L378.6,1003.1L379.0,1002.6L379.5,1002.1L380.0,1001.5L380.5,1000.9L380.9,1000.3L381.4,999.6L381.9,999.0L382.4,998.4L382.8,997.8L383.3,997.2L383.8,996.6L384.2,996.0L384.7,995.4L385.2,994.8L385.7,994.2L386.1,993.6L386.6,993.0L387.1,992.4L387.6,991.8L388.0,991.2L388.5,990.6L389.0,990.0L389.4,989.4L389.9,988.8L390.4,988.2L390.9,987.7L391.3,987.4L391.8,987.2L392.3,987.1L392.7,987.1L393.2,987.1L393.7,987.1L394.2,987.1L394.6,987.1L395.1,987.2L395.6,987.2L396.1,987.2L396.5,987.2L397.0,987.2L397.5,987.2L397.9,987.2L398.4,987.2L398.9,987.2L399.4,987.2L399.8,987.3L400.3,987.3L400.8,987.3L401.3,987.2L401.7,987.1L402.2,986.8L402.7,986.3L403.1,985.8L403.6,985.2L404.1,984.6L404.6,984.0L405.0,983.4L405.5,982.8L406.0,982.2L406.4,981.6L406.9,981.0L407.4,980.4L407.9,979.8L408.3,979.2L408.8,978.6L409.3,978.0L409.8,977.4L410.2,976.8L410.7,976.2L411.2,975.6L411.6,975.0L412.1,974.4L412.6,973.8L413.1,973.3L413.5,972.7L414.0,972.1L414.5,971.6L415.0,971.3L415.4,971.1L415.9,971.1L416.4,971.0L416.8,971.1L417.3,971.1L417.8,971.1L418.3,971.1L418.7,971.1L419.2,971.1L419.7,971.1L420.2,971.2L420.6,971.2L421.1,971.2L421.6,971.2L422.0,971.2L422.5,971.2L423.0,971.3L423.5,971.3L423.9,971.3L424.4,971.3L424.9,971.2L425.4,971.1L425.8,970.9L426.3,970.4L426.8,969.9L427.2,969.3L427.7,968.7L428.2,968.1L428.7,967.5L429.1,966.9L429.6,966.3L430.1,965.8L430.5,965.2L431.0,964.6L431.5,964.0L432.0,963.4L432.4,962.8L432.9,962.2L433.4,961.6L433.9,961.0L434.3,960.4L434.8,959.8L435.3,959.3L435.7,958.7L436.2,958.1L436.7,957.5L437.2,956.9L437.6,956.4L438.1,955.9L438.6,955.5L439.1,955.4L439.5,955.3L440.0,955.3L440.5,955.3L440.9,955.3L441.4,955.4L441.9,955.4L442.4,955.4L442.8,955.4L443.3,955.4L443.8,955.5L444.2,955.5L444.7,955.5L445.2,955.5L445.7,955.6L446.1,955.6L446.6,955.6L447.1,955.6L447.6,955.6L448.0,955.6L448.5,955.6L449.0,955.5L449.4,955.2L449.9,954.8L450.4,954.3L450.9,953.7L451.3,953.1L451.8,952.5L452.3,952.0L452.8,951.4L453.2,950.8L453.7,950.2L454.2,949.6L454.6,949.0L455.1,948.5L455.6,947.9L456.1,947.3L456.5,946.7L457.0,946.1L457.5,945.6L458.0,945.0L458.4,944.4L458.9,943.8L459.4,943.2L459.8,942.6L460.3,942.1L460.8,941.5L461.3,940.9L461.7,940.5L462.2,940.1L462.7,940.0L463.1,939.9L463.6,939.9L464.1,939.9L464.6,939.9L465.0,940.0L465.5,940.0L466.0,940.0L466.5,940.0L466.9,940.1L467.4,940.1L467.9,940.1L468.3,940.2L468.8,940.2L469.3,940.2L469.8,940.2L470.2,940.3L470.7,940.3L471.2,940.3L471.7,940.3L472.1,940.3L472.6,940.2L473.1,939.9L473.5,939.5L474.0,939.0L474.5,938.4L475.0,937.9L475.4,937.3L475.9,936.7L476.4,936.1L476.9,935.6L477.3,935.0L477.8,934.4L478.3,933.8L478.7,933.3L479.2,932.7L479.7,932.1L480.2,931.5L480.6,931.0L481.1,930.4L481.6,929.8L482.1,929.3L482.5,928.7L483.0,928.1L483.5,927.5L483.9,927.0L484.4,926.4L484.9,925.9L485.4,925.4L485.8,925.0L486.3,924.9L486.8,924.8L487.2,924.8L487.7,924.8L488.2,924.9L488.7,924.9L489.1,924.9L489.6,925.0L490.1,925.0L490.6,925.0L491.0,925.1L491.5,925.1L492.0,925.1L492.4,925.1L492.9,925.2L493.4,925.2L493.9,925.2L494.3,925.3L494.8,925.3L495.3,925.3L495.8,925.3L496.2,925.2L496.7,925.0L497.2,924.6L497.6,924.1L498.1,923.5L498.6,922.9L499.1,922.4L499.5,921.8L500.0,921.2L500.5,920.7L501.0,920.1L501.4,919.5L501.9,919.0L502.4,918.4L502.8,917.8L503.3,917.3L503.8,916.7L504.3,916.1L504.7,915.6L505.2,915.0L505.7,914.4L506.1,913.9L506.6,913.3L507.1,912.7L507.6,912.2L508.0,911.6L508.5,911.1L509.0,910.6L509.5,910.3L509.9,910.1L510.4,910.0L510.9,910.1L511.3,910.1L511.8,910.1L512.3,910.1L512.8,910.2L513.2,910.2L513.7,910.3L514.2,910.3L514.7,910.3L515.1,910.4L515.6,910.4L516.1,910.4L516.5,910.5L517.0,910.5L517.5,910.5L518.0,910.6L518.4,910.6L518.9,910.6L519.4,910.6L519.9,910.5L520.3,910.3L520.8,909.9L521.3,909.4L521.7,908.9L522.2,908.3L522.7,907.8L523.2,907.2L523.6,906.6L524.1,906.1L524.6,905.5L525.0,905.0L525.5,904.4L526.0,903.8L526.5,903.3L526.9,902.7L527.4,902.1L527.9,901.6L528.4,901.0L528.8,900.5L529.3,899.9L529.8,899.4L530.2,898.8L530.7,898.2L531.2,897.7L531.7,897.1L532.1,896.6L532.6,896.1L533.1,895.8L533.6,895.6L534.0,895.6L534.5,895.6L535.0,895.6L535.4,895.7L535.9,895.7L536.4,895.7L536.9,895.8L537.3,895.8L537.8,895.9L538.3,895.9L538.8,895.9L539.2,896.0L539.7,896.0L540.2,896.1L540.6,896.1L541.1,896.1L541.6,896.2L542.1,896.2L542.5,896.2L543.0,896.2L543.5,896.2L543.9,896.0L544.4,895.6L544.9,895.1L545.4,894.5L545.8,894.0L546.3,893.4L546.8,892.9L547.3,892.3L547.7,891.8L548.2,891.2L548.7,890.7L549.1,890.1L549.6,889.6L550.1,889.0L550.6,888.5L551.0,887.9L551.5,887.4L552.0,886.8L552.5,886.3L552.9,885.7L553.4,885.1L553.9,884.6L554.3,884.0L554.8,883.5L555.3,883.0L555.8,882.4L556.2,882.0L556.7,881.6L557.2,881.5L557.6,881.4L558.1,881.4L558.6,881.5L559.1,881.5L559.5,881.5L560.0,881.6L560.5,881.6L561.0,881.7L561.4,881.7L561.9,881.8L562.4,881.8L562.8,881.9L563.3,881.9L563.8,881.9L564.3,882.0L564.7,882.0L565.2,882.1L565.7,882.1L566.2,882.2L566.6,882.2L567.1,882.1L567.6,881.9L568.0,881.5L568.5,881.0L569.0,880.5L569.5,880.0L569.9,879.4L570.4,878.9L570.9,878.3L571.4,877.8L571.8,877.2L572.3,876.7L572.8,876.1L573.2,875.6L573.7,875.1L574.2,874.5L574.7,874.0L575.1,873.4L575.6,872.9L576.1,872.3L576.5,871.8L577.0,871.2L577.5,870.7L578.0,870.2L578.4,869.6L578.9,869.1L579.4,868.6L579.9,868.1L580.3,867.7L580.8,867.6L581.3,867.5L581.7,867.6L582.2,867.6L582.7,867.6L583.2,867.7L583.6,867.7L584.1,867.8L584.6,867.8L585.1,867.9L585.5,867.9L586.0,868.0L586.5,868.0L586.9,868.1L587.4,868.1L587.9,868.2L588.4,868.2L588.8,868.3L589.3,868.3L589.8,868.4L590.3,868.4L590.7,868.3L591.2,868.1L591.7,867.8L592.1,867.3L592.6,866.8L593.1,866.2L593.6,865.7L594.0,865.2L594.5,864.6L595.0,864.1L595.5,863.5L595.9,863.0L596.4,862.5L596.9,861.9L597.3,861.4L597.8,860.8L598.3,860.3L598.8,859.8L599.2,859.2L599.7,858.7L600.2,858.2L600.6,857.6L601.1,857.1L601.6,856.5L602.1,856.0L602.5,855.5L603.0,855.0L603.5,854.5L604.0,854.2L604.4,854.0L604.9,854.0L605.4,854.0L605.8,854.0L606.3,854.1L606.8,854.1L607.3,854.2L607.7,854.2L608.2,854.3L608.7,854.3L609.2,854.4L609.6,854.4L610.1,854.5L610.6,854.5L611.0,854.6L611.5,854.7L612.0,854.7L612.5,854.8L612.9,854.8L613.4,854.9L613.9,854.9L614.4,854.8L614.8,854.6L615.3,854.3L615.8,853.8L616.2,853.3L616.7,852.8L617.2,852.3L617.7,851.7L618.1,851.2L618.6,850.7L619.1,850.1L619.5,849.6L620.0,849.1L620.5,848.5L621.0,848.0L621.4,847.5L621.9,846.9L622.4,846.4L622.9,845.9L623.3,845.3L623.8,844.8L624.3,844.3L624.7,843.7L625.2,843.2L625.7,842.7L626.2,842.2L626.6,841.7L627.1,841.2L627.6,840.9L628.1,840.7L628.5,840.7L629.0,840.7L629.5,840.7L629.9,840.8L630.4,840.8L630.9,840.9L631.4,841.0L631.8,841.0L632.3,841.1L632.8,841.1L633.2,841.2L633.7,841.2L634.2,841.3L634.7,841.4L635.1,841.4L635.6,841.5L636.1,841.5L636.6,841.6L637.0,841.6L637.5,841.6L638.0,841.6L638.4,841.4L638.9,841.1L639.4,840.6L639.9,840.1L640.3,839.6L640.8,839.1L641.3,838.6L641.8,838.0L642.2,837.5L642.7,837.0L643.2,836.5L643.6,835.9L644.1,835.4L644.6,834.9L645.1,834.4L645.5,833.8L646.0,833.3L646.5,832.8L647.0,832.3L647.4,831.7L647.9,831.2L648.4,830.7L648.8,830.2L649.3,829.7L649.8,829.1L650.3,828.6L650.7,828.2L651.2,827.8L651.7,827.7L652.2,827.6L652.6,827.7L653.1,827.7L653.6,827.8L654.0,827.8L654.5,827.9L655.0,828.0L655.5,828.0L655.9,828.1L656.4,828.1L656.9,828.2L657.3,828.3L657.8,828.3L658.3,828.4L658.8,828.4L659.2,828.5L659.7,828.6L660.2,828.6L660.7,828.7L661.1,828.7L661.6,828.7L662.1,828.5L662.5,828.2L663.0,827.7L663.5,827.2L664.0,826.7L664.4,826.2L664.9,825.7L665.4,825.2L665.9,824.7L666.3,824.1L666.8,823.6L667.3,823.1L667.7,822.6L668.2,822.1L668.7,821.5L669.2,821.0L669.6,820.5L670.1,820.0L670.6,819.5L671.0,818.9L671.5,818.4L672.0,817.9L672.5,817.4L672.9,816.9L673.4,816.4L673.9,815.9L674.4,815.4L674.8,815.1L675.3,814.9L675.8,814.9L676.2,814.9L676.7,815.0L677.2,815.0L677.7,815.1L678.1,815.2L678.6,815.2L679.1,815.3L679.6,815.4L680.0,815.4L680.5,815.5L681.0,815.5L681.4,815.6L681.9,815.7L682.4,815.7L682.9,815.8L683.3,815.9L683.8,815.9L684.3,816.0L684.8,816.0L685.2,816.0L685.7,815.9L686.2,815.5L686.6,815.1L687.1,814.6L687.6,814.1L688.1,813.6L688.5,813.1L689.0,812.6L689.5,812.1L690.0,811.5L690.4,811.0L690.9,810.5L691.4,810.0L691.8,809.5L692.3,809.0L692.8,808.5L693.3,808.0L693.7,807.4L694.2,806.9L694.7,806.4L695.1,805.9L695.6,805.4L696.1,804.9L696.6,804.4L697.0,803.9L697.5,803.4L698.0,802.9L698.5,802.6L698.9,802.4L699.4,802.4L699.9,802.4L700.3,802.5L700.8,802.5L701.3,802.6L701.8,802.7L702.2,802.8L702.7,802.8L703.2,802.9L703.7,803.0L704.1,803.0L704.6,803.1L705.1,803.2L705.5,803.2L706.0,803.3L706.5,803.4L707.0,803.4L707.4,803.5L707.9,803.6L708.4,803.6L708.8,803.6L709.3,803.5L709.8,803.1L710.3,802.7L710.7,802.2L711.2,801.7L711.7,801.2L712.2,800.7L712.6,800.2L713.1,799.7L713.6,799.2L714.0,798.7L714.5,798.2L715.0,797.7L715.5,797.2L715.9,796.7L716.4,796.2L716.9,795.7L717.4,795.2L717.8,794.7L718.3,794.1L718.8,793.6L719.2,793.1L719.7,792.6L720.2,792.1L720.7,791.6L721.1,791.1L721.6,790.7L722.1,790.4L722.6,790.2L723.0,790.2L723.5,790.2L724.0,790.3L724.4,790.3L724.9,790.4L725.4,790.5L725.9,790.5L726.3,790.6L726.8,790.7L727.3,790.8L727.8,790.8L728.2,790.9L728.7,791.0L729.2,791.0L729.6,791.1L730.1,791.2L730.6,791.3L731.1,791.3L731.5,791.4L732.0,791.4L732.5,791.4L732.9,791.3L733.4,791.0L733.9,790.6L734.4,790.1L734.8,789.6L735.3,789.1L735.8,788.6L736.3,788.1L736.7,787.6L737.2,787.1L737.7,786.6L738.1,786.1L738.6,785.6L739.1,785.1L739.6,784.6L740.0,784.1L740.5,783.6L741.0,783.1L741.5,782.6L741.9,782.1L742.4,781.6L742.9,781.1L743.3,780.6L743.8,780.1L744.3,779.6L744.8,779.2L745.2,778.7L745.7,778.4L746.2,778.2L746.7,778.2L747.1,778.2L747.6,778.3L748.1,778.4L748.5,778.4L749.0,778.5L749.5,778.6L750.0,778.7L750.4,778.7L750.9,778.8L751.4,778.9L751.8,779.0L752.3,779.0L752.8,779.1L753.3,779.2L753.7,779.3L754.2,779.3L754.7,779.4L755.2,779.5L755.6,779.5L756.1,779.5L756.6,779.4L757.0,779.1L757.5,778.7L758.0,778.2L758.5,777.8L758.9,777.3L759.4,776.8L759.9,776.3L760.4,775.8L760.8,775.3L761.3,774.8L761.8,774.3L762.2,773.8L762.7,773.3L763.2,772.8L763.7,772.3L764.1,771.8L764.6,771.3L765.1,770.9L765.5,770.4L766.0,769.9L766.5,769.4L767.0,768.9L767.4,768.4L767.9,767.9L768.4,767.4L768.9,767.0L769.3,766.7L769.8,766.5L770.3,766.5L770.7,766.5L771.2,766.6L771.7,766.6L772.2,766.7L772.6,766.8L773.1,766.9L773.6,767.0L774.1,767.0L774.5,767.1L775.0,767.2L775.5,767.3L775.9,767.4L776.4,767.4L776.9,767.5L777.4,767.6L777.8,767.7L778.3,767.7L778.8,767.8L779.3,767.9L779.7,767.9L780.2,767.8L780.7,767.5L781.1,767.1L781.6,766.6L782.1,766.1L782.6,765.7L783.0,765.2L783.5,764.7L784.0,764.2L784.5,763.7L784.9,763.2L785.4,762.7L785.9,762.2L786.3,761.8L786.8,761.3L787.3,760.8L787.8,760.3L788.2,759.8L788.7,759.3L789.2,758.8L789.6,758.4L790.1,757.9L790.6,757.4L791.1,756.9L791.5,756.4L792.0,756.0L792.5,755.5L793.0,755.2L793.4,755.0L793.9,755.0L794.4,755.0L794.8,755.1L795.3,755.2L795.8,755.2L796.3,755.3L796.7,755.4L797.2,755.5L797.7,755.6L798.2,755.7L798.6,755.7L799.1,755.8L799.6,755.9L800.0,756.0L800.5,756.1L801.0,756.2L801.5,756.2L801.9,756.3L802.4,756.4L802.9,756.4L803.3,756.5L803.8,756.4L804.3,756.1L804.8,755.7L805.2,755.2L805.7,754.8L806.2,754.3L806.7,753.8L807.1,753.3L807.6,752.8L808.1,752.4L808.5,751.9L809.0,751.4L809.5,750.9L810.0,750.4L810.4,750.0L810.9,749.5L811.4,749.0L811.9,748.5L812.3,748.0L812.8,747.6L813.3,747.1L813.7,746.6L814.2,746.1L814.7,745.6L815.2,745.2L815.6,744.7L816.1,744.3L816.6,743.9L817.1,743.8L817.5,743.7L818.0,743.8L818.5,743.8L818.9,743.9L819.4,744.0L819.9,744.1L820.4,744.2L820.8,744.3L821.3,744.3L821.8,744.4L822.2,744.5L822.7,744.6L823.2,744.7L823.7,744.8L824.1,744.9L824.6,744.9L825.1,745.0L825.6,745.1L826.0,745.2L826.5,745.3L827.0,745.3L827.4,745.2L827.9,744.9L828.4,744.5L828.9,744.1L829.3,743.6L829.8,743.2L830.3,742.7L830.8,742.2L831.2,741.7L831.7,741.3L832.2,740.8L832.6,740.3L833.1,739.8L833.6,739.4L834.1,738.9L834.5,738.4L835.0,737.9L835.5,737.5L836.0,737.0L836.4,736.5L836.9,736.0L837.4,735.6L837.8,735.1L838.3,734.6L838.8,734.1L839.3,733.7L839.7,733.3L840.2,732.9L840.7,732.7L841.1,732.7L841.6,732.8L842.1,732.8L842.6,732.9L843.0,733.0L843.5,733.1L844.0,733.2L844.5,733.3L844.9,733.4L845.4,733.4L845.9,733.5L846.3,733.6L846.8,733.7L847.3,733.8L847.8,733.9L848.2,734.0L848.7,734.1L849.2,734.2L849.7,734.2L850.1,734.3L850.6,734.3L851.1,734.2L851.5,734.0L852.0,733.6L852.5,733.2L853.0,732.7L853.4,732.3L853.9,731.8L854.4,731.3L854.9,730.8L855.3,730.4L855.8,729.9L856.3,729.4L856.7,729.0L857.2,728.5L857.7,728.0L858.2,727.6L858.6,727.1L859.1,726.6L859.6,726.1L860.1,725.7L860.5,725.2L861.0,724.7L861.5,724.3L861.9,723.8L862.4,723.3L862.9,722.9L863.4,722.5L863.8,722.1L864.3,722.0L864.8,721.9L865.2,722.0L865.7,722.0L866.2,722.1L866.7,722.2L867.1,722.3L867.6,722.4L868.1,722.5L868.6,722.6L869.0,722.7L869.5,722.8L870.0,722.9L870.4,723.0L870.9,723.1L871.4,723.1L871.9,723.2L872.3,723.3L872.8,723.4L873.3,723.5L873.8,723.6L874.2,723.6L874.7,723.5L875.2,723.3L875.6,722.9L876.1,722.5L876.6,722.0L877.1,721.6L877.5,721.1L878.0,720.6L878.5,720.2L879.0,719.7L879.4,719.3L879.9,718.8L880.4,718.3L880.8,717.9L881.3,717.4L881.8,716.9L882.3,716.5L882.7,716.0L883.2,715.5L883.7,715.1L884.1,714.6L884.6,714.2L885.1,713.7L885.6,713.2L886.0,712.8L886.5,712.3L887.0,711.9L887.5,711.6L887.9,711.4L888.4,711.4L888.9,711.4L889.3,711.5L889.8,711.6L890.3,711.7L890.8,711.8L891.2,711.9L891.7,712.0L892.2,712.0L892.7,712.1L893.1,712.2L893.6,712.3L894.1,712.4L894.5,712.5L895.0,712.6L895.5,712.7L896.0,712.8L896.4,712.9L896.9,713.0L897.4,713.1L897.9,713.1L898.3,713.0L898.8,712.8L899.3,712.4L899.7,712.0L900.2,711.6L900.7,711.1L901.2,710.7L901.6,710.2L902.1,709.7L902.6,709.3L903.0,708.8L903.5,708.4L904.0,707.9L904.5,707.4L904.9,707.0L905.4,706.5L905.9,706.1L906.4,705.6L906.8,705.2L907.3,704.7L907.8,704.2L908.2,703.8L908.7,703.3L909.2,702.9L909.7,702.4L910.1,702.0L910.6,701.6L911.1,701.2L911.6,701.0L912.0,701.0L912.5,701.1L913.0,701.1L913.4,701.2L913.9,701.3L914.4,701.4L914.9,701.5L915.3,701.6L915.8,701.7L916.3,701.8L916.8,701.9L917.2,702.0L917.7,702.1L918.2,702.2L918.6,702.3L919.1,702.4L919.6,702.5L920.1,702.6L920.5,702.7L921.0,702.8L921.5,702.8L921.9,702.7L922.4,702.5L922.9,702.2L923.4,701.8L923.8,701.3L924.3,700.9L924.8,700.4L925.3,700.0L925.7,699.5L926.2,699.1L926.7,698.6L927.1,698.2L927.6,697.7L928.1,697.2L928.6,696.8L929.0,696.3L929.5,695.9L930.0,695.4L930.5,695.0L930.9,694.5L931.4,694.1L931.9,693.6L932.3,693.2L932.8,692.7L933.3,692.3L933.8,691.8L934.2,691.4L934.7,691.1L935.2,690.9L935.6,690.9L936.1,690.9L936.6,691.0L937.1,691.1L937.5,691.2L938.0,691.3L938.5,691.4L939.0,691.5L939.4,691.6L939.9,691.7L940.4,691.8L940.8,691.9L941.3,692.0L941.8,692.1L942.3,692.2L942.7,692.3L943.2,692.4L943.7,692.5L944.2,692.6L944.6,692.7L945.1,692.7L945.6,692.7L946.0,692.5L946.5,692.1L947.0,691.7L947.5,691.3L947.9,690.8L948.4,690.4L948.9,689.9L949.4,689.5L949.8,689.1L950.3,688.6L950.8,688.2L951.2,687.7L951.7,687.3L952.2,686.8L952.7,686.4L953.1,685.9L953.6,685.5L954.1,685.0L954.6,684.6L955.0,684.1L955.5,683.7L956.0,683.2L956.4,682.8L956.9,682.4L957.4,681.9L957.9,681.5L958.3,681.2L958.8,681.0L959.3,681.0L959.7,681.0L960.2,681.1L960.7,681.2L961.2,681.3L961.6,681.4L962.1,681.5L962.6,681.6L963.1,681.7L963.5,681.8L964.0,681.9L964.5,682.0L964.9,682.1L965.4,682.2L965.9,682.3L966.4,682.4L966.8,682.5L967.3,682.6L967.8,682.7L968.3,682.8L968.7,682.9L969.2,682.8L969.7,682.6L970.1,682.3L970.6,681.9L971.1,681.5L971.6,681.0L972.0,680.6L972.5,680.1L973.0,679.7L973.5,679.2L973.9,678.8L974.4,678.4L974.9,677.9L975.3,677.5L975.8,677.0L976.3,676.6L976.8,676.1L977.2,675.7L977.7,675.3L978.2,674.8L978.6,674.4L979.1,673.9L979.6,673.5L980.1,673.1L980.5,672.6L981.0,672.2L981.5,671.8L982.0,671.5L982.4,671.3L982.9,671.2L983.4,671.3L983.8,671.4L984.3,671.5L984.8,671.6L985.3,671.7L985.7,671.8L986.2,671.9L986.7,672.0L987.2,672.1L987.6,672.2L988.1,672.3L988.6,672.4L989.0,672.5L989.5,672.6L990.0,672.7L990.5,672.8L990.9,672.9L991.4,673.0L991.9,673.1L992.4,673.2L992.8,673.2L993.3,673.0L993.8,672.7L994.2,672.3L994.7,671.8L995.2,671.4L995.7,671.0L996.1,670.5L996.6,670.1L997.1,669.6L997.5,669.2L998.0,668.8L998.5,668.3L999.0,667.9L999.4,667.5L999.9,667.0L1000.4,666.6L1000.9,666.1L1001.3,665.7L1001.8,665.3L1002.3,664.8L1002.7,664.4L1003.2,664.0L1003.7,663.5L1004.2,663.1L1004.6,662.7L1005.1,662.3L1005.6,661.9L1006.1,661.8L1006.5,661.7L1007.0,661.8L1007.5,661.9L1007.9,662.0L1008.4,662.1L1008.9,662.2L1009.4,662.3L1009.8,662.4L1010.3,662.5L1010.8,662.6L1011.2,662.7L1011.7,662.8L1012.2,662.9L1012.7,663.0L1013.1,663.1L1013.6,663.3L1014.1,663.4L1014.6,663.5L1015.0,663.6L1015.5,663.7L1016.0,663.7L1016.4,663.7L1016.9,663.5L1017.4,663.2L1017.9,662.8L1018.3,662.4L1018.8,662.0L1019.3,661.5L1019.8,661.1L1020.2,660.7L1020.7,660.2L1021.2,659.8L1021.6,659.4L1022.1,658.9L1022.6,658.5L1023.1,658.1L1023.5,657.6L1024.0,657.2L1024.5,656.8L1025.0,656.4L1025.4,655.9L1025.9,655.5L1026.4,655.1L1026.8,654.6L1027.3,654.2L1027.8,653.8L1028.3,653.4L1028.7,653.0L1029.2,652.6L1029.7,652.4L1030.2,652.4L1030.6,652.5L1031.1,652.5L1031.6,652.6L1032.0,652.8L1032.5,652.9L1033.0,653.0L1033.5,653.1L1033.9,653.2L1034.4,653.3L1034.9,653.4L1035.3,653.5L1035.8,653.6L1036.3,653.7L1036.8,653.9L1037.2,654.0L1037.7,654.1L1038.2,654.2L1038.7,654.3L1039.1,654.4L1039.6,654.5L1040.1,654.4L1040.5,654.3L1041.0,654.0L1041.5,653.6L1042.0,653.2L1042.4,652.7L1042.9,652.3L1043.4,651.9L1043.9,651.5L1044.3,651.0L1044.8,650.6L1045.3,650.2L1045.7,649.7L1046.2,649.3L1046.7,648.9L1047.2,648.5L1047.6,648.0L1048.1,647.6L1048.6,647.2L1049.1,646.8L1049.5,646.3L1050.0,645.9L1050.5,645.5L1050.9,645.1L1051.4,644.6L1051.9,644.2L1052.4,643.8L1052.8,643.5L1053.3,643.3L1053.8,643.3L1054.2,643.3L1054.7,643.4L1055.2,643.5L1055.7,643.6L1056.1,643.7L1056.6,643.9L1057.1,644.0L1057.6,644.1L1058.0,644.2L1058.5,644.3L1059.0,644.4L1059.4,644.5L1059.9,644.6L1060.4,644.8L1060.9,644.9L1061.3,645.0L1061.8,645.1L1062.3,645.2L1062.8,645.3L1063.2,645.4L1063.7,645.4L1064.2,645.2L1064.6,644.9L1065.1,644.5L1065.6,644.1L1066.1,643.7L1066.5,643.3L1067.0,642.9L1067.5,642.4L1067.9,642.0L1068.4,641.6L1068.9,641.2L1069.4,640.7L1069.8,640.3L1070.3,639.9L1070.8,639.5L1071.3,639.1L1071.7,638.6L1072.2,638.2L1072.7,637.8L1073.1,637.4L1073.6,637.0L1074.1,636.5L1074.6,636.1L1075.0,635.7L1075.5,635.3L1076.0,634.9L1076.5,634.6L1076.9,634.4L1077.4,634.3L1077.9,634.4L1078.3,634.5L1078.8,634.6L1079.3,634.7L1079.8,634.8L1080.2,634.9L1080.7,635.0L1081.2,635.2L1081.7,635.3L1082.1,635.4L1082.6,635.5L1083.1,635.6L1083.5,635.7L1084.0,635.8L1084.5,636.0L1085.0,636.1L1085.4,636.2L1085.9,636.3L1086.4,636.4L1086.8,636.5L1087.3,636.5L1087.8,636.3L1088.3,636.0L1088.7,635.7L1089.2,635.3L1089.7,634.8L1090.2,634.4L1090.6,634.0L1091.1,633.6L1091.6,633.2L1092.0,632.8L1092.5,632.3L1093.0,631.9L1093.5,631.5L1093.9,631.1L1094.4,630.7L1094.9,630.3L1095.4,629.8L1095.8,629.4L1096.3,629.0L1096.8,628.6L1097.2,628.2L1097.7,627.8L1098.2,627.3L1098.7,626.9L1099.1,626.5L1099.6,626.1L1100.1,625.8L1100.6,625.6L1101.0,625.6L1101.5,625.6L1102.0,625.7L1102.4,625.8L1102.9,626.0L1103.4,626.1L1103.9,626.2L1104.3,626.3L1104.8,626.4L1105.3,626.5L1105.8,626.7L1106.2,626.8L1106.7,626.9L1107.2,627.0L1107.6,627.1L1108.1,627.2L1108.6,627.4L1109.1,627.5L1109.5,627.6L1110.0,627.7L1110.5,627.8L1110.9,627.8L1111.4,627.6L1111.9,627.3L1112.4,627.0L1112.8,626.6L1113.3,626.2L1113.8,625.8L1114.3,625.3L1114.7,624.9L1115.2,624.5L1115.7,624.1L1116.1,623.7L1116.6,623.3L1117.1,622.9L1117.6,622.5L1118.0,622.1L1118.5,621.6L1119.0,621.2L1119.5,620.8L1119.9,620.4L1120.4,620.0L1120.9,619.6L1121.3,619.2L1121.8,618.8L1122.3,618.4L1122.8,618.0L1123.2,617.6L1123.7,617.2L1124.2,617.0L1124.7,617.0L1125.1,617.1L1125.6,617.2L1126.1,617.3L1126.5,617.4L1127.0,617.5L1127.5,617.6L1128.0,617.7L1128.4,617.9L1128.9,618.0L1129.4,618.1L1129.8,618.2L1130.3,618.3L1130.8,618.5L1131.3,618.6L1131.7,618.7L1132.2,618.8L1132.7,618.9L1133.2,619.0L1133.6,619.2L1134.1,619.2L1134.6,619.2L1135.0,619.1L1135.5,618.8L1136.0,618.5L1136.5,618.1L1136.9,617.7L1137.4,617.3L1137.9,616.9L1138.4,616.5L1138.8,616.1L1139.3,615.6L1139.8,615.2L1140.2,614.8L1140.7,614.4L1141.2,614.0L1141.7,613.6L1142.1,613.2L1142.6,612.8L1143.1,612.4L1143.6,612.0L1144.0,611.6L1144.5,611.2L1145.0,610.8L1145.4,610.4L1145.9,610.0L1146.4,609.6L1146.9,609.2L1147.3,608.9L1147.8,608.7L1148.3,608.6L1148.7,608.7L1149.2,608.8L1149.7,608.9L1150.2,609.0L1150.6,609.1L1151.1,609.2L1151.6,609.4L1152.1,609.5L1152.5,609.6L1153.0,609.7L1153.5,609.8L1153.9,610.0L1154.4,610.1L1154.9,610.2L1155.4,610.3L1155.8,610.4L1156.3,610.6L1156.8,610.7L1157.3,610.8L1157.7,610.9L1158.2,610.9L1158.7,610.8L1159.1,610.5L1159.6,610.2L1160.1,609.8L1160.6,609.4L1161.0,609.0L1161.5,608.6L1162.0,608.2L1162.4,607.8L1162.9,607.4L1163.4,607.0L1163.9,606.5L1164.3,606.1L1164.8,605.7L1165.3,605.3L1165.8,604.9L1166.2,604.5L1166.7,604.1L1167.2,603.7L1167.6,603.3L1168.1,602.9L1168.6,602.5L1169.1,602.1L1169.5,601.7L1170.0,601.3L1170.5,601.0L1171.0,600.6L1171.4,600.4L1171.9,600.4L1172.4,600.4L1172.8,600.5L1173.3,600.7L1173.8,600.8L1174.3,600.9L1174.7,601.0L1175.2,601.1L1175.7,601.3L1176.2,601.4L1176.6,601.5L1177.1,601.6L1177.6,601.8L1178.0,601.9L1178.5,602.0L1179.0,602.1L1179.5,602.3L1179.9,602.4L1180.4,602.5L1180.9,602.6L1181.3,602.7L1181.8,602.7L1182.3,602.6L1182.8,602.4L1183.2,602.0L1183.7,601.6L1184.2,601.2L1184.7,600.8L1185.1,600.4L1185.6,600.0L1186.1,599.6L1186.5,599.2L1187.0,598.8L1187.5,598.4L1188.0,598.0L1188.4,597.6L1188.9,597.2L1189.4,596.8L1189.9,596.5L1190.3,596.1L1190.8,595.7L1191.3,595.3L1191.7,594.9L1192.2,594.5L1192.7,594.1L1193.2,593.7L1193.6,593.3L1194.1,592.9L1194.6,592.6L1195.1,592.4L1195.5,592.3L1196.0,592.4L1196.5,592.5L1196.9,592.6L1197.4,592.7L1197.9,592.9L1198.4,593.0L1198.8,593.1L1199.3,593.2L1199.8,593.4L1200.2,593.5L1200.7,593.6L1201.2,593.7L1201.7,593.9L1202.1,594.0L1202.6,594.1L1203.1,594.2L1203.6,594.4L1204.0,594.5L1204.5,594.6L1205.0,594.7L1205.4,594.7L1205.9,594.6L1206.4,594.4L1206.9,594.0L1207.3,593.6L1207.8,593.3L1208.3,592.9L1208.8,592.5L1209.2,592.1L1209.7,591.7L1210.2,591.3L1210.6,590.9L1211.1,590.5L1211.6,590.1L1212.1,589.7L1212.5,589.3L1213.0,588.9L1213.5,588.5L1214.0,588.1L1214.4,587.7L1214.9,587.4L1215.4,587.0L1215.8,586.6L1216.3,586.2L1216.8,585.8L1217.3,585.4L1217.7,585.0L1218.2,584.7L1218.7,584.5L1219.2,584.5L1219.6,584.5L1220.1,584.6L1220.6,584.7L1221.0,584.9L1221.5,585.0L1222.0,585.1L1222.5,585.2L1222.9,585.4L1223.4,585.5L1223.9,585.6L1224.3,585.7L1224.8,585.9L1225.3,586.0L1225.8,586.1L1226.2,586.3L1226.7,586.4L1227.2,586.5L1227.7,586.6L1228.1,586.7L1228.6,586.8L1229.1,586.9L1229.5,586.8L1230.0,586.5L1230.5,586.2L1231.0,585.8L1231.4,585.4L1231.9,585.1L1232.4,584.7L1232.9,584.3L1233.3,583.9L1233.8,583.5L1234.3,583.1L1234.7,582.7L1235.2,582.3L1235.7,581.9L1236.2,581.6L1236.6,581.2L1237.1,580.8L1237.6,580.4L1238.1,580.0L1238.5,579.6L1239.0,579.2L1239.5,578.8L1239.9,578.5L1240.4,578.1L1240.9,577.7L1241.4,577.3L1241.8,577.0L1242.3,576.8L1242.8,576.7L1243.2,576.8L1243.7,576.9L1244.2,577.0L1244.7,577.2L1245.1,577.3L1245.6,577.4L1246.1,577.5L1246.6,577.7L1247.0,577.8L1247.5,577.9L1248.0,578.1L1248.4,578.2L1248.9,578.3L1249.4,578.4L1249.9,578.6L1250.3,578.7L1250.8,578.8L1251.3,578.9L1251.8,579.1L1252.2,579.2L1252.7,579.2L1253.2,579.1L1253.6,578.9L1254.1,578.6L1254.6,578.2L1255.1,577.8L1255.5,577.4L1256.0,577.0L1256.5,576.7L1256.9,576.3L1257.4,575.9L1257.9,575.5L1258.4,575.1L1258.8,574.7L1259.3,574.3L1259.8,574.0L1260.3,573.6L1260.7,573.2L1261.2,572.8L1261.7,572.4L1262.1,572.0L1262.6,571.7L1263.1,571.3L1263.6,570.9L1264.0,570.5L1264.5,570.1L1265.0,569.8L1265.5,569.5L1265.9,569.3L1266.4,569.2L1266.9,569.3L1267.3,569.4L1267.8,569.5L1268.3,569.6L1268.8,569.7L1269.2,569.9L1269.7,570.0L1270.2,570.1L1270.7,570.3L1271.1,570.4L1271.6,570.5L1272.1,570.6L1272.5,570.8L1273.0,570.9L1273.5,571.0L1274.0,571.2L1274.4,571.3L1274.9,571.4L1275.4,571.5L1275.8,571.6L1276.3,571.7L1276.8,571.6L1277.3,571.4L1277.7,571.1L1278.2,570.7L1278.7,570.3L1279.2,569.9L1279.6,569.6L1280.1,569.2L1280.6,568.8L1281.0,568.4L1281.5,568.0L1282.0,567.7L1282.5,567.3L1282.9,566.9L1283.4,566.5L1283.9,566.1L1284.4,565.8L1284.8,565.4L1285.3,565.0L1285.8,564.6L1286.2,564.3L1286.7,563.9L1287.2,563.5L1287.7,563.1L1288.1,562.7L1288.6,562.4L1289.1,562.1L1289.6,561.9L1290.0,561.8L1290.5,561.9L1291.0,562.0L1291.4,562.1L1291.9,562.2L1292.4,562.3L1292.9,562.5L1293.3,562.6L1293.8,562.7L1294.3,562.9L1294.8,563.0L1295.2,563.1L1295.7,563.3L1296.2,563.4L1296.6,563.5L1297.1,563.7L1297.6,563.8L1298.1,563.9L1298.5,564.1L1299.0,564.2L1299.5,564.3L1299.9,564.3L1300.4,564.3L1300.9,564.0L1301.4,563.7L1301.8,563.4L1302.3,563.0L1302.8,562.6L1303.3,562.3L1303.7,561.9L1304.2,561.5L1304.7,561.1L1305.1,560.8L1305.6,560.4L1306.1,560.0L1306.6,559.6L1307.0,559.2L1307.5,558.9L1308.0,558.5L1308.5,558.1L1308.9,557.7L1309.4,557.4L1309.9,557.0L1310.3,556.6L1310.8,556.3L1311.3,555.9L1311.8,555.5L1312.2,555.2L1312.7,554.8L1313.2,554.6L1313.7,554.6L1314.1,554.6L1314.6,554.7L1315.1,554.9L1315.5,555.0L1316.0,555.1L1316.5,555.2L1317.0,555.4L1317.4,555.5L1317.9,555.7L1318.4,555.8L1318.8,555.9L1319.3,556.1L1319.8,556.2L1320.3,556.3L1320.7,556.5L1321.2,556.6L1321.7,556.7L1322.2,556.9L1322.6,557.0L1323.1,557.1L1323.6,557.1L1324.0,557.1L1324.5,556.9L1325.0,556.6L1325.5,556.2L1325.9,555.8L1326.4,555.5L1326.9,555.1L1327.4,554.7L1327.8,554.4L1328.3,554.0L1328.8,553.6L1329.2,553.2L1329.7,552.9L1330.2,552.5L1330.7,552.1L1331.1,551.8L1331.6,551.4L1332.1,551.0L1332.5,550.6L1333.0,550.3L1333.5,549.9L1334.0,549.5L1334.4,549.2L1334.9,548.8L1335.4,548.4L1335.9,548.1L1336.3,547.8L1336.8,547.6L1337.3,547.5L1337.7,547.5L1338.2,547.7L1338.7,547.8L1339.2,547.9L1339.6,548.0L1340.1,548.2L1340.6,548.3L1341.1,548.4L1341.5,548.6L1342.0,548.7L1342.5,548.9L1342.9,549.0L1343.4,549.1L1343.9,549.3L1344.4,549.4L1344.8,549.5L1345.3,549.7L1345.8,549.8L1346.3,549.9L1346.7,550.0L1347.2,550.1L1347.7,550.0L1348.1,549.8L1348.6,549.5L1349.1,549.2L1349.6,548.8L1350.0,548.5L1350.5,548.1L1351.0,547.7L1351.5,547.4L1351.9,547.0L1352.4,546.6L1352.9,546.3L1353.3,545.9L1353.8,545.5L1354.3,545.2L1354.8,544.8L1355.2,544.4L1355.7,544.1L1356.2,543.7L1356.6,543.3L1357.1,543.0L1357.6,542.6L1358.1,542.2L1358.5,541.9L1359.0,541.5L1359.5,541.2L1360.0,540.8L1360.4,540.6L1360.9,540.6L1361.4,540.6L1361.8,540.7L1362.3,540.9L1362.8,541.0L1363.3,541.1L1363.7,541.3L1364.2,541.4L1364.7,541.5L1365.2,541.7L1365.6,541.8L1366.1,541.9L1366.6,542.1L1367.0,542.2L1367.5,542.4L1368.0,542.5L1368.5,542.6L1368.9,542.8L1369.4,542.9L1369.9,543.0L1370.4,543.1L1370.8,543.2L1371.3,543.2L1371.8,543.0L1372.2,542.7L1372.7,542.3L1373.2,542.0L1373.7,541.6L1374.1,541.2L1374.6,540.9L1375.1,540.5L1375.5,540.1L1376.0,539.8L1376.5,539.4L1377.0,539.1L1377.4,538.7L1377.9,538.3L1378.4,538.0L1378.9,537.6L1379.3,537.2L1379.8,536.9L1380.3,536.5L1380.7,536.2L1381.2,535.8L1381.7,535.4L1382.2,535.1L1382.6,534.7L1383.1,534.4L1383.6,534.1L1384.1,533.9L1384.5,533.8L1385.0,533.8L1385.5,533.9L1385.9,534.1L1386.4,534.2L1386.9,534.3L1387.4,534.5L1387.8,534.6L1388.3,534.8L1388.8,534.9L1389.2,535.0L1389.7,535.2L1390.2,535.3L1390.7,535.5L1391.1,535.6L1391.6,535.7L1392.1,535.9L1392.6,536.0L1393.0,536.1L1393.5,536.3L1394.0,536.4L1394.4,536.5L1394.9,536.4L1395.4,536.2L1395.9,535.9L1396.3,535.6L1396.8,535.2L1397.3,534.9L1397.8,534.5L1398.2,534.2L1398.7,533.8L1399.2,533.5L1399.6,533.1L1400.1,532.7L1400.6,532.4L1401.1,532.0L1401.5,531.7L1402.0,531.3L1402.5,530.9L1403.0,530.6L1403.4,530.2L1403.9,529.9L1404.4,529.5L1404.8,529.2L1405.3,528.8L1405.8,528.4L1406.3,528.1L1406.7,527.8L1407.2,527.4L1407.7,527.2L1408.2,527.2L1408.6,527.2L1409.1,527.3L1409.6,527.4L1410.0,527.6L1410.5,527.7L1411.0,527.9L1411.5,528.0L1411.9,528.1L1412.4,528.3L1412.9,528.4L1413.3,528.6L1413.8,528.7L1414.3,528.8L1414.8,529.0L1415.2,529.1L1415.7,529.3L1416.2,529.4L1416.7,529.5L1417.1,529.7L1417.6,529.8L1418.1,529.9L1418.5,529.8L1419.0,529.6L1419.5,529.4L1420.0,529.0L1420.4,528.7L1420.9,528.3L1421.4,528.0L1421.9,527.6L1422.3,527.3L1422.8,526.9L1423.3,526.6L1423.7,526.2L1424.2,525.8L1424.7,525.5L1425.2,525.1L1425.6,524.8L1426.1,524.4L1426.6,524.1L1427.0,523.7L1427.5,523.4L1428.0,523.0L1428.5,522.7L1428.9,522.3L1429.4,522.0L1429.9,521.6L1430.4,521.3L1430.8,521.0L1431.3,520.8L1431.8,520.7L1432.2,520.7L1432.7,520.8L1433.2,521.0L1433.7,521.1L1434.1,521.2L1434.6,521.4L1435.1,521.5L1435.6,521.7L1436.0,521.8L1436.5,521.9L1437.0,522.1L1437.4,522.2L1437.9,522.4L1438.4,522.5L1438.9,522.7L1439.3,522.8L1439.8,522.9L1440.3,523.1L1440.8,523.2L1441.2,523.3L1441.7,523.4L1442.2,523.4L1442.6,523.2L1443.1,522.9L1443.6,522.6L1444.1,522.3L1444.5,521.9L1445.0,521.6L1445.5,521.2L1446.0,520.9L1446.4,520.5L1446.9,520.2L1447.4,519.8L1447.8,519.5L1448.3,519.1L1448.8,518.8L1449.3,518.4L1449.7,518.1L1450.2,517.7L1450.7,517.4L1451.1,517.0L1451.6,516.7L1452.1,516.3L1452.6,516.0L1453.0,515.6L1453.5,515.3L1454.0,514.9L1454.5,514.6L1454.9,514.4L1455.4,514.3L1455.9,514.4L1456.3,514.5L1456.8,514.6L1457.3,514.8L1457.8,514.9L1458.2,515.1L1458.7,515.2L1459.2,515.3L1459.7,515.5L1460.1,515.6L1460.6,515.8L1461.1,515.9L1461.5,516.0L1462.0,516.2L1462.5,516.3L1463.0,516.5L1463.4,516.6L1463.9,516.8L1464.4,516.9L1464.9,517.0L1465.3,517.1L1465.8,517.1L1466.3,516.9L1466.7,516.6L1467.2,516.3L1467.7,516.0L1468.2,515.6L1468.6,515.3L1469.1,514.9L1469.6,514.6L1470.0,514.3L1470.5,513.9L1471.0,513.6L1471.5,513.2L1471.9,512.9L1472.4,512.5L1472.9,512.2L1473.4,511.8L1473.8,511.5L1474.3,511.1L1474.8,510.8L1475.2,510.4L1475.7,510.1L1476.2,509.8L1476.7,509.4L1477.1,509.1L1477.6,508.7L1478.1,508.4L1478.6,508.2L1479.0,508.1L1479.5,508.2L1480.0,508.3L1480.4,508.4L1480.9,508.6L1481.4,508.7L1481.9,508.9L1482.3,509.0L1482.8,509.1L1483.3,509.3L1483.8,509.4L1484.2,509.6L1484.7,509.7L1485.2,509.9L1485.6,510.0L1486.1,510.2L1486.6,510.3L1487.1,510.4L1487.5,510.6L1488.0,510.7L1488.5,510.8L1488.9,510.9L1489.4,510.9L1489.9,510.8L1490.4,510.5L1490.8,510.2L1491.3,509.8L1491.8,509.5L1492.3,509.2L1492.7,508.8L1493.2,508.5L1493.7,508.1L1494.1,507.8L1494.6,507.5L1495.1,507.1L1495.6,506.8L1496.0,506.4L1496.5,506.1L1497.0,505.7L1497.5,505.4L1497.9,505.1L1498.4,504.7L1498.9,504.4L1499.3,504.0L1499.8,503.7L1500.3,503.4L1500.8,503.0L1501.2,502.7L1501.7,502.4L1502.2,502.2L1502.7,502.1L1503.1,502.1L1503.6,502.2L1504.1,502.4L1504.5,502.5L1505.0,502.7L1505.5,502.8L1506.0,503.0L1506.4,503.1L1506.9,503.2L1507.4,503.4L1507.8,503.5L1508.3,503.7L1508.8,503.8L1509.3,504.0L1509.7,504.1L1510.2,504.3L1510.7,504.4L1511.2,504.5L1511.6,504.7L1512.1,504.8L1512.6,504.9L1513.0,504.9L1513.5,504.8L1514.0,504.5L1514.5,504.2L1514.9,503.9L1515.4,503.5L1515.9,503.2L1516.4,502.8L1516.8,502.5L1517.3,502.2L1517.8,501.8L1518.2,501.5L1518.7,501.1L1519.2,500.8L1519.7,500.5L1520.1,500.1L1520.6,499.8L1521.1,499.5L1521.5,499.1L1522.0,498.8L1522.5,498.4L1523.0,498.1L1523.4,497.8L1523.9,497.4L1524.4,497.1L1524.9,496.8L1525.3,496.5L1525.8,496.3L1526.3,496.2L1526.7,496.2L1527.2,496.3L1527.7,496.5L1528.2,496.6L1528.6,496.8L1529.1,496.9L1529.6,497.0L1530.1,497.2L1530.5,497.3L1531.0,497.5L1531.5,497.6L1531.9,497.8L1532.4,497.9L1532.9,498.1L1533.4,498.2L1533.8,498.4L1534.3,498.5L1534.8,498.7L1535.3,498.8L1535.7,498.9L1536.2,499.0L1536.7,499.0L1537.1,498.9L1537.6,498.6L1538.1,498.3L1538.6,498.0L1539.0,497.7L1539.5,497.3L1540.0,497.0L1540.5,496.7L1540.9,496.3L1541.4,496.0L1541.9,495.7L1542.3,495.3L1542.8,495.0L1543.3,494.7L1543.8,494.3L1544.2,494.0L1544.7,493.7L1545.2,493.3L1545.6,493.0L1546.1,492.7L1546.6,492.3L1547.1,492.0L1547.5,491.7L1548.0,491.3L1548.5,491.0L1549.0,490.7L1549.4,490.5L1549.9,490.4L1550.4,490.4L1550.8,490.6L1551.3,490.7L1551.8,490.8L1552.3,491.0L1552.7,491.1L1553.2,491.3L1553.7,491.4L1554.2,491.6L1554.6,491.7L1555.1,491.9L1555.6,492.0L1556.0,492.2L1556.5,492.3L1557.0,492.5L1557.5,492.6L1557.9,492.8L1558.4,492.9L1558.9,493.0L1559.4,493.2L1559.8,493.3L1560.3,493.3L1560.8,493.1L1561.2,492.9L1561.7,492.6L1562.2,492.3L1562.7,491.9L1563.1,491.6L1563.6,491.3L1564.1,491.0L1564.5,490.6L1565.0,490.3L1565.5,490.0L1566.0,489.6L1566.4,489.3L1566.9,489.0L1567.4,488.6L1567.9,488.3L1568.3,488.0L1568.8,487.7L1569.3,487.3L1569.7,487.0L1570.2,486.7L1570.7,486.3L1571.2,486.0L1571.6,485.7L1572.1,485.4L1572.6,485.1L1573.1,484.9L1573.5,484.8L1574.0,484.8L1574.5,484.9L1574.9,485.0L1575.4,485.2L1575.9,485.3L1576.4,485.5L1576.8,485.6L1577.3,485.8L1577.8,485.9L1578.2,486.1L1578.7,486.2L1579.2,486.4L1579.7,486.5L1580.1,486.7L1580.6,486.8L1581.1,487.0L1581.6,487.1L1582.0,487.3L1582.5,487.4L1583.0,487.5L1583.4,487.6L1583.9,487.7L1584.4,487.5L1584.9,487.3L1585.3,487.0L1585.8,486.7L1586.3,486.4L1586.8,486.0L1587.2,485.7L1587.7,485.4L1588.2,485.1L1588.6,484.7L1589.1,484.4L1589.6,484.1L1590.1,483.8L1590.5,483.4L1591.0,483.1L1591.5,482.8L1592.0,482.4L1592.4,482.1L1592.9,481.8L1593.4,481.5L1593.8,481.1L1594.3,480.8L1594.8,480.5L1595.3,480.2L1595.7,479.9L1596.2,479.6L1596.7,479.4L1597.2,479.3L1597.6,479.3L1598.1,479.4L1598.6,479.5L1599.0,479.7L1599.5,479.8L1600.0,480.0L1600.5,480.1L1600.9,480.3L1601.4,480.4L1601.9,480.6L1602.3,480.7L1602.8,480.9L1603.3,481.0L1603.8,481.2L1604.2,481.3L1604.7,481.5L1605.2,481.6L1605.7,481.8L1606.1,481.9L1606.6,482.1L1607.1,482.2L1607.5,482.2L1608.0,482.1L1608.5,481.8L1609.0,481.5L1609.4,481.2L1609.9,480.9L1610.4,480.6L1610.9,480.3L1611.3,479.9L1611.8,479.6L1612.3,479.3L1612.7,479.0L1613.2,478.7L1613.7,478.3L1614.2,478.0L1614.6,477.7L1615.1,477.4L1615.6,477.0L1616.0,476.7L1616.5,476.4L1617.0,476.1L1617.5,475.8L1617.9,475.4L1618.4,475.1L1618.9,474.8L1619.4,474.5L1619.8,474.2L1620.3,474.0L1620.8,473.9L1621.2,473.9L1621.7,474.0L1622.2,474.2L1622.7,474.3L1623.1,474.5L1623.6,474.6L1624.1,474.8L1624.6,474.9L1625.0,475.1L1625.5,475.2L1626.0,475.4L1626.4,475.5L1626.9,475.7L1627.4,475.8L1627.9,476.0L1628.3,476.1L1628.8,476.3L1629.3,476.4L1629.8,476.6L1630.2,476.7L1630.7,476.8L1631.2,476.8L1631.6,476.7L1632.1,476.5L1632.6,476.2L1633.1,475.9L1633.5,475.6L1634.0,475.3L1634.5,475.0L1635.0,474.6L1635.4,474.3L1635.9,474.0L1636.4,473.7L1636.8,473.4L1637.3,473.1L1637.8,472.7L1638.3,472.4L1638.7,472.1L1639.2,471.8L1639.7,471.5L1640.1,471.1L1640.6,470.8L1641.1,470.5L1641.6,470.2L1642.0,469.9L1642.5,469.6L1643.0,469.3L1643.5,469.0L1643.9,468.8L1644.4,468.7L1644.9,468.7L1645.3,468.8L1645.8,468.9L1646.3,469.1L1646.8,469.2L1647.2,469.4L1647.7,469.5L1648.2,469.7L1648.7,469.8L1649.1,470.0L1649.6,470.1L1650.1,470.3L1650.5,470.5L1651.0,470.6L1651.5,470.8L1652.0,470.9L1652.4,471.1L1652.9,471.2L1653.4,471.4L1653.9,471.5L1654.3,471.6L1654.8,471.6L1655.3,471.5L1655.7,471.3L1656.2,471.0L1656.7,470.7L1657.2,470.4L1657.6,470.1L1658.1,469.8L1658.6,469.5L1659.0,469.2L1659.5,468.8L1660.0,468.5L1660.5,468.2L1660.9,467.9L1661.4,467.6L1661.9,467.3L1662.4,467.0L1662.8,466.6L1663.3,466.3L1663.8,466.0L1664.2,465.7L1664.7,465.4L1665.2,465.1L1665.7,464.8L1666.1,464.5L1666.6,464.2L1667.1,463.9L1667.6,463.7L1668.0,463.6L1668.5,463.6L1669.0,463.7L1669.4,463.8L1669.9,464.0L1670.4,464.1L1670.9,464.3L1671.3,464.4L1671.8,464.6L1672.3,464.7L1672.8,464.9L1673.2,465.1L1673.7,465.2L1674.2,465.4L1674.6,465.5L1675.1,465.7L1675.6,465.8L1676.1,466.0L1676.5,466.1L1677.0,466.3L1677.5,466.4L1677.9,466.5L1678.4,466.6L1678.9,466.5L1679.4,466.3L1679.8,466.0L1680.3,465.7L1680.8,465.4L1681.3,465.1L1681.7,464.8L1682.2,464.4L1682.7,464.1L1683.1,463.8L1683.6,463.5L1684.1,463.2L1684.6,462.9L1685.0,462.6L1685.5,462.3L1686.0,462.0L1686.5,461.6L1686.9,461.3L1687.4,461.0L1687.9,460.7L1688.3,460.4L1688.8,460.1L1689.3,459.8L1689.8,459.5L1690.2,459.2L1690.7,458.9L1691.2,458.7L1691.7,458.6L1692.1,458.6L1692.6,458.7L1693.1,458.9L1693.5,459.0L1694.0,459.2L1694.5,459.3L1695.0,459.5L1695.4,459.6L1695.9,459.8L1696.4,459.9L1696.8,460.1L1697.3,460.2L1697.8,460.4L1698.3,460.6L1698.7,460.7L1699.2,460.9L1699.7,461.0L1700.2,461.2L1700.6,461.3L1701.1,461.5L1701.6,461.6L1702.0,461.6L1702.5,461.5L1703.0,461.3L1703.5,461.1L1703.9,460.8L1704.4,460.5L1704.9,460.2L1705.4,459.8L1705.8,459.5L1706.3,459.2L1706.8,458.9L1707.2,458.6L1707.7,458.3L1708.2,458.0L1708.7,457.7L1709.1,457.4L1709.6,457.1L1710.1,456.8L1710.5,456.5L1711.0,456.2L1711.5,455.9L1712.0,455.6L1712.4,455.2L1712.9,454.9L1713.4,454.6L1713.9,454.3L1714.3,454.1L1714.8,453.8L1715.3,453.7L1715.7,453.8L1716.2,453.9L1716.7,454.0L1717.2,454.2L1717.6,454.3L1718.1,454.5L1718.6,454.6L1719.1,454.8L1719.5,454.9L1720.0,455.1" fill="none" stroke="#00ff00" stroke-width="7.8" stroke-linecap="square" stroke-linejoin="round"/>
<path d="M302.5,1054.5L303.0,1054.5L303.4,1054.4L303.9,1054.4L304.4,1054.4L304.9,1054.4L305.3,1054.4L305.8,1054.4L306.3,1054.4L306.8,1054.3L307.2,1054.2L307.7,1053.8L308.2,1053.3L308.6,1052.8L309.1,1052.1L309.6,1051.5L310.1,1050.9L310.5,1050.3L311.0,1049.6L311.5,1049.0L311.9,1048.4L312.4,1047.8L312.9,1047.2L313.4,1046.5L313.8,1045.9L314.3,1045.3L314.8,1044.7L315.3,1044.0L315.7,1043.4L316.2,1042.8L316.7,1042.2L317.1,1041.5L317.6,1040.9L318.1,1040.3L318.6,1039.7L319.0,1039.1L319.5,1038.5L320.0,1038.0L320.5,1037.7L320.9,1037.5L321.4,1037.4L321.9,1037.4L322.3,1037.4L322.8,1037.4L323.3,1037.4L323.8,1037.4L324.2,1037.4L324.7,1037.4L325.2,1037.4L325.7,1037.4L326.1,1037.4L326.6,1037.4L327.1,1037.4L327.5,1037.4L328.0,1037.4L328.5,1037.4L329.0,1037.4L329.4,1037.4L329.9,1037.4L330.4,1037.4L330.9,1037.2L331.3,1036.9L331.8,1036.4L332.3,1035.8L332.7,1035.2L333.2,1034.6L333.7,1034.0L334.2,1033.4L334.6,1032.8L335.1,1032.2L335.6,1031.5L336.0,1030.9L336.5,1030.3L337.0,1029.7L337.5,1029.1L337.9,1028.5L338.4,1027.8L338.9,1027.2L339.4,1026.6L339.8,1026.0L340.3,1025.4L340.8,1024.8L341.2,1024.2L341.7,1023.6L342.2,1022.9L342.7,1022.3L343.1,1021.8L343.6,1021.3L344.1,1020.9L344.6,1020.8L345.0,1020.7L345.5,1020.7L346.0,1020.7L346.4,1020.7L346.9,1020.7L347.4,1020.7L347.9,1020.7L348.3,1020.7L348.8,1020.8L349.3,1020.8L349.8,1020.8L350.2,1020.8L350.7,1020.8L351.2,1020.8L351.6,1020.8L352.1,1020.8L352.6,1020.8L353.1,1020.8L353.5,1020.8L354.0,1020.8L354.5,1020.6L354.9,1020.3L355.4,1019.8L355.9,1019.3L356.4,1018.7L356.8,1018.1L357.3,1017.5L357.8,1016.9L358.3,1016.3L358.7,1015.7L359.2,1015.0L359.7,1014.4L360.1,1013.8L360.6,1013.2L361.1,1012.6L361.6,1012.0L362.0,1011.4L362.5,1010.8L363.0,1010.2L363.5,1009.6L363.9,1009.0L364.4,1008.4L364.9,1007.8L365.3,1007.2L365.8,1006.6L366.3,1006.0L366.8,1005.4L367.2,1004.9L367.7,1004.6L368.2,1004.4L368.6,1004.4L369.1,1004.4L369.6,1004.4L370.1,1004.4L370.5,1004.4L371.0,1004.4L371.5,1004.4L372.0,1004.4L372.4,1004.4L372.9,1004.5L373.4,1004.5L373.8,1004.5L374.3,1004.5L374.8,1004.5L375.3,1004.5L375.7,1004.5L376.2,1004.6L376.7,1004.6L377.2,1004.6L377.6,1004.5L378.1,1004.4L378.6,1004.1L379.0,1003.6L379.5,1003.1L380.0,1002.5L380.5,1001.9L380.9,1001.3L381.4,1000.7L381.9,1000.1L382.4,999.5L382.8,998.9L383.3,998.3L383.8,997.7L384.2,997.1L384.7,996.5L385.2,995.9L385.7,995.3L386.1,994.7L386.6,994.1L387.1,993.5L387.6,992.9L388.0,992.3L388.5,991.8L389.0,991.2L389.4,990.6L389.9,990.0L390.4,989.4L390.9,988.9L391.3,988.6L391.8,988.4L392.3,988.4L392.7,988.4L393.2,988.4L393.7,988.4L394.2,988.4L394.6,988.4L395.1,988.5L395.6,988.5L396.1,988.5L396.5,988.5L397.0,988.5L397.5,988.6L397.9,988.6L398.4,988.6L398.9,988.6L399.4,988.6L399.8,988.7L400.3,988.7L400.8,988.7L401.3,988.6L401.7,988.5L402.2,988.2L402.7,987.8L403.1,987.3L403.6,986.7L404.1,986.1L404.6,985.5L405.0,984.9L405.5,984.3L406.0,983.7L406.4,983.1L406.9,982.6L407.4,982.0L407.9,981.4L408.3,980.8L408.8,980.2L409.3,979.6L409.8,979.0L410.2,978.4L410.7,977.8L411.2,977.3L411.6,976.7L412.1,976.1L412.6,975.5L413.1,974.9L413.5,974.3L414.0,973.8L414.5,973.3L415.0,973.0L415.4,972.8L415.9,972.8L416.4,972.8L416.8,972.8L417.3,972.8L417.8,972.8L418.3,972.8L418.7,972.9L419.2,972.9L419.7,972.9L420.2,972.9L420.6,973.0L421.1,973.0L421.6,973.0L422.0,973.0L422.5,973.1L423.0,973.1L423.5,973.1L423.9,973.1L424.4,973.1L424.9,973.1L425.4,973.0L425.8,972.7L426.3,972.3L426.8,971.8L427.2,971.2L427.7,970.6L428.2,970.1L428.7,969.5L429.1,968.9L429.6,968.3L430.1,967.7L430.5,967.1L431.0,966.6L431.5,966.0L432.0,965.4L432.4,964.8L432.9,964.2L433.4,963.7L433.9,963.1L434.3,962.5L434.8,961.9L435.3,961.3L435.7,960.8L436.2,960.2L436.7,959.6L437.2,959.0L437.6,958.5L438.1,958.0L438.6,957.7L439.1,957.5L439.5,957.5L440.0,957.5L440.5,957.5L440.9,957.5L441.4,957.6L441.9,957.6L442.4,957.6L442.8,957.6L443.3,957.7L443.8,957.7L444.2,957.7L444.7,957.8L445.2,957.8L445.7,957.8L446.1,957.9L446.6,957.9L447.1,957.9L447.6,957.9L448.0,958.0L448.5,957.9L449.0,957.8L449.4,957.6L449.9,957.2L450.4,956.6L450.9,956.1L451.3,955.5L451.8,954.9L452.3,954.4L452.8,953.8L453.2,953.2L453.7,952.6L454.2,952.1L454.6,951.5L455.1,950.9L455.6,950.4L456.1,949.8L456.5,949.2L457.0,948.6L457.5,948.1L458.0,947.5L458.4,946.9L458.9,946.3L459.4,945.8L459.8,945.2L460.3,944.6L460.8,944.1L461.3,943.5L461.7,943.1L462.2,942.7L462.7,942.6L463.1,942.5L463.6,942.5L464.1,942.6L464.6,942.6L465.0,942.6L465.5,942.7L466.0,942.7L466.5,942.7L466.9,942.8L467.4,942.8L467.9,942.8L468.3,942.9L468.8,942.9L469.3,943.0L469.8,943.0L470.2,943.0L470.7,943.1L471.2,943.1L471.7,943.1L472.1,943.1L472.6,943.0L473.1,942.8L473.5,942.4L474.0,941.8L474.5,941.3L475.0,940.7L475.4,940.2L475.9,939.6L476.4,939.0L476.9,938.5L477.3,937.9L477.8,937.3L478.3,936.8L478.7,936.2L479.2,935.6L479.7,935.1L480.2,934.5L480.6,933.9L481.1,933.4L481.6,932.8L482.1,932.3L482.5,931.7L483.0,931.1L483.5,930.6L483.9,930.0L484.4,929.5L484.9,928.9L485.4,928.4L485.8,928.1L486.3,928.0L486.8,927.9L487.2,927.9L487.7,928.0L488.2,928.0L488.7,928.0L489.1,928.1L489.6,928.1L490.1,928.2L490.6,928.2L491.0,928.2L491.5,928.3L492.0,928.3L492.4,928.4L492.9,928.4L493.4,928.4L493.9,928.5L494.3,928.5L494.8,928.6L495.3,928.6L495.8,928.6L496.2,928.5L496.7,928.3L497.2,927.9L497.6,927.4L498.1,926.8L498.6,926.3L499.1,925.7L499.5,925.2L500.0,924.6L500.5,924.1L501.0,923.5L501.4,922.9L501.9,922.4L502.4,921.8L502.8,921.3L503.3,920.7L503.8,920.2L504.3,919.6L504.7,919.0L505.2,918.5L505.7,917.9L506.1,917.4L506.6,916.8L507.1,916.3L507.6,915.7L508.0,915.2L508.5,914.6L509.0,914.2L509.5,913.8L509.9,913.7L510.4,913.6L510.9,913.7L511.3,913.7L511.8,913.7L512.3,913.8L512.8,913.8L513.2,913.9L513.7,913.9L514.2,914.0L514.7,914.0L515.1,914.1L515.6,914.1L516.1,914.1L516.5,914.2L517.0,914.2L517.5,914.3L518.0,914.3L518.4,914.4L518.9,914.4L519.4,914.4L519.9,914.3L520.3,914.1L520.8,913.7L521.3,913.2L521.7,912.7L522.2,912.2L522.7,911.6L523.2,911.1L523.6,910.5L524.1,910.0L524.6,909.4L525.0,908.9L525.5,908.3L526.0,907.8L526.5,907.2L526.9,906.7L527.4,906.1L527.9,905.6L528.4,905.0L528.8,904.5L529.3,903.9L529.8,903.4L530.2,902.8L530.7,902.3L531.2,901.7L531.7,901.2L532.1,900.7L532.6,900.2L533.1,899.9L533.6,899.7L534.0,899.7L534.5,899.7L535.0,899.7L535.4,899.8L535.9,899.8L536.4,899.9L536.9,899.9L537.3,900.0L537.8,900.0L538.3,900.1L538.8,900.1L539.2,900.2L539.7,900.2L540.2,900.3L540.6,900.3L541.1,900.4L541.6,900.4L542.1,900.5L542.5,900.5L543.0,900.5L543.5,900.5L543.9,900.3L544.4,899.9L544.9,899.4L545.4,898.9L545.8,898.4L546.3,897.8L546.8,897.3L547.3,896.7L547.7,896.2L548.2,895.6L548.7,895.1L549.1,894.6L549.6,894.0L550.1,893.5L550.6,892.9L551.0,892.4L551.5,891.8L552.0,891.3L552.5,890.8L552.9,890.2L553.4,889.7L553.9,889.1L554.3,888.6L554.8,888.1L555.3,887.5L555.8,887.0L556.2,886.6L556.7,886.2L557.2,886.1L557.6,886.0L558.1,886.1L558.6,886.1L559.1,886.2L559.5,886.2L560.0,886.3L560.5,886.3L561.0,886.4L561.4,886.4L561.9,886.5L562.4,886.5L562.8,886.6L563.3,886.7L563.8,886.7L564.3,886.8L564.7,886.8L565.2,886.9L565.7,886.9L566.2,887.0L566.6,887.0L567.1,886.9L567.6,886.8L568.0,886.4L568.5,885.9L569.0,885.4L569.5,884.9L569.9,884.3L570.4,883.8L570.9,883.3L571.4,882.7L571.8,882.2L572.3,881.7L572.8,881.1L573.2,880.6L573.7,880.0L574.2,879.5L574.7,879.0L575.1,878.4L575.6,877.9L576.1,877.4L576.5,876.8L577.0,876.3L577.5,875.8L578.0,875.2L578.4,874.7L578.9,874.2L579.4,873.7L579.9,873.2L580.3,872.9L580.8,872.7L581.3,872.7L581.7,872.7L582.2,872.8L582.7,872.8L583.2,872.9L583.6,873.0L584.1,873.0L584.6,873.1L585.1,873.1L585.5,873.2L586.0,873.3L586.5,873.3L586.9,873.4L587.4,873.4L587.9,873.5L588.4,873.6L588.8,873.6L589.3,873.7L589.8,873.7L590.3,873.7L590.7,873.7L591.2,873.5L591.7,873.2L592.1,872.7L592.6,872.2L593.1,871.7L593.6,871.2L594.0,870.6L594.5,870.1L595.0,869.6L595.5,869.0L595.9,868.5L596.4,868.0L596.9,867.5L597.3,866.9L597.8,866.4L598.3,865.9L598.8,865.3L599.2,864.8L599.7,864.3L600.2,863.8L600.6,863.2L601.1,862.7L601.6,862.2L602.1,861.7L602.5,861.1L603.0,860.6L603.5,860.2L604.0,859.9L604.4,859.7L604.9,859.7L605.4,859.7L605.8,859.8L606.3,859.8L606.8,859.9L607.3,860.0L607.7,860.0L608.2,860.1L608.7,860.2L609.2,860.2L609.6,860.3L610.1,860.3L610.6,860.4L611.0,860.5L611.5,860.5L612.0,860.6L612.5,860.7L612.9,860.7L613.4,860.8L613.9,860.8L614.4,860.8L614.8,860.6L615.3,860.3L615.8,859.8L616.2,859.3L616.7,858.8L617.2,858.3L617.7,857.8L618.1,857.2L618.6,856.7L619.1,856.2L619.5,855.7L620.0,855.2L620.5,854.6L621.0,854.1L621.4,853.6L621.9,853.1L622.4,852.5L622.9,852.0L623.3,851.5L623.8,851.0L624.3,850.5L624.7,850.0L625.2,849.4L625.7,848.9L626.2,848.4L626.6,847.9L627.1,847.5L627.6,847.1L628.1,847.0L628.5,847.0L629.0,847.0L629.5,847.0L629.9,847.1L630.4,847.2L630.9,847.2L631.4,847.3L631.8,847.4L632.3,847.5L632.8,847.5L633.2,847.6L633.7,847.7L634.2,847.7L634.7,847.8L635.1,847.9L635.6,847.9L636.1,848.0L636.6,848.1L637.0,848.1L637.5,848.2L638.0,848.1L638.4,848.0L638.9,847.7L639.4,847.2L639.9,846.7L640.3,846.2L640.8,845.7L641.3,845.2L641.8,844.7L642.2,844.2L642.7,843.6L643.2,843.1L643.6,842.6L644.1,842.1L644.6,841.6L645.1,841.1L645.5,840.6L646.0,840.0L646.5,839.5L647.0,839.0L647.4,838.5L647.9,838.0L648.4,837.5L648.8,837.0L649.3,836.5L649.8,836.0L650.3,835.5L650.7,835.0L651.2,834.7L651.7,834.5L652.2,834.5L652.6,834.6L653.1,834.6L653.6,834.7L654.0,834.8L654.5,834.8L655.0,834.9L655.5,835.0L655.9,835.1L656.4,835.1L656.9,835.2L657.3,835.3L657.8,835.3L658.3,835.4L658.8,835.5L659.2,835.6L659.7,835.6L660.2,835.7L660.7,835.8L661.1,835.8L661.6,835.8L662.1,835.6L662.5,835.3L663.0,834.9L663.5,834.4L664.0,833.9L664.4,833.4L664.9,832.9L665.4,832.4L665.9,831.9L666.3,831.4L666.8,830.9L667.3,830.4L667.7,829.9L668.2,829.3L668.7,828.8L669.2,828.3L669.6,827.8L670.1,827.3L670.6,826.8L671.0,826.3L671.5,825.8L672.0,825.3L672.5,824.8L672.9,824.3L673.4,823.8L673.9,823.3L674.4,822.9L674.8,822.5L675.3,822.4L675.8,822.4L676.2,822.4L676.7,822.5L677.2,822.5L677.7,822.6L678.1,822.7L678.6,822.8L679.1,822.9L679.6,822.9L680.0,823.0L680.5,823.1L681.0,823.2L681.4,823.2L681.9,823.3L682.4,823.4L682.9,823.5L683.3,823.5L683.8,823.6L684.3,823.7L684.8,823.7L685.2,823.7L685.7,823.6L686.2,823.3L686.6,822.9L687.1,822.4L687.6,821.9L688.1,821.4L688.5,820.9L689.0,820.4L689.5,819.9L690.0,819.4L690.4,818.9L690.9,818.4L691.4,817.9L691.8,817.4L692.3,816.9L692.8,816.4L693.3,815.9L693.7,815.4L694.2,814.9L694.7,814.4L695.1,813.9L695.6,813.4L696.1,812.9L696.6,812.4L697.0,811.9L697.5,811.4L698.0,811.0L698.5,810.7L698.9,810.5L699.4,810.5L699.9,810.5L700.3,810.6L700.8,810.7L701.3,810.8L701.8,810.8L702.2,810.9L702.7,811.0L703.2,811.1L703.7,811.2L704.1,811.3L704.6,811.3L705.1,811.4L705.5,811.5L706.0,811.6L706.5,811.7L707.0,811.7L707.4,811.8L707.9,811.9L708.4,811.9L708.8,811.9L709.3,811.8L709.8,811.5L710.3,811.1L710.7,810.6L711.2,810.2L711.7,809.7L712.2,809.2L712.6,808.7L713.1,808.2L713.6,807.7L714.0,807.2L714.5,806.7L715.0,806.2L715.5,805.7L715.9,805.2L716.4,804.7L716.9,804.2L717.4,803.7L717.8,803.2L718.3,802.8L718.8,802.3L719.2,801.8L719.7,801.3L720.2,800.8L720.7,800.3L721.1,799.8L721.6,799.4L722.1,799.1L722.6,798.9L723.0,798.9L723.5,799.0L724.0,799.0L724.4,799.1L724.9,799.2L725.4,799.3L725.9,799.4L726.3,799.4L726.8,799.5L727.3,799.6L727.8,799.7L728.2,799.8L728.7,799.9L729.2,800.0L729.6,800.0L730.1,800.1L730.6,800.2L731.1,800.3L731.5,800.4L732.0,800.4L732.5,800.4L732.9,800.3L733.4,800.0L733.9,799.6L734.4,799.2L734.8,798.7L735.3,798.2L735.8,797.7L736.3,797.2L736.7,796.7L737.2,796.3L737.7,795.8L738.1,795.3L738.6,794.8L739.1,794.3L739.6,793.8L740.0,793.3L740.5,792.8L741.0,792.4L741.5,791.9L741.9,791.4L742.4,790.9L742.9,790.4L743.3,789.9L743.8,789.5L744.3,789.0L744.8,788.5L745.2,788.1L745.7,787.8L746.2,787.6L746.7,787.6L747.1,787.6L747.6,787.7L748.1,787.8L748.5,787.9L749.0,788.0L749.5,788.1L750.0,788.1L750.4,788.2L750.9,788.3L751.4,788.4L751.8,788.5L752.3,788.6L752.8,788.7L753.3,788.8L753.7,788.9L754.2,788.9L754.7,789.0L755.2,789.1L755.6,789.2L756.1,789.2L756.6,789.1L757.0,788.8L757.5,788.4L758.0,788.0L758.5,787.5L758.9,787.0L759.4,786.5L759.9,786.0L760.4,785.6L760.8,785.1L761.3,784.6L761.8,784.1L762.2,783.6L762.7,783.2L763.2,782.7L763.7,782.2L764.1,781.7L764.6,781.2L765.1,780.8L765.5,780.3L766.0,779.8L766.5,779.3L767.0,778.9L767.4,778.4L767.9,777.9L768.4,777.4L768.9,777.0L769.3,776.7L769.8,776.5L770.3,776.5L770.7,776.6L771.2,776.7L771.7,776.7L772.2,776.8L772.6,776.9L773.1,777.0L773.6,777.1L774.1,777.2L774.5,777.3L775.0,777.4L775.5,777.5L775.9,777.6L776.4,777.7L776.9,777.8L777.4,777.8L777.8,777.9L778.3,778.0L778.8,778.1L779.3,778.2L779.7,778.2L780.2,778.1L780.7,777.8L781.1,777.5L781.6,777.0L782.1,776.5L782.6,776.1L783.0,775.6L783.5,775.1L784.0,774.7L784.5,774.2L784.9,773.7L785.4,773.2L785.9,772.8L786.3,772.3L786.8,771.8L787.3,771.3L787.8,770.9L788.2,770.4L788.7,769.9L789.2,769.4L789.6,769.0L790.1,768.5L790.6,768.0L791.1,767.6L791.5,767.1L792.0,766.6L792.5,766.2L793.0,765.9L793.4,765.7L793.9,765.7L794.4,765.8L794.8,765.9L795.3,765.9L795.8,766.0L796.3,766.1L796.7,766.2L797.2,766.3L797.7,766.4L798.2,766.5L798.6,766.6L799.1,766.7L799.6,766.8L800.0,766.9L800.5,767.0L801.0,767.1L801.5,767.2L801.9,767.3L802.4,767.4L802.9,767.5L803.3,767.5L803.8,767.4L804.3,767.1L804.8,766.8L805.2,766.3L805.7,765.9L806.2,765.4L806.7,764.9L807.1,764.5L807.6,764.0L808.1,763.5L808.5,763.1L809.0,762.6L809.5,762.1L810.0,761.7L810.4,761.2L810.9,760.7L811.4,760.3L811.9,759.8L812.3,759.3L812.8,758.9L813.3,758.4L813.7,757.9L814.2,757.5L814.7,757.0L815.2,756.5L815.6,756.1L816.1,755.7L816.6,755.3L817.1,755.2L817.5,755.2L818.0,755.2L818.5,755.3L818.9,755.4L819.4,755.5L819.9,755.6L820.4,755.7L820.8,755.8L821.3,755.9L821.8,756.0L822.2,756.1L822.7,756.2L823.2,756.3L823.7,756.4L824.1,756.5L824.6,756.6L825.1,756.7L825.6,756.8L826.0,756.9L826.5,757.0L827.0,757.0L827.4,756.9L827.9,756.7L828.4,756.3L828.9,755.9L829.3,755.4L829.8,755.0L830.3,754.5L830.8,754.0L831.2,753.6L831.7,753.1L832.2,752.7L832.6,752.2L833.1,751.7L833.6,751.3L834.1,750.8L834.5,750.4L835.0,749.9L835.5,749.4L836.0,749.0L836.4,748.5L836.9,748.1L837.4,747.6L837.8,747.1L838.3,746.7L838.8,746.2L839.3,745.8L839.7,745.4L840.2,745.1L840.7,744.9L841.1,744.9L841.6,744.9L842.1,745.0L842.6,745.1L843.0,745.2L843.5,745.3L844.0,745.4L844.5,745.5L844.9,745.6L845.4,745.7L845.9,745.8L846.3,745.9L846.8,746.0L847.3,746.1L847.8,746.3L848.2,746.4L848.7,746.5L849.2,746.6L849.7,746.7L850.1,746.7L850.6,746.8L851.1,746.7L851.5,746.5L852.0,746.1L852.5,745.7L853.0,745.2L853.4,744.8L853.9,744.3L854.4,743.9L854.9,743.4L855.3,743.0L855.8,742.5L856.3,742.1L856.7,741.6L857.2,741.2L857.7,740.7L858.2,740.2L858.6,739.8L859.1,739.3L859.6,738.9L860.1,738.4L860.5,738.0L861.0,737.5L861.5,737.1L861.9,736.6L862.4,736.2L862.9,735.7L863.4,735.3L863.8,735.0L864.3,734.8L864.8,734.8L865.2,734.9L865.7,735.0L866.2,735.1L866.7,735.2L867.1,735.3L867.6,735.4L868.1,735.5L868.6,735.6L869.0,735.7L869.5,735.8L870.0,735.9L870.4,736.0L870.9,736.1L871.4,736.2L871.9,736.3L872.3,736.5L872.8,736.6L873.3,736.7L873.8,736.7L874.2,736.8L874.7,736.7L875.2,736.5L875.6,736.2L876.1,735.7L876.6,735.3L877.1,734.9L877.5,734.4L878.0,734.0L878.5,733.5L879.0,733.1L879.4,732.6L879.9,732.2L880.4,731.7L880.8,731.3L881.3,730.8L881.8,730.4L882.3,729.9L882.7,729.5L883.2,729.0L883.7,728.6L884.1,728.1L884.6,727.7L885.1,727.2L885.6,726.8L886.0,726.3L886.5,725.9L887.0,725.5L887.5,725.2L887.9,725.0L888.4,725.0L888.9,725.1L889.3,725.2L889.8,725.3L890.3,725.4L890.8,725.5L891.2,725.6L891.7,725.7L892.2,725.8L892.7,725.9L893.1,726.0L893.6,726.1L894.1,726.2L894.5,726.4L895.0,726.5L895.5,726.6L896.0,726.7L896.4,726.8L896.9,726.9L897.4,727.0L897.9,727.0L898.3,727.0L898.8,726.8L899.3,726.4L899.7,726.0L900.2,725.6L900.7,725.2L901.2,724.7L901.6,724.3L902.1,723.8L902.6,723.4L903.0,722.9L903.5,722.5L904.0,722.0L904.5,721.6L904.9,721.2L905.4,720.7L905.9,720.3L906.4,719.8L906.8,719.4L907.3,718.9L907.8,718.5L908.2,718.1L908.7,717.6L909.2,717.2L909.7,716.7L910.1,716.3L910.6,715.9L911.1,715.6L911.6,715.4L912.0,715.4L912.5,715.5L913.0,715.6L913.4,715.7L913.9,715.8L914.4,715.9L914.9,716.0L915.3,716.1L915.8,716.2L916.3,716.4L916.8,716.5L917.2,716.6L917.7,716.7L918.2,716.8L918.6,716.9L919.1,717.0L919.6,717.2L920.1,717.3L920.5,717.4L921.0,717.5L921.5,717.5L921.9,717.5L922.4,717.3L922.9,716.9L923.4,716.5L923.8,716.1L924.3,715.7L924.8,715.2L925.3,714.8L925.7,714.4L926.2,713.9L926.7,713.5L927.1,713.1L927.6,712.6L928.1,712.2L928.6,711.7L929.0,711.3L929.5,710.9L930.0,710.4L930.5,710.0L930.9,709.6L931.4,709.1L931.9,708.7L932.3,708.3L932.8,707.8L933.3,707.4L933.8,707.0L934.2,706.6L934.7,706.3L935.2,706.1L935.6,706.1L936.1,706.1L936.6,706.2L937.1,706.3L937.5,706.5L938.0,706.6L938.5,706.7L939.0,706.8L939.4,706.9L939.9,707.0L940.4,707.1L940.8,707.3L941.3,707.4L941.8,707.5L942.3,707.6L942.7,707.7L943.2,707.8L943.7,708.0L944.2,708.1L944.6,708.2L945.1,708.2L945.6,708.2L946.0,708.0L946.5,707.7L947.0,707.3L947.5,706.9L947.9,706.4L948.4,706.0L948.9,705.6L949.4,705.1L949.8,704.7L950.3,704.3L950.8,703.8L951.2,703.4L951.7,703.0L952.2,702.5L952.7,702.1L953.1,701.7L953.6,701.3L954.1,700.8L954.6,700.4L955.0,700.0L955.5,699.5L956.0,699.1L956.4,698.7L956.9,698.2L957.4,697.8L957.9,697.4L958.3,697.1L958.8,697.0L959.3,696.9L959.7,697.0L960.2,697.1L960.7,697.2L961.2,697.3L961.6,697.5L962.1,697.6L962.6,697.7L963.1,697.8L963.5,697.9L964.0,698.0L964.5,698.2L964.9,698.3L965.4,698.4L965.9,698.5L966.4,698.6L966.8,698.8L967.3,698.9L967.8,699.0L968.3,699.1L968.7,699.2L969.2,699.1L969.7,699.0L970.1,698.6L970.6,698.3L971.1,697.8L971.6,697.4L972.0,697.0L972.5,696.6L973.0,696.1L973.5,695.7L973.9,695.3L974.4,694.9L974.9,694.4L975.3,694.0L975.8,693.6L976.3,693.1L976.8,692.7L977.2,692.3L977.7,691.9L978.2,691.4L978.6,691.0L979.1,690.6L979.6,690.2L980.1,689.7L980.5,689.3L981.0,688.9L981.5,688.5L982.0,688.2L982.4,688.0L982.9,688.0L983.4,688.1L983.8,688.2L984.3,688.3L984.8,688.4L985.3,688.6L985.7,688.7L986.2,688.8L986.7,688.9L987.2,689.0L987.6,689.2L988.1,689.3L988.6,689.4L989.0,689.5L989.5,689.6L990.0,689.8L990.5,689.9L990.9,690.0L991.4,690.1L991.9,690.2L992.4,690.3L992.8,690.3L993.3,690.1L993.8,689.8L994.2,689.4L994.7,689.0L995.2,688.6L995.7,688.2L996.1,687.8L996.6,687.3L997.1,686.9L997.5,686.5L998.0,686.1L998.5,685.7L999.0,685.2L999.4,684.8L999.9,684.4L1000.4,684.0L1000.9,683.6L1001.3,683.1L1001.8,682.7L1002.3,682.3L1002.7,681.9L1003.2,681.5L1003.7,681.0L1004.2,680.6L1004.6,680.2L1005.1,679.8L1005.6,679.5L1006.1,679.4L1006.5,679.3L1007.0,679.4L1007.5,679.5L1007.9,679.6L1008.4,679.7L1008.9,679.9L1009.4,680.0L1009.8,680.1L1010.3,680.2L1010.8,680.4L1011.2,680.5L1011.7,680.6L1012.2,680.7L1012.7,680.9L1013.1,681.0L1013.6,681.1L1014.1,681.2L1014.6,681.4L1015.0,681.5L1015.5,681.6L1016.0,681.7L1016.4,681.7L1016.9,681.5L1017.4,681.2L1017.9,680.8L1018.3,680.4L1018.8,680.0L1019.3,679.6L1019.8,679.2L1020.2,678.8L1020.7,678.3L1021.2,677.9L1021.6,677.5L1022.1,677.1L1022.6,676.7L1023.1,676.3L1023.5,675.9L1024.0,675.4L1024.5,675.0L1025.0,674.6L1025.4,674.2L1025.9,673.8L1026.4,673.4L1026.8,673.0L1027.3,672.5L1027.8,672.1L1028.3,671.7L1028.7,671.4L1029.2,671.0L1029.7,670.9L1030.2,670.8L1030.6,670.9L1031.1,671.0L1031.6,671.1L1032.0,671.3L1032.5,671.4L1033.0,671.5L1033.5,671.6L1033.9,671.8L1034.4,671.9L1034.9,672.0L1035.3,672.2L1035.8,672.3L1036.3,672.4L1036.8,672.5L1037.2,672.7L1037.7,672.8L1038.2,672.9L1038.7,673.0L1039.1,673.2L1039.6,673.2L1040.1,673.2L1040.5,673.1L1041.0,672.8L1041.5,672.4L1042.0,672.0L1042.4,671.6L1042.9,671.2L1043.4,670.8L1043.9,670.4L1044.3,670.0L1044.8,669.6L1045.3,669.2L1045.7,668.8L1046.2,668.3L1046.7,667.9L1047.2,667.5L1047.6,667.1L1048.1,666.7L1048.6,666.3L1049.1,665.9L1049.5,665.5L1050.0,665.1L1050.5,664.7L1050.9,664.3L1051.4,663.8L1051.9,663.5L1052.4,663.1L1052.8,662.8L1053.3,662.6L1053.8,662.6L1054.2,662.6L1054.7,662.7L1055.2,662.9L1055.7,663.0L1056.1,663.1L1056.6,663.3L1057.1,663.4L1057.6,663.5L1058.0,663.6L1058.5,663.8L1059.0,663.9L1059.4,664.0L1059.9,664.2L1060.4,664.3L1060.9,664.4L1061.3,664.6L1061.8,664.7L1062.3,664.8L1062.8,664.9L1063.2,665.0L1063.7,665.0L1064.2,664.9L1064.6,664.6L1065.1,664.2L1065.6,663.8L1066.1,663.4L1066.5,663.0L1067.0,662.6L1067.5,662.2L1067.9,661.8L1068.4,661.4L1068.9,661.0L1069.4,660.6L1069.8,660.2L1070.3,659.8L1070.8,659.4L1071.3,659.0L1071.7,658.6L1072.2,658.2L1072.7,657.8L1073.1,657.4L1073.6,657.0L1074.1,656.6L1074.6,656.2L1075.0,655.8L1075.5,655.4L1076.0,655.0L1076.5,654.7L1076.9,654.5L1077.4,654.5L1077.9,654.6L1078.3,654.7L1078.8,654.8L1079.3,654.9L1079.8,655.1L1080.2,655.2L1080.7,655.3L1081.2,655.5L1081.7,655.6L1082.1,655.7L1082.6,655.9L1083.1,656.0L1083.5,656.1L1084.0,656.3L1084.5,656.4L1085.0,656.5L1085.4,656.6L1085.9,656.8L1086.4,656.9L1086.8,657.0L1087.3,657.0L1087.8,656.9L1088.3,656.6L1088.7,656.2L1089.2,655.9L1089.7,655.5L1090.2,655.1L1090.6,654.7L1091.1,654.3L1091.6,653.9L1092.0,653.5L1092.5,653.1L1093.0,652.7L1093.5,652.3L1093.9,651.9L1094.4,651.5L1094.9,651.1L1095.4,650.7L1095.8,650.3L1096.3,649.9L1096.8,649.5L1097.2,649.1L1097.7,648.7L1098.2,648.3L1098.7,647.9L1099.1,647.5L1099.6,647.1L1100.1,646.8L1100.6,646.6L1101.0,646.6L1101.5,646.7L1102.0,646.8L1102.4,646.9L1102.9,647.1L1103.4,647.2L1103.9,647.3L1104.3,647.5L1104.8,647.6L1105.3,647.7L1105.8,647.9L1106.2,648.0L1106.7,648.1L1107.2,648.3L1107.6,648.4L1108.1,648.5L1108.6,648.7L1109.1,648.8L1109.5,648.9L1110.0,649.1L1110.5,649.2L1110.9,649.2L1111.4,649.1L1111.9,648.8L1112.4,648.4L1112.8,648.1L1113.3,647.7L1113.8,647.3L1114.3,646.9L1114.7,646.5L1115.2,646.1L1115.7,645.7L1116.1,645.3L1116.6,644.9L1117.1,644.5L1117.6,644.1L1118.0,643.7L1118.5,643.3L1119.0,642.9L1119.5,642.5L1119.9,642.2L1120.4,641.8L1120.9,641.4L1121.3,641.0L1121.8,640.6L1122.3,640.2L1122.8,639.8L1123.2,639.4L1123.7,639.1L1124.2,639.0L1124.7,638.9L1125.1,639.0L1125.6,639.1L1126.1,639.2L1126.5,639.4L1127.0,639.5L1127.5,639.7L1128.0,639.8L1128.4,639.9L1128.9,640.1L1129.4,640.2L1129.8,640.3L1130.3,640.5L1130.8,640.6L1131.3,640.7L1131.7,640.9L1132.2,641.0L1132.7,641.2L1133.2,641.3L1133.6,641.4L1134.1,641.5L1134.6,641.5L1135.0,641.4L1135.5,641.2L1136.0,640.8L1136.5,640.5L1136.9,640.1L1137.4,639.7L1137.9,639.3L1138.4,638.9L1138.8,638.5L1139.3,638.1L1139.8,637.7L1140.2,637.3L1140.7,637.0L1141.2,636.6L1141.7,636.2L1142.1,635.8L1142.6,635.4L1143.1,635.0L1143.6,634.6L1144.0,634.2L1144.5,633.8L1145.0,633.5L1145.4,633.1L1145.9,632.7L1146.4,632.3L1146.9,631.9L1147.3,631.6L1147.8,631.5L1148.3,631.4L1148.7,631.5L1149.2,631.6L1149.7,631.8L1150.2,631.9L1150.6,632.0L1151.1,632.2L1151.6,632.3L1152.1,632.4L1152.5,632.6L1153.0,632.7L1153.5,632.9L1153.9,633.0L1154.4,633.1L1154.9,633.3L1155.4,633.4L1155.8,633.6L1156.3,633.7L1156.8,633.8L1157.3,634.0L1157.7,634.1L1158.2,634.1L1158.7,634.0L1159.1,633.7L1159.6,633.4L1160.1,633.0L1160.6,632.7L1161.0,632.3L1161.5,631.9L1162.0,631.5L1162.4,631.1L1162.9,630.7L1163.4,630.4L1163.9,630.0L1164.3,629.6L1164.8,629.2L1165.3,628.8L1165.8,628.4L1166.2,628.0L1166.7,627.7L1167.2,627.3L1167.6,626.9L1168.1,626.5L1168.6,626.1L1169.1,625.8L1169.5,625.4L1170.0,625.0L1170.5,624.6L1171.0,624.3L1171.4,624.2L1171.9,624.1L1172.4,624.2L1172.8,624.3L1173.3,624.4L1173.8,624.6L1174.3,624.7L1174.7,624.9L1175.2,625.0L1175.7,625.2L1176.2,625.3L1176.6,625.4L1177.1,625.6L1177.6,625.7L1178.0,625.9L1178.5,626.0L1179.0,626.1L1179.5,626.3L1179.9,626.4L1180.4,626.6L1180.9,626.7L1181.3,626.8L1181.8,626.8L1182.3,626.7L1182.8,626.5L1183.2,626.2L1183.7,625.8L1184.2,625.4L1184.7,625.1L1185.1,624.7L1185.6,624.3L1186.1,623.9L1186.5,623.5L1187.0,623.2L1187.5,622.8L1188.0,622.4L1188.4,622.0L1188.9,621.6L1189.4,621.3L1189.9,620.9L1190.3,620.5L1190.8,620.1L1191.3,619.7L1191.7,619.4L1192.2,619.0L1192.7,618.6L1193.2,618.2L1193.6,617.9L1194.1,617.5L1194.6,617.2L1195.1,617.0L1195.5,617.0L1196.0,617.1L1196.5,617.2L1196.9,617.3L1197.4,617.5L1197.9,617.6L1198.4,617.7L1198.8,617.9L1199.3,618.0L1199.8,618.2L1200.2,618.3L1200.7,618.5L1201.2,618.6L1201.7,618.8L1202.1,618.9L1202.6,619.0L1203.1,619.2L1203.6,619.3L1204.0,619.5L1204.5,619.6L1205.0,619.7L1205.4,619.8L1205.9,619.7L1206.4,619.4L1206.9,619.1L1207.3,618.8L1207.8,618.4L1208.3,618.0L1208.8,617.6L1209.2,617.3L1209.7,616.9L1210.2,616.5L1210.6,616.1L1211.1,615.8L1211.6,615.4L1212.1,615.0L1212.5,614.6L1213.0,614.3L1213.5,613.9L1214.0,613.5L1214.4,613.1L1214.9,612.8L1215.4,612.4L1215.8,612.0L1216.3,611.6L1216.8,611.3L1217.3,610.9L1217.7,610.6L1218.2,610.3L1218.7,610.1L1219.2,610.0L1219.6,610.1L1220.1,610.2L1220.6,610.4L1221.0,610.5L1221.5,610.7L1222.0,610.8L1222.5,611.0L1222.9,611.1L1223.4,611.2L1223.9,611.4L1224.3,611.5L1224.8,611.7L1225.3,611.8L1225.8,612.0L1226.2,612.1L1226.7,612.3L1227.2,612.4L1227.7,612.5L1228.1,612.7L1228.6,612.8L1229.1,612.8L1229.5,612.8L1230.0,612.6L1230.5,612.2L1231.0,611.9L1231.4,611.5L1231.9,611.1L1232.4,610.8L1232.9,610.4L1233.3,610.0L1233.8,609.7L1234.3,609.3L1234.7,608.9L1235.2,608.6L1235.7,608.2L1236.2,607.8L1236.6,607.4L1237.1,607.1L1237.6,606.7L1238.1,606.3L1238.5,606.0L1239.0,605.6L1239.5,605.2L1239.9,604.9L1240.4,604.5L1240.9,604.1L1241.4,603.8L1241.8,603.5L1242.3,603.3L1242.8,603.3L1243.2,603.3L1243.7,603.5L1244.2,603.6L1244.7,603.7L1245.1,603.9L1245.6,604.0L1246.1,604.2L1246.6,604.3L1247.0,604.5L1247.5,604.6L1248.0,604.8L1248.4,604.9L1248.9,605.1L1249.4,605.2L1249.9,605.4L1250.3,605.5L1250.8,605.7L1251.3,605.8L1251.8,605.9L1252.2,606.1L1252.7,606.1L1253.2,606.0L1253.6,605.8L1254.1,605.5L1254.6,605.2L1255.1,604.8L1255.5,604.5L1256.0,604.1L1256.5,603.7L1256.9,603.4L1257.4,603.0L1257.9,602.6L1258.4,602.3L1258.8,601.9L1259.3,601.5L1259.8,601.2L1260.3,600.8L1260.7,600.4L1261.2,600.1L1261.7,599.7L1262.1,599.3L1262.6,599.0L1263.1,598.6L1263.6,598.2L1264.0,597.9L1264.5,597.5L1265.0,597.2L1265.5,596.9L1265.9,596.7L1266.4,596.7L1266.9,596.7L1267.3,596.9L1267.8,597.0L1268.3,597.1L1268.8,597.3L1269.2,597.4L1269.7,597.6L1270.2,597.7L1270.7,597.9L1271.1,598.0L1271.6,598.2L1272.1,598.3L1272.5,598.5L1273.0,598.6L1273.5,598.8L1274.0,598.9L1274.4,599.1L1274.9,599.2L1275.4,599.4L1275.8,599.5L1276.3,599.6L1276.8,599.5L1277.3,599.3L1277.7,599.0L1278.2,598.6L1278.7,598.3L1279.2,597.9L1279.6,597.6L1280.1,597.2L1280.6,596.8L1281.0,596.5L1281.5,596.1L1282.0,595.8L1282.5,595.4L1282.9,595.0L1283.4,594.7L1283.9,594.3L1284.4,594.0L1284.8,593.6L1285.3,593.2L1285.8,592.9L1286.2,592.5L1286.7,592.2L1287.2,591.8L1287.7,591.4L1288.1,591.1L1288.6,590.7L1289.1,590.5L1289.6,590.3L1290.0,590.2L1290.5,590.3L1291.0,590.4L1291.4,590.6L1291.9,590.7L1292.4,590.9L1292.9,591.0L1293.3,591.2L1293.8,591.3L1294.3,591.5L1294.8,591.6L1295.2,591.8L1295.7,591.9L1296.2,592.1L1296.6,592.2L1297.1,592.4L1297.6,592.5L1298.1,592.7L1298.5,592.8L1299.0,593.0L1299.5,593.1L1299.9,593.2L1300.4,593.1L1300.9,592.9L1301.4,592.6L1301.8,592.3L1302.3,591.9L1302.8,591.6L1303.3,591.2L1303.7,590.9L1304.2,590.5L1304.7,590.1L1305.1,589.8L1305.6,589.4L1306.1,589.1L1306.6,588.7L1307.0,588.4L1307.5,588.0L1308.0,587.6L1308.5,587.3L1308.9,586.9L1309.4,586.6L1309.9,586.2L1310.3,585.9L1310.8,585.5L1311.3,585.2L1311.8,584.8L1312.2,584.5L1312.7,584.2L1313.2,584.0L1313.7,583.9L1314.1,584.0L1314.6,584.1L1315.1,584.3L1315.5,584.4L1316.0,584.6L1316.5,584.7L1317.0,584.9L1317.4,585.0L1317.9,585.2L1318.4,585.4L1318.8,585.5L1319.3,585.7L1319.8,585.8L1320.3,586.0L1320.7,586.1L1321.2,586.3L1321.7,586.4L1322.2,586.6L1322.6,586.7L1323.1,586.8L1323.6,586.9L1324.0,586.9L1324.5,586.7L1325.0,586.4L1325.5,586.1L1325.9,585.7L1326.4,585.4L1326.9,585.0L1327.4,584.7L1327.8,584.3L1328.3,584.0L1328.8,583.6L1329.2,583.2L1329.7,582.9L1330.2,582.5L1330.7,582.2L1331.1,581.8L1331.6,581.5L1332.1,581.1L1332.5,580.8L1333.0,580.4L1333.5,580.1L1334.0,579.7L1334.4,579.4L1334.9,579.0L1335.4,578.7L1335.9,578.4L1336.3,578.1L1336.8,577.9L1337.3,577.8L1337.7,577.9L1338.2,578.0L1338.7,578.2L1339.2,578.3L1339.6,578.5L1340.1,578.6L1340.6,578.8L1341.1,578.9L1341.5,579.1L1342.0,579.3L1342.5,579.4L1342.9,579.6L1343.4,579.7L1343.9,579.9L1344.4,580.0L1344.8,580.2L1345.3,580.3L1345.8,580.5L1346.3,580.6L1346.7,580.8L1347.2,580.8L1347.7,580.8L1348.1,580.6L1348.6,580.3L1349.1,580.0L1349.6,579.7L1350.0,579.3L1350.5,579.0L1351.0,578.6L1351.5,578.3L1351.9,577.9L1352.4,577.6L1352.9,577.2L1353.3,576.9L1353.8,576.5L1354.3,576.2L1354.8,575.8L1355.2,575.5L1355.7,575.2L1356.2,574.8L1356.6,574.5L1357.1,574.1L1357.6,573.8L1358.1,573.4L1358.5,573.1L1359.0,572.7L1359.5,572.4L1360.0,572.1L1360.4,571.9L1360.9,571.9L1361.4,571.9L1361.8,572.1L1362.3,572.2L1362.8,572.4L1363.3,572.5L1363.7,572.7L1364.2,572.8L1364.7,573.0L1365.2,573.1L1365.6,573.3L1366.1,573.5L1366.6,573.6L1367.0,573.8L1367.5,573.9L1368.0,574.1L1368.5,574.2L1368.9,574.4L1369.4,574.6L1369.9,574.7L1370.4,574.8L1370.8,574.9L1371.3,574.9L1371.8,574.7L1372.2,574.4L1372.7,574.1L1373.2,573.8L1373.7,573.4L1374.1,573.1L1374.6,572.7L1375.1,572.4L1375.5,572.1L1376.0,571.7L1376.5,571.4L1377.0,571.0L1377.4,570.7L1377.9,570.3L1378.4,570.0L1378.9,569.7L1379.3,569.3L1379.8,569.0L1380.3,568.6L1380.7,568.3L1381.2,567.9L1381.7,567.6L1382.2,567.3L1382.6,566.9L1383.1,566.6L1383.6,566.3L1384.1,566.1L1384.5,566.1L1385.0,566.1L1385.5,566.3L1385.9,566.4L1386.4,566.6L1386.9,566.7L1387.4,566.9L1387.8,567.0L1388.3,567.2L1388.8,567.4L1389.2,567.5L1389.7,567.7L1390.2,567.8L1390.7,568.0L1391.1,568.1L1391.6,568.3L1392.1,568.5L1392.6,568.6L1393.0,568.8L1393.5,568.9L1394.0,569.1L1394.4,569.1L1394.9,569.1L1395.4,569.0L1395.9,568.7L1396.3,568.4L1396.8,568.0L1397.3,567.7L1397.8,567.4L1398.2,567.0L1398.7,566.7L1399.2,566.3L1399.6,566.0L1400.1,565.7L1400.6,565.3L1401.1,565.0L1401.5,564.6L1402.0,564.3L1402.5,564.0L1403.0,563.6L1403.4,563.3L1403.9,563.0L1404.4,562.6L1404.8,562.3L1405.3,561.9L1405.8,561.6L1406.3,561.3L1406.7,560.9L1407.2,560.7L1407.7,560.5L1408.2,560.4L1408.6,560.5L1409.1,560.6L1409.6,560.8L1410.0,560.9L1410.5,561.1L1411.0,561.2L1411.5,561.4L1411.9,561.5L1412.4,561.7L1412.9,561.9L1413.3,562.0L1413.8,562.2L1414.3,562.3L1414.8,562.5L1415.2,562.7L1415.7,562.8L1416.2,563.0L1416.7,563.1L1417.1,563.3L1417.6,563.4L1418.1,563.5L1418.5,563.5L1419.0,563.3L1419.5,563.1L1420.0,562.8L1420.4,562.4L1420.9,562.1L1421.4,561.8L1421.9,561.4L1422.3,561.1L1422.8,560.8L1423.3,560.4L1423.7,560.1L1424.2,559.8L1424.7,559.4L1425.2,559.1L1425.6,558.8L1426.1,558.4L1426.6,558.1L1427.0,557.8L1427.5,557.4L1428.0,557.1L1428.5,556.8L1428.9,556.4L1429.4,556.1L1429.9,555.8L1430.4,555.4L1430.8,555.2L1431.3,555.0L1431.8,554.9L1432.2,555.0L1432.7,555.1L1433.2,555.3L1433.7,555.4L1434.1,555.6L1434.6,555.7L1435.1,555.9L1435.6,556.1L1436.0,556.2L1436.5,556.4L1437.0,556.5L1437.4,556.7L1437.9,556.9L1438.4,557.0L1438.9,557.2L1439.3,557.3L1439.8,557.5L1440.3,557.7L1440.8,557.8L1441.2,557.9L1441.7,558.0L1442.2,558.0L1442.6,557.9L1443.1,557.6L1443.6,557.3L1444.1,557.0L1444.5,556.7L1445.0,556.3L1445.5,556.0L1446.0,555.7L1446.4,555.3L1446.9,555.0L1447.4,554.7L1447.8,554.4L1448.3,554.0L1448.8,553.7L1449.3,553.4L1449.7,553.0L1450.2,552.7L1450.7,552.4L1451.1,552.0L1451.6,551.7L1452.1,551.4L1452.6,551.1L1453.0,550.7L1453.5,550.4L1454.0,550.1L1454.5,549.8L1454.9,549.6L1455.4,549.5L1455.9,549.6L1456.3,549.7L1456.8,549.9L1457.3,550.0L1457.8,550.2L1458.2,550.4L1458.7,550.5L1459.2,550.7L1459.7,550.9L1460.1,551.0L1460.6,551.2L1461.1,551.3L1461.5,551.5L1462.0,551.7L1462.5,551.8L1463.0,552.0L1463.4,552.2L1463.9,552.3L1464.4,552.5L1464.9,552.6L1465.3,552.7L1465.8,552.7L1466.3,552.6L1466.7,552.3L1467.2,552.0L1467.7,551.7L1468.2,551.4L1468.6,551.0L1469.1,550.7L1469.6,550.4L1470.0,550.1L1470.5,549.7L1471.0,549.4L1471.5,549.1L1471.9,548.8L1472.4,548.4L1472.9,548.1L1473.4,547.8L1473.8,547.4L1474.3,547.1L1474.8,546.8L1475.2,546.5L1475.7,546.1L1476.2,545.8L1476.7,545.5L1477.1,545.2L1477.6,544.9L1478.1,544.6L1478.6,544.4L1479.0,544.3L1479.5,544.4L1480.0,544.5L1480.4,544.7L1480.9,544.8L1481.4,545.0L1481.9,545.2L1482.3,545.3L1482.8,545.5L1483.3,545.6L1483.8,545.8L1484.2,546.0L1484.7,546.1L1485.2,546.3L1485.6,546.5L1486.1,546.6L1486.6,546.8L1487.1,547.0L1487.5,547.1L1488.0,547.3L1488.5,547.4L1488.9,547.5L1489.4,547.5L1489.9,547.4L1490.4,547.1L1490.8,546.8L1491.3,546.5L1491.8,546.2L1492.3,545.9L1492.7,545.6L1493.2,545.2L1493.7,544.9L1494.1,544.6L1494.6,544.3L1495.1,544.0L1495.6,543.6L1496.0,543.3L1496.5,543.0L1497.0,542.7L1497.5,542.3L1497.9,542.0L1498.4,541.7L1498.9,541.4L1499.3,541.1L1499.8,540.7L1500.3,540.4L1500.8,540.1L1501.2,539.8L1501.7,539.5L1502.2,539.3L1502.7,539.2L1503.1,539.3L1503.6,539.4L1504.1,539.6L1504.5,539.7L1505.0,539.9L1505.5,540.1L1506.0,540.2L1506.4,540.4L1506.9,540.6L1507.4,540.7L1507.8,540.9L1508.3,541.1L1508.8,541.2L1509.3,541.4L1509.7,541.6L1510.2,541.7L1510.7,541.9L1511.2,542.0L1511.6,542.2L1512.1,542.4L1512.6,542.5L1513.0,542.5L1513.5,542.3L1514.0,542.1L1514.5,541.8L1514.9,541.5L1515.4,541.2L1515.9,540.9L1516.4,540.6L1516.8,540.2L1517.3,539.9L1517.8,539.6L1518.2,539.3L1518.7,539.0L1519.2,538.6L1519.7,538.3L1520.1,538.0L1520.6,537.7L1521.1,537.4L1521.5,537.0L1522.0,536.7L1522.5,536.4L1523.0,536.1L1523.4,535.8L1523.9,535.5L1524.4,535.1L1524.9,534.8L1525.3,534.6L1525.8,534.4L1526.3,534.3L1526.7,534.4L1527.2,534.5L1527.7,534.6L1528.2,534.8L1528.6,535.0L1529.1,535.1L1529.6,535.3L1530.1,535.5L1530.5,535.6L1531.0,535.8L1531.5,536.0L1531.9,536.1L1532.4,536.3L1532.9,536.5L1533.4,536.6L1533.8,536.8L1534.3,537.0L1534.8,537.1L1535.3,537.3L1535.7,537.4L1536.2,537.5L1536.7,537.6L1537.1,537.4L1537.6,537.2L1538.1,536.9L1538.6,536.6L1539.0,536.3L1539.5,536.0L1540.0,535.7L1540.5,535.4L1540.9,535.0L1541.4,534.7L1541.9,534.4L1542.3,534.1L1542.8,533.8L1543.3,533.5L1543.8,533.2L1544.2,532.8L1544.7,532.5L1545.2,532.2L1545.6,531.9L1546.1,531.6L1546.6,531.3L1547.1,531.0L1547.5,530.6L1548.0,530.3L1548.5,530.0L1549.0,529.8L1549.4,529.6L1549.9,529.5L1550.4,529.5L1550.8,529.7L1551.3,529.8L1551.8,530.0L1552.3,530.2L1552.7,530.3L1553.2,530.5L1553.7,530.7L1554.2,530.8L1554.6,531.0L1555.1,531.2L1555.6,531.3L1556.0,531.5L1556.5,531.7L1557.0,531.8L1557.5,532.0L1557.9,532.2L1558.4,532.3L1558.9,532.5L1559.4,532.6L1559.8,532.7L1560.3,532.8L1560.8,532.7L1561.2,532.4L1561.7,532.2L1562.2,531.9L1562.7,531.5L1563.1,531.2L1563.6,530.9L1564.1,530.6L1564.5,530.3L1565.0,530.0L1565.5,529.7L1566.0,529.4L1566.4,529.1L1566.9,528.7L1567.4,528.4L1567.9,528.1L1568.3,527.8L1568.8,527.5L1569.3,527.2L1569.7,526.9L1570.2,526.6L1570.7,526.3L1571.2,526.0L1571.6,525.6L1572.1,525.4L1572.6,525.1L1573.1,524.9L1573.5,524.8L1574.0,524.9L1574.5,525.0L1574.9,525.1L1575.4,525.3L1575.9,525.5L1576.4,525.6L1576.8,525.8L1577.3,526.0L1577.8,526.2L1578.2,526.3L1578.7,526.5L1579.2,526.7L1579.7,526.8L1580.1,527.0L1580.6,527.2L1581.1,527.3L1581.6,527.5L1582.0,527.7L1582.5,527.8L1583.0,528.0L1583.4,528.1L1583.9,528.1L1584.4,528.0L1584.9,527.8L1585.3,527.5L1585.8,527.2L1586.3,526.9L1586.8,526.6L1587.2,526.3L1587.7,526.0L1588.2,525.7L1588.6,525.4L1589.1,525.1L1589.6,524.8L1590.1,524.5L1590.5,524.2L1591.0,523.8L1591.5,523.5L1592.0,523.2L1592.4,522.9L1592.9,522.6L1593.4,522.3L1593.8,522.0L1594.3,521.7L1594.8,521.4L1595.3,521.1L1595.7,520.8L1596.2,520.5L1596.7,520.3L1597.2,520.3L1597.6,520.3L1598.1,520.4L1598.6,520.6L1599.0,520.8L1599.5,520.9L1600.0,521.1L1600.5,521.3L1600.9,521.4L1601.4,521.6L1601.9,521.8L1602.3,521.9L1602.8,522.1L1603.3,522.3L1603.8,522.4L1604.2,522.6L1604.7,522.8L1605.2,523.0L1605.7,523.1L1606.1,523.3L1606.6,523.4L1607.1,523.6L1607.5,523.6L1608.0,523.5L1608.5,523.3L1609.0,523.0L1609.4,522.7L1609.9,522.4L1610.4,522.1L1610.9,521.8L1611.3,521.5L1611.8,521.2L1612.3,520.9L1612.7,520.6L1613.2,520.3L1613.7,520.0L1614.2,519.7L1614.6,519.4L1615.1,519.1L1615.6,518.8L1616.0,518.5L1616.5,518.2L1617.0,517.9L1617.5,517.6L1617.9,517.3L1618.4,517.0L1618.9,516.7L1619.4,516.4L1619.8,516.1L1620.3,515.9L1620.8,515.8L1621.2,515.9L1621.7,516.0L1622.2,516.2L1622.7,516.3L1623.1,516.5L1623.6,516.7L1624.1,516.8L1624.6,517.0L1625.0,517.2L1625.5,517.4L1626.0,517.5L1626.4,517.7L1626.9,517.9L1627.4,518.0L1627.9,518.2L1628.3,518.4L1628.8,518.5L1629.3,518.7L1629.8,518.9L1630.2,519.0L1630.7,519.2L1631.2,519.2L1631.6,519.1L1632.1,518.9L1632.6,518.6L1633.1,518.3L1633.5,518.0L1634.0,517.7L1634.5,517.4L1635.0,517.1L1635.4,516.8L1635.9,516.5L1636.4,516.2L1636.8,515.9L1637.3,515.6L1637.8,515.3L1638.3,515.0L1638.7,514.7L1639.2,514.4L1639.7,514.2L1640.1,513.9L1640.6,513.6L1641.1,513.3L1641.6,513.0L1642.0,512.7L1642.5,512.4L1643.0,512.1L1643.5,511.8L1643.9,511.6L1644.4,511.5L1644.9,511.6L1645.3,511.7L1645.8,511.9L1646.3,512.0L1646.8,512.2L1647.2,512.4L1647.7,512.5L1648.2,512.7L1648.7,512.9L1649.1,513.1L1649.6,513.2L1650.1,513.4L1650.5,513.6L1651.0,513.7L1651.5,513.9L1652.0,514.1L1652.4,514.3L1652.9,514.4L1653.4,514.6L1653.9,514.7L1654.3,514.9L1654.8,514.9L1655.3,514.8L1655.7,514.6L1656.2,514.4L1656.7,514.1L1657.2,513.8L1657.6,513.5L1658.1,513.2L1658.6,512.9L1659.0,512.6L1659.5,512.3L1660.0,512.0L1660.5,511.7L1660.9,511.4L1661.4,511.1L1661.9,510.8L1662.4,510.5L1662.8,510.2L1663.3,509.9L1663.8,509.7L1664.2,509.4L1664.7,509.1L1665.2,508.8L1665.7,508.5L1666.1,508.2L1666.6,507.9L1667.1,507.6L1667.6,507.4L1668.0,507.3L1668.5,507.4L1669.0,507.5L1669.4,507.7L1669.9,507.8L1670.4,508.0L1670.9,508.2L1671.3,508.4L1671.8,508.5L1672.3,508.7L1672.8,508.9L1673.2,509.1L1673.7,509.2L1674.2,509.4L1674.6,509.6L1675.1,509.7L1675.6,509.9L1676.1,510.1L1676.5,510.3L1677.0,510.4L1677.5,510.6L1677.9,510.7L1678.4,510.8L1678.9,510.7L1679.4,510.5L1679.8,510.2L1680.3,510.0L1680.8,509.7L1681.3,509.4L1681.7,509.1L1682.2,508.8L1682.7,508.5L1683.1,508.2L1683.6,507.9L1684.1,507.6L1684.6,507.3L1685.0,507.0L1685.5,506.7L1686.0,506.4L1686.5,506.2L1686.9,505.9L1687.4,505.6L1687.9,505.3L1688.3,505.0L1688.8,504.7L1689.3,504.4L1689.8,504.1L1690.2,503.8L1690.7,503.6L1691.2,503.4L1691.7,503.3L1692.1,503.3L1692.6,503.5L1693.1,503.6L1693.5,503.8L1694.0,504.0L1694.5,504.1L1695.0,504.3L1695.4,504.5L1695.9,504.6L1696.4,504.8L1696.8,505.0L1697.3,505.2L1697.8,505.3L1698.3,505.5L1698.7,505.7L1699.2,505.9L1699.7,506.0L1700.2,506.2L1700.6,506.4L1701.1,506.5L1701.6,506.7L1702.0,506.7L1702.5,506.7L1703.0,506.5L1703.5,506.2L1703.9,505.9L1704.4,505.7L1704.9,505.4L1705.4,505.1L1705.8,504.8L1706.3,504.5L1706.8,504.2L1707.2,503.9L1707.7,503.6L1708.2,503.3L1708.7,503.1L1709.1,502.8L1709.6,502.5L1710.1,502.2L1710.5,501.9L1711.0,501.6L1711.5,501.3L1712.0,501.0L1712.4,500.7L1712.9,500.5L1713.4,500.2L1713.9,499.9L1714.3,499.6L1714.8,499.4L1715.3,499.3L1715.7,499.4L1716.2,499.5L1716.7,499.7L1717.2,499.8L1717.6,500.0L1718.1,500.2L1718.6,500.4L1719.1,500.5L1719.5,500.7L1720.0,500.9" fill="none" stroke="#0000ff" stroke-width="7.8" stroke-linecap="square" stroke-linejoin="round"/>
<rect x="341" y="272.0" width="84.8" height="7.8" fill="#ff0000"/>
<rect x="341" y="363.4" width="84.8" height="7.8" fill="#ff8000"/>
<rect x="341" y="455.1" width="84.8" height="7.8" fill="#000000"/>
<rect x="341" y="546.7" width="84.8" height="7.8" fill="#00ff00"/>
<rect x="341" y="638.6" width="84.8" height="7.8" fill="#0000ff"/>
<rect x="754.9" y="329" width="215.9" height="182" fill="#8faadc"/>
<path d="M804.2,329 H917 A57,57 0 0 1 804.2,329 Z" fill="#ed7d31" stroke="#000" stroke-width="3.2"/>
<line x1="996.3" y1="389" x2="996.3" y2="498" stroke="#000" stroke-width="3.2"/>
<path d="M996.3,375.7 L1004.1,391.8 L988.5,391.8 Z" fill="#000"/>
<path d="M996.3,511 L1004.1,495.4 L988.5,495.4 Z" fill="#000"/>
<line x1="256.75" y1="2362.0" x2="1745.9" y2="2362.0" stroke="#808080" stroke-width="5.8" stroke-dasharray="16.8 4.553"/>
<rect x="257.5" y="1572.5" width="1484.0" height="929.6" fill="none" stroke="#606060" stroke-width="3"/>
<g stroke="#606060" fill="none"><line x1="316.86" y1="2502.1" x2="316.86" y2="2493.8" stroke-width="2.5"/><line x1="316.86" y1="1572.5" x2="316.86" y2="1580.8" stroke-width="2.5"/><line x1="376.21" y1="2502.1" x2="376.21" y2="2493.8" stroke-width="2.5"/><line x1="376.21" y1="1572.5" x2="376.21" y2="1580.8" stroke-width="2.5"/><line x1="435.57" y1="2502.1" x2="435.57" y2="2493.8" stroke-width="2.5"/><line x1="435.57" y1="1572.5" x2="435.57" y2="1580.8" stroke-width="2.5"/><line x1="494.92" y1="2502.1" x2="494.92" y2="2493.8" stroke-width="2.5"/><line x1="494.92" y1="1572.5" x2="494.92" y2="1580.8" stroke-width="2.5"/><line x1="554.28" y1="2502.1" x2="554.28" y2="2487.9" stroke-width="2.8"/><line x1="554.28" y1="1572.5" x2="554.28" y2="1586.7" stroke-width="2.8"/><line x1="613.64" y1="2502.1" x2="613.64" y2="2493.8" stroke-width="2.5"/><line x1="613.64" y1="1572.5" x2="613.64" y2="1580.8" stroke-width="2.5"/><line x1="672.99" y1="2502.1" x2="672.99" y2="2493.8" stroke-width="2.5"/><line x1="672.99" y1="1572.5" x2="672.99" y2="1580.8" stroke-width="2.5"/><line x1="732.35" y1="2502.1" x2="732.35" y2="2493.8" stroke-width="2.5"/><line x1="732.35" y1="1572.5" x2="732.35" y2="1580.8" stroke-width="2.5"/><line x1="791.70" y1="2502.1" x2="791.70" y2="2493.8" stroke-width="2.5"/><line x1="791.70" y1="1572.5" x2="791.70" y2="1580.8" stroke-width="2.5"/><line x1="851.06" y1="2502.1" x2="851.06" y2="2487.9" stroke-width="2.8"/><line x1="851.06" y1="1572.5" x2="851.06" y2="1586.7" stroke-width="2.8"/><line x1="910.42" y1="2502.1" x2="910.42" y2="2493.8" stroke-width="2.5"/><line x1="910.42" y1="1572.5" x2="910.42" y2="1580.8" stroke-width="2.5"/><line x1="969.77" y1="2502.1" x2="969.77" y2="2493.8" stroke-width="2.5"/><line x1="969.77" y1="1572.5" x2="969.77" y2="1580.8" stroke-width="2.5"/><line x1="1029.13" y1="2502.1" x2="1029.13" y2="2493.8" stroke-width="2.5"/><line x1="1029.13" y1="1572.5" x2="1029.13" y2="1580.8" stroke-width="2.5"/><line x1="1088.48" y1="2502.1" x2="1088.48" y2="2493.8" stroke-width="2.5"/><line x1="1088.48" y1="1572.5" x2="1088.48" y2="1580.8" stroke-width="2.5"/><line x1="1147.84" y1="2502.1" x2="1147.84" y2="2487.9" stroke-width="2.8"/><line x1="1147.84" y1="1572.5" x2="1147.84" y2="1586.7" stroke-width="2.8"/><line x1="1207.20" y1="2502.1" x2="1207.20" y2="2493.8" stroke-width="2.5"/><line x1="1207.20" y1="1572.5" x2="1207.20" y2="1580.8" stroke-width="2.5"/><line x1="1266.55" y1="2502.1" x2="1266.55" y2="2493.8" stroke-width="2.5"/><line x1="1266.55" y1="1572.5" x2="1266.55" y2="1580.8" stroke-width="2.5"/><line x1="1325.91" y1="2502.1" x2="1325.91" y2="2493.8" stroke-width="2.5"/><line x1="1325.91" y1="1572.5" x2="1325.91" y2="1580.8" stroke-width="2.5"/><line x1="1385.26" y1="2502.1" x2="1385.26" y2="2493.8" stroke-width="2.5"/><line x1="1385.26" y1="1572.5" x2="1385.26" y2="1580.8" stroke-width="2.5"/><line x1="1444.62" y1="2502.1" x2="1444.62" y2="2487.9" stroke-width="2.8"/><line x1="1444.62" y1="1572.5" x2="1444.62" y2="1586.7" stroke-width="2.8"/><line x1="1503.98" y1="2502.1" x2="1503.98" y2="2493.8" stroke-width="2.5"/><line x1="1503.98" y1="1572.5" x2="1503.98" y2="1580.8" stroke-width="2.5"/><line x1="1563.33" y1="2502.1" x2="1563.33" y2="2493.8" stroke-width="2.5"/><line x1="1563.33" y1="1572.5" x2="1563.33" y2="1580.8" stroke-width="2.5"/><line x1="1622.69" y1="2502.1" x2="1622.69" y2="2493.8" stroke-width="2.5"/><line x1="1622.69" y1="1572.5" x2="1622.69" y2="1580.8" stroke-width="2.5"/><line x1="1682.04" y1="2502.1" x2="1682.04" y2="2493.8" stroke-width="2.5"/><line x1="1682.04" y1="1572.5" x2="1682.04" y2="1580.8" stroke-width="2.5"/><line x1="257.5" y1="2454.78" x2="265.9" y2="2454.78" stroke-width="2.5"/><line x1="1741.5" y1="2454.78" x2="1733.1" y2="2454.78" stroke-width="2.5"/><line x1="257.5" y1="2408.34" x2="265.9" y2="2408.34" stroke-width="2.5"/><line x1="1741.5" y1="2408.34" x2="1733.1" y2="2408.34" stroke-width="2.5"/><line x1="257.5" y1="2361.90" x2="272.0" y2="2361.90" stroke-width="2.8"/><line x1="1741.5" y1="2361.90" x2="1727.0" y2="2361.90" stroke-width="2.8"/><line x1="257.5" y1="2315.46" x2="265.9" y2="2315.46" stroke-width="2.5"/><line x1="1741.5" y1="2315.46" x2="1733.1" y2="2315.46" stroke-width="2.5"/><line x1="257.5" y1="2269.02" x2="265.9" y2="2269.02" stroke-width="2.5"/><line x1="1741.5" y1="2269.02" x2="1733.1" y2="2269.02" stroke-width="2.5"/><line x1="257.5" y1="2222.58" x2="265.9" y2="2222.58" stroke-width="2.5"/><line x1="1741.5" y1="2222.58" x2="1733.1" y2="2222.58" stroke-width="2.5"/><line x1="257.5" y1="2176.14" x2="265.9" y2="2176.14" stroke-width="2.5"/><line x1="1741.5" y1="2176.14" x2="1733.1" y2="2176.14" stroke-width="2.5"/><line x1="257.5" y1="2129.70" x2="272.0" y2="2129.70" stroke-width="2.8"/><line x1="1741.5" y1="2129.70" x2="1727.0" y2="2129.70" stroke-width="2.8"/><line x1="257.5" y1="2083.26" x2="265.9" y2="2083.26" stroke-width="2.5"/><line x1="1741.5" y1="2083.26" x2="1733.1" y2="2083.26" stroke-width="2.5"/><line x1="257.5" y1="2036.82" x2="265.9" y2="2036.82" stroke-width="2.5"/><line x1="1741.5" y1="2036.82" x2="1733.1" y2="2036.82" stroke-width="2.5"/><line x1="257.5" y1="1990.38" x2="265.9" y2="1990.38" stroke-width="2.5"/><line x1="1741.5" y1="1990.38" x2="1733.1" y2="1990.38" stroke-width="2.5"/><line x1="257.5" y1="1943.94" x2="265.9" y2="1943.94" stroke-width="2.5"/><line x1="1741.5" y1="1943.94" x2="1733.1" y2="1943.94" stroke-width="2.5"/><line x1="257.5" y1="1897.50" x2="272.0" y2="1897.50" stroke-width="2.8"/><line x1="1741.5" y1="1897.50" x2="1727.0" y2="1897.50" stroke-width="2.8"/><line x1="257.5" y1="1851.06" x2="265.9" y2="1851.06" stroke-width="2.5"/><line x1="1741.5" y1="1851.06" x2="1733.1" y2="1851.06" stroke-width="2.5"/><line x1="257.5" y1="1804.62" x2="265.9" y2="1804.62" stroke-width="2.5"/><line x1="1741.5" y1="1804.62" x2="1733.1" y2="1804.62" stroke-width="2.5"/><line x1="257.5" y1="1758.18" x2="265.9" y2="1758.18" stroke-width="2.5"/><line x1="1741.5" y1="1758.18" x2="1733.1" y2="1758.18" stroke-width="2.5"/><line x1="257.5" y1="1711.74" x2="265.9" y2="1711.74" stroke-width="2.5"/><line x1="1741.5" y1="1711.74" x2="1733.1" y2="1711.74" stroke-width="2.5"/><line x1="257.5" y1="1665.30" x2="272.0" y2="1665.30" stroke-width="2.8"/><line x1="1741.5" y1="1665.30" x2="1727.0" y2="1665.30" stroke-width="2.8"/><line x1="257.5" y1="1618.86" x2="265.9" y2="1618.86" stroke-width="2.5"/><line x1="1741.5" y1="1618.86" x2="1733.1" y2="1618.86" stroke-width="2.5"/></g>
<circle cx="405.9" cy="1633.4" r="12.2" fill="#ff0000"/>
<circle cx="554.2" cy="1687.5" r="12.2" fill="#ff0000"/>
<circle cx="850.9" cy="1776.3" r="12.2" fill="#ff0000"/>
<circle cx="1148.0" cy="1837.3" r="12.2" fill="#ff0000"/>
<circle cx="1445.0" cy="1878.4" r="12.2" fill="#ff0000"/>
<rect x="396.9" y="1621.9" width="17" height="17" fill="#ff8000"/>
<rect x="545.2" y="1676.0" width="17" height="17" fill="#ff8000"/>
<rect x="841.9" y="1764.8" width="17" height="17" fill="#ff8000"/>
<rect x="1139.0" y="1825.8" width="17" height="17" fill="#ff8000"/>
<rect x="1436.0" y="1866.9" width="17" height="17" fill="#ff8000"/>
<path d="M406.4,2349.1 L422.4,2363.5 L406.4,2377.8 L390.4,2363.5 Z" fill="#000"/>
<path d="M554.7,2349.1 L570.7,2363.5 L554.7,2377.8 L538.7,2363.5 Z" fill="#000"/>
<path d="M851.4,2349.1 L867.4,2363.5 L851.4,2377.8 L835.4,2363.5 Z" fill="#000"/>
<path d="M1148.5,2349.1 L1164.5,2363.5 L1148.5,2377.8 L1132.5,2363.5 Z" fill="#000"/>
<path d="M1445.5,2349.1 L1461.5,2363.5 L1445.5,2377.8 L1429.5,2363.5 Z" fill="#000"/>
<path d="M405.9,2349.8 L418.5,2374.9 L393.3,2374.9 Z" fill="#00ff00"/>
<path d="M554.2,2349.8 L566.8,2374.9 L541.6,2374.9 Z" fill="#00ff00"/>
<path d="M850.9,2349.8 L863.5,2374.9 L838.3,2374.9 Z" fill="#00ff00"/>
<path d="M1148.0,2349.8 L1160.6,2374.9 L1135.4,2374.9 Z" fill="#00ff00"/>
<path d="M1445.0,2349.8 L1457.6,2374.9 L1432.4,2374.9 Z" fill="#00ff00"/>
<circle cx="188" cy="1389.5" r="12.2" fill="#ff0000"/>
<rect x="179.1" y="1465.9" width="17" height="17" fill="#ff8000"/>
<path d="M1061.5,1373.7 L1077.1,1387.7 L1061.5,1401.7 L1045.9,1387.7 Z" fill="#000"/>
<path d="M1060,1467.7 L1072.2,1492.9 L1047.8,1492.9 Z" fill="#00ff00"/>
<text class="c" x="23.0" y="118.7" font-family="Carlito, 'Liberation Sans', sans-serif" font-weight="400" font-size="155" fill="#000" textLength="86.6" lengthAdjust="spacingAndGlyphs">A</text>
<text class="c" x="147.3" y="213.3" font-family="Carlito, 'Liberation Sans', sans-serif" font-weight="400" font-size="65" fill="#000" textLength="98.4" lengthAdjust="spacing" xml:space="preserve">299</text>
<text class="c" x="147.0" y="362.0" font-family="Carlito, 'Liberation Sans', sans-serif" font-weight="400" font-size="65" fill="#000" textLength="99.8" lengthAdjust="spacing" xml:space="preserve">298</text>
<text class="c" x="147.7" y="510.0" font-family="Carlito, 'Liberation Sans', sans-serif" font-weight="400" font-size="65" fill="#000" textLength="98.1" lengthAdjust="spacing" xml:space="preserve">297</text>
<text class="c" x="146.8" y="660.2" font-family="Carlito, 'Liberation Sans', sans-serif" font-weight="400" font-size="65" fill="#000" textLength="99.3" lengthAdjust="spacing" xml:space="preserve">296</text>
<text class="c" x="147.2" y="813.0" font-family="Carlito, 'Liberation Sans', sans-serif" font-weight="400" font-size="65" fill="#000" textLength="100.6" lengthAdjust="spacing" xml:space="preserve">295</text>
<text class="c" x="147.2" y="955.0" font-family="Carlito, 'Liberation Sans', sans-serif" font-weight="400" font-size="65" fill="#000" textLength="97.6" lengthAdjust="spacing" xml:space="preserve">294</text>
<text class="c" x="147.7" y="1097.6" font-family="Carlito, 'Liberation Sans', sans-serif" font-weight="400" font-size="65" fill="#000" textLength="98.3" lengthAdjust="spacing" xml:space="preserve">293</text>
<text class="c" x="278.2" y="1175.4" font-family="Carlito, 'Liberation Sans', sans-serif" font-weight="400" font-size="65" fill="#000" textLength="33.7" lengthAdjust="spacingAndGlyphs">0</text>
<text class="c" x="494.7" y="1175.4" font-family="Carlito, 'Liberation Sans', sans-serif" font-weight="400" font-size="65" fill="#000" textLength="68.2" lengthAdjust="spacing" xml:space="preserve">10</text>
<text class="c" x="734.6" y="1175.4" font-family="Carlito, 'Liberation Sans', sans-serif" font-weight="400" font-size="65" fill="#000" textLength="67.6" lengthAdjust="spacing" xml:space="preserve">20</text>
<text class="c" x="974.0" y="1175.4" font-family="Carlito, 'Liberation Sans', sans-serif" font-weight="400" font-size="65" fill="#000" textLength="66.8" lengthAdjust="spacing" xml:space="preserve">30</text>
<text class="c" x="1213.7" y="1175.4" font-family="Carlito, 'Liberation Sans', sans-serif" font-weight="400" font-size="65" fill="#000" textLength="65.1" lengthAdjust="spacing" xml:space="preserve">40</text>
<text class="c" x="1450.5" y="1175.4" font-family="Carlito, 'Liberation Sans', sans-serif" font-weight="400" font-size="65" fill="#000" textLength="67.1" lengthAdjust="spacing" xml:space="preserve">50</text>
<text class="c" x="1688.7" y="1175.4" font-family="Carlito, 'Liberation Sans', sans-serif" font-weight="400" font-size="65" fill="#000" textLength="68.7" lengthAdjust="spacing" xml:space="preserve">60</text>
<text class="c" x="891.0" y="1258.6" font-family="Carlito, 'Liberation Sans', sans-serif" font-weight="400" font-size="74.4" fill="#000" textLength="246.6" lengthAdjust="spacing" xml:space="preserve">Time (s)</text>
<text class="c" transform="translate(90.2,915.9) rotate(-90)" x="0" y="0" font-family="Carlito, 'Liberation Sans', sans-serif" font-weight="400" font-size="85.6" fill="#000" textLength="579.8" lengthAdjust="spacing" xml:space="preserve">Temperature&#160;&#160;(K)</text>
<text class="c" x="22.9" y="1308.6" font-family="Carlito, 'Liberation Sans', sans-serif" font-weight="400" font-size="153" fill="#000" textLength="83.4" lengthAdjust="spacingAndGlyphs">B</text>
<text class="c" x="238.7" y="1406.0" font-family="Carlito, 'Liberation Sans', sans-serif" font-weight="400" font-size="64.0" fill="#000" textLength="579.3" lengthAdjust="spacing" xml:space="preserve">No correction using A</text>
<text class="c" x="234.0" y="1494.6" font-family="Carlito, 'Liberation Sans', sans-serif" font-weight="400" font-size="64.0" fill="#000" textLength="779.2" lengthAdjust="spacing" xml:space="preserve">No correction using S0 &amp; S90</text>
<text class="c" x="1117.9" y="1406.0" font-family="Carlito, 'Liberation Sans', sans-serif" font-weight="400" font-size="64.0" fill="#000" textLength="493.1" lengthAdjust="spacing" xml:space="preserve">Correction using A</text>
<text class="c" x="1113.0" y="1495.0" font-family="Carlito, 'Liberation Sans', sans-serif" font-weight="400" font-size="64.0" fill="#000" textLength="691.1" lengthAdjust="spacing" xml:space="preserve">Correction using S0 &amp; S90</text>
<text class="c" x="155.6" y="1688.0" font-family="Carlito, 'Liberation Sans', sans-serif" font-weight="400" font-size="65" fill="#000" textLength="82.8" lengthAdjust="spacing" xml:space="preserve">2.5</text>
<text class="c" x="155.9" y="1920.4" font-family="Carlito, 'Liberation Sans', sans-serif" font-weight="400" font-size="65" fill="#000" textLength="81.3" lengthAdjust="spacing" xml:space="preserve">2.0</text>
<text class="c" x="154.9" y="2155.2" font-family="Carlito, 'Liberation Sans', sans-serif" font-weight="400" font-size="65" fill="#000" textLength="83.3" lengthAdjust="spacing" xml:space="preserve">1.5</text>
<text class="c" x="154.9" y="2398.3" font-family="Carlito, 'Liberation Sans', sans-serif" font-weight="400" font-size="65" fill="#000" textLength="82.3" lengthAdjust="spacing" xml:space="preserve">1.0</text>
<text class="c" x="236.0" y="2578.5" font-family="Carlito, 'Liberation Sans', sans-serif" font-weight="400" font-size="65" fill="#000" textLength="33.0" lengthAdjust="spacingAndGlyphs">0</text>
<text class="c" x="536.4" y="2577.4" font-family="Carlito, 'Liberation Sans', sans-serif" font-weight="400" font-size="65" fill="#000" textLength="33.6" lengthAdjust="spacingAndGlyphs">1</text>
<text class="c" x="834.9" y="2583.0" font-family="Carlito, 'Liberation Sans', sans-serif" font-weight="400" font-size="65" fill="#000" textLength="32.7" lengthAdjust="spacingAndGlyphs">2</text>
<text class="c" x="1133.8" y="2583.6" font-family="Carlito, 'Liberation Sans', sans-serif" font-weight="400" font-size="65" fill="#000" textLength="34.3" lengthAdjust="spacingAndGlyphs">3</text>
<text class="c" x="1430.7" y="2581.8" font-family="Carlito, 'Liberation Sans', sans-serif" font-weight="400" font-size="65" fill="#000" textLength="32.7" lengthAdjust="spacingAndGlyphs">4</text>
<text class="c" x="1723.6" y="2583.6" font-family="Carlito, 'Liberation Sans', sans-serif" font-weight="400" font-size="65" fill="#000" textLength="34.1" lengthAdjust="spacingAndGlyphs">5</text>
<text class="c" x="900.0" y="2676.9" font-family="Carlito, 'Liberation Sans', sans-serif" font-weight="400" font-size="76" fill="#000" textLength="200.9" lengthAdjust="spacing" xml:space="preserve">l (mm)</text>
<text class="c" transform="translate(92.4,2507.0) rotate(-90)" x="0" y="0" font-family="Carlito, 'Liberation Sans', sans-serif" font-weight="400" font-size="75.5" fill="#000" textLength="914.4" lengthAdjust="spacing" xml:space="preserve">Computed heating slope (K/s)</text>
<text class="c" x="1176.1" y="2249.7" font-family="Carlito, 'Liberation Sans', sans-serif" font-weight="400" font-size="74.7" fill="#7f7f7f" textLength="505.2" lengthAdjust="spacing" xml:space="preserve">Predicted values</text>
<text x="456.8" y="293.8" font-family="'Liberation Sans', Arial, sans-serif" font-weight="700" font-size="53" fill="#000" textLength="180.2" lengthAdjust="spacing" xml:space="preserve">0.5 mm</text>
<text x="457.9" y="385.7" font-family="'Liberation Sans', Arial, sans-serif" font-weight="700" font-size="53" fill="#000" textLength="132.7" lengthAdjust="spacing" xml:space="preserve">1 mm</text>
<text x="456.8" y="477.9" font-family="'Liberation Sans', Arial, sans-serif" font-weight="700" font-size="53" fill="#000" textLength="133.8" lengthAdjust="spacing" xml:space="preserve">2 mm</text>
<text x="457.8" y="569.6" font-family="'Liberation Sans', Arial, sans-serif" font-weight="700" font-size="53" fill="#000" textLength="132.8" lengthAdjust="spacing" xml:space="preserve">3 mm</text>
<text x="456.7" y="661.7" font-family="'Liberation Sans', Arial, sans-serif" font-weight="700" font-size="53" fill="#000" textLength="133.9" lengthAdjust="spacing" xml:space="preserve">4 mm</text>
<text transform="translate(1026.1,2232.6) scale(1,1.36)" x="0" y="20.50" font-family="Carlito, 'Liberation Sans', sans-serif" font-size="74.7" fill="#7f7f7f" letter-spacing="-2.06">------</text>
<text x="1014.0" y="455.9" font-family="'Liberation Sans', Arial, sans-serif" font-weight="700" font-size="55" fill="#000">l</text>
</svg></body></html>
